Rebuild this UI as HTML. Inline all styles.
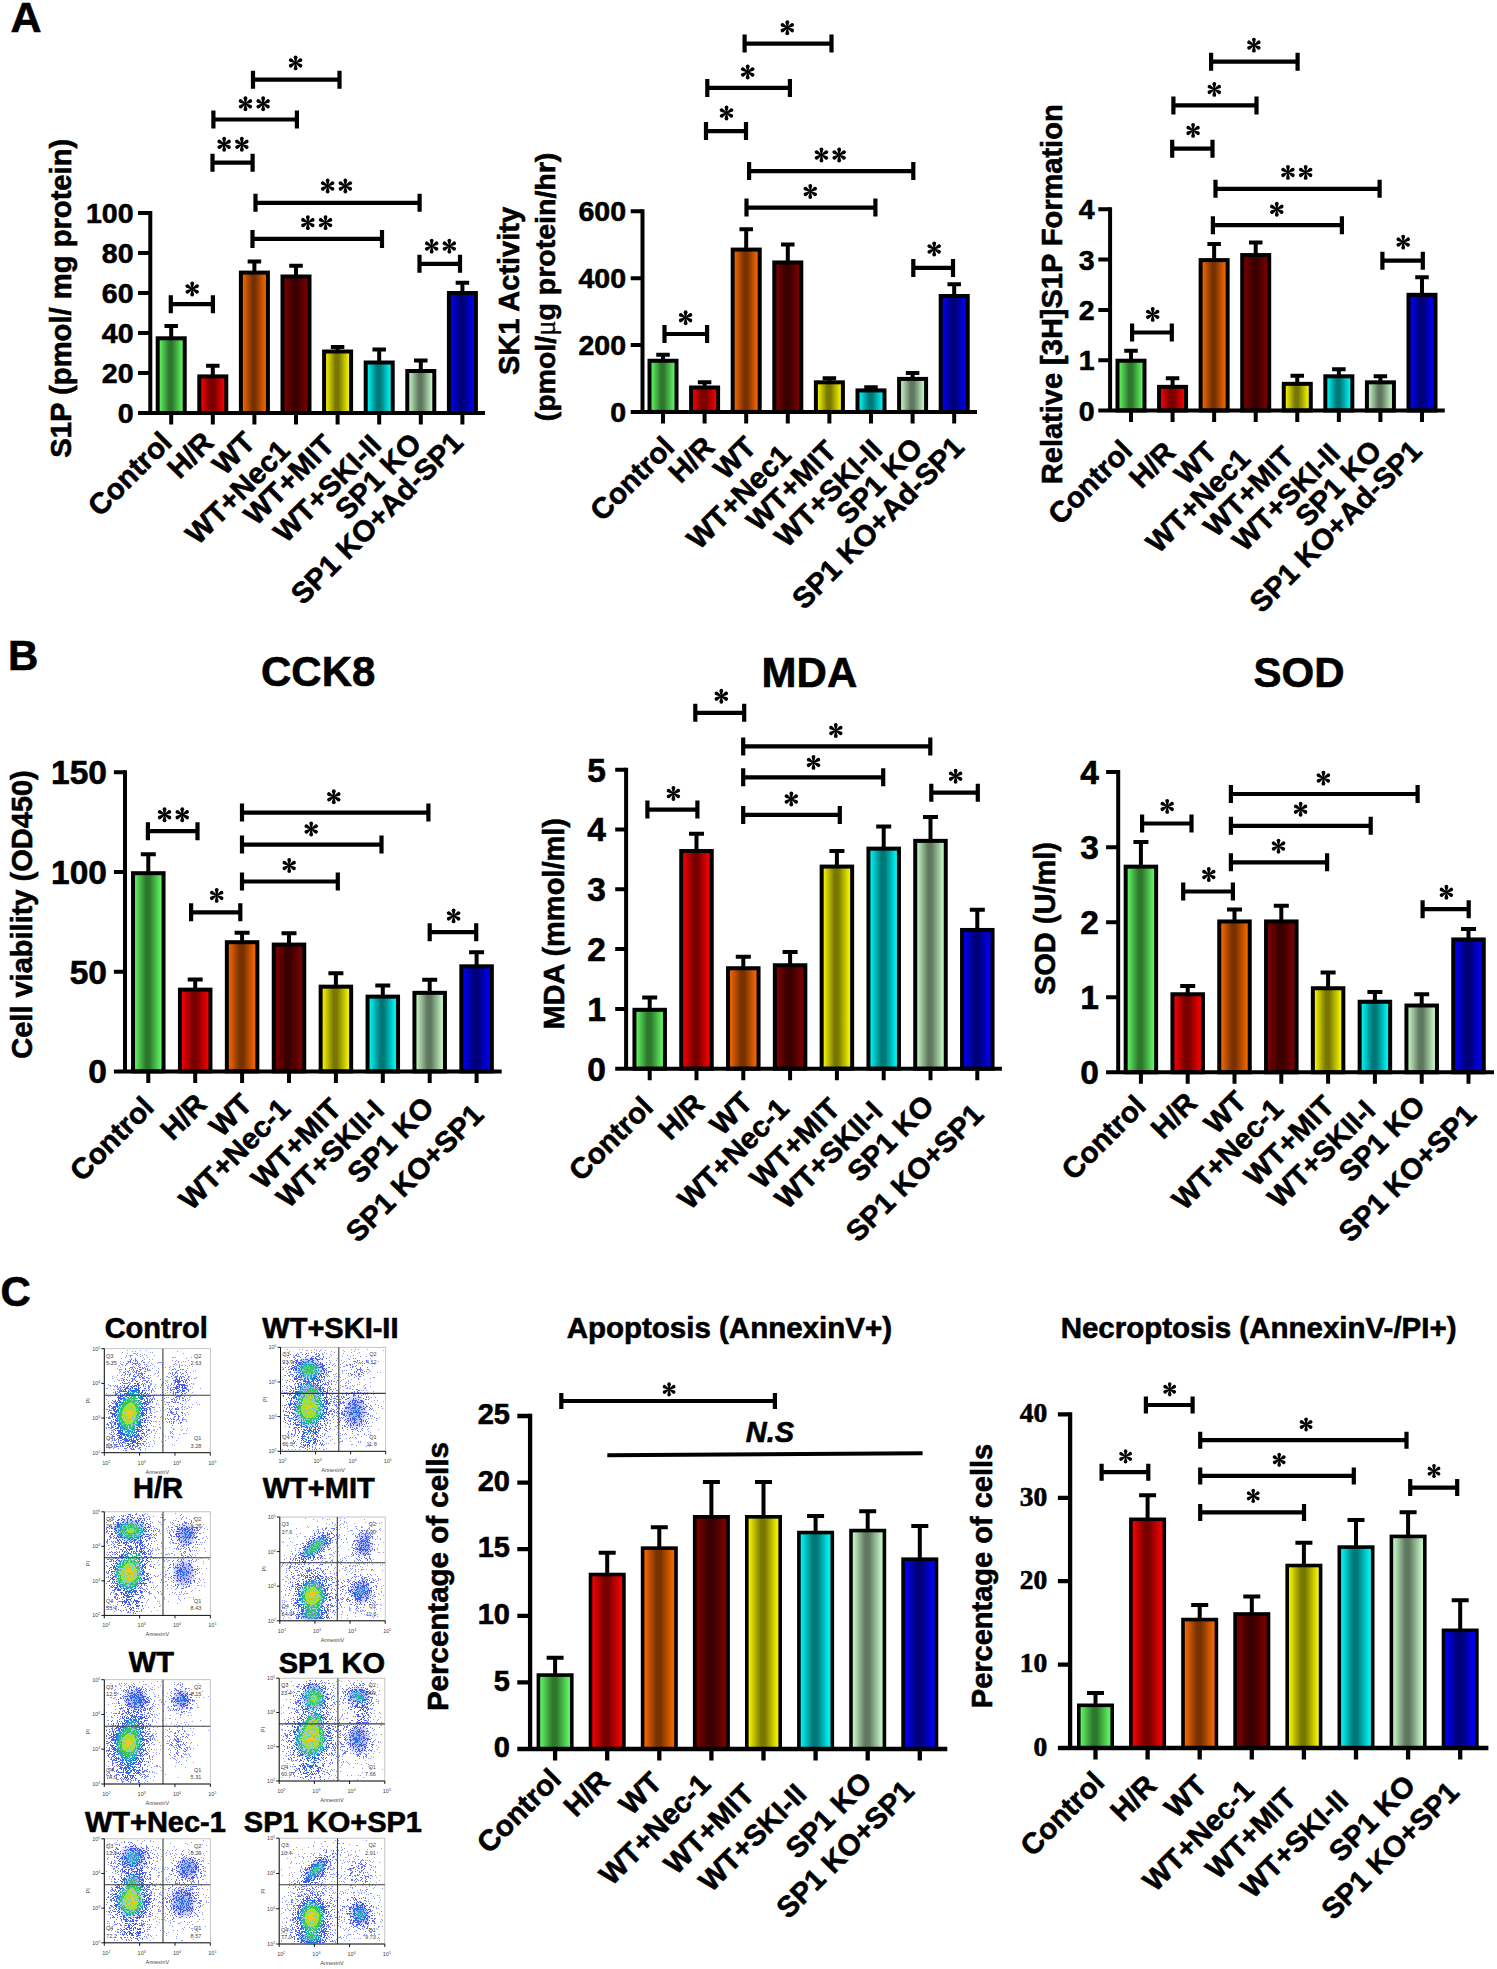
<!DOCTYPE html>
<html><head><meta charset="utf-8"><title>Figure</title>
<style>html,body{margin:0;padding:0;background:#fff;overflow:hidden;}svg{display:block;}.t{font-family:"Liberation Sans",sans-serif;font-weight:bold;stroke:#000;stroke-width:0.6;}.ts{font-family:"Liberation Serif",serif;font-weight:bold;stroke:#000;stroke-width:0.6;}.mu{font-family:"Liberation Serif",serif;font-weight:normal;stroke-width:0.3;}.s{font-family:"Liberation Sans",sans-serif;font-size:5.5px;fill:#444;}</style></head><body>
<svg width="1497" height="1969" viewBox="0 0 1497 1969">
<defs>
<linearGradient id="g0" x1="0" y1="0" x2="1" y2="0"><stop offset="0" stop-color="#5ef05e"/><stop offset="0.08" stop-color="#5ef05e"/><stop offset="0.42" stop-color="#2e782e"/><stop offset="0.54" stop-color="#2e782e"/><stop offset="0.9" stop-color="#5ef05e"/><stop offset="1" stop-color="#5ef05e"/></linearGradient>
<linearGradient id="g1" x1="0" y1="0" x2="1" y2="0"><stop offset="0" stop-color="#f00000"/><stop offset="0.08" stop-color="#f00000"/><stop offset="0.42" stop-color="#780000"/><stop offset="0.54" stop-color="#780000"/><stop offset="0.9" stop-color="#f00000"/><stop offset="1" stop-color="#f00000"/></linearGradient>
<linearGradient id="g2" x1="0" y1="0" x2="1" y2="0"><stop offset="0" stop-color="#f06400"/><stop offset="0.08" stop-color="#f06400"/><stop offset="0.42" stop-color="#783200"/><stop offset="0.54" stop-color="#783200"/><stop offset="0.9" stop-color="#f06400"/><stop offset="1" stop-color="#f06400"/></linearGradient>
<linearGradient id="g3" x1="0" y1="0" x2="1" y2="0"><stop offset="0" stop-color="#780000"/><stop offset="0.08" stop-color="#780000"/><stop offset="0.42" stop-color="#3a0000"/><stop offset="0.54" stop-color="#3a0000"/><stop offset="0.9" stop-color="#780000"/><stop offset="1" stop-color="#780000"/></linearGradient>
<linearGradient id="g4" x1="0" y1="0" x2="1" y2="0"><stop offset="0" stop-color="#f0f000"/><stop offset="0.08" stop-color="#f0f000"/><stop offset="0.42" stop-color="#787800"/><stop offset="0.54" stop-color="#787800"/><stop offset="0.9" stop-color="#f0f000"/><stop offset="1" stop-color="#f0f000"/></linearGradient>
<linearGradient id="g5" x1="0" y1="0" x2="1" y2="0"><stop offset="0" stop-color="#00f0f0"/><stop offset="0.08" stop-color="#00f0f0"/><stop offset="0.42" stop-color="#007878"/><stop offset="0.54" stop-color="#007878"/><stop offset="0.9" stop-color="#00f0f0"/><stop offset="1" stop-color="#00f0f0"/></linearGradient>
<linearGradient id="g6" x1="0" y1="0" x2="1" y2="0"><stop offset="0" stop-color="#c0f0c0"/><stop offset="0.08" stop-color="#c0f0c0"/><stop offset="0.42" stop-color="#607860"/><stop offset="0.54" stop-color="#607860"/><stop offset="0.9" stop-color="#c0f0c0"/><stop offset="1" stop-color="#c0f0c0"/></linearGradient>
<linearGradient id="g7" x1="0" y1="0" x2="1" y2="0"><stop offset="0" stop-color="#0000f0"/><stop offset="0.08" stop-color="#0000f0"/><stop offset="0.42" stop-color="#000078"/><stop offset="0.54" stop-color="#000078"/><stop offset="0.9" stop-color="#0000f0"/><stop offset="1" stop-color="#0000f0"/></linearGradient>
<g id="ast"><path transform="rotate(0)" d="M-0.5 0L-1.9 -5.55A1.9 1.9 0 0 1 1.9 -5.55L0.5 0Z"/><path transform="rotate(60)" d="M-0.5 0L-1.9 -5.55A1.9 1.9 0 0 1 1.9 -5.55L0.5 0Z"/><path transform="rotate(120)" d="M-0.5 0L-1.9 -5.55A1.9 1.9 0 0 1 1.9 -5.55L0.5 0Z"/><path transform="rotate(180)" d="M-0.5 0L-1.9 -5.55A1.9 1.9 0 0 1 1.9 -5.55L0.5 0Z"/><path transform="rotate(240)" d="M-0.5 0L-1.9 -5.55A1.9 1.9 0 0 1 1.9 -5.55L0.5 0Z"/><path transform="rotate(300)" d="M-0.5 0L-1.9 -5.55A1.9 1.9 0 0 1 1.9 -5.55L0.5 0Z"/></g>
<filter id="blur3" x="-50%" y="-50%" width="200%" height="200%"><feGaussianBlur stdDeviation="3"/></filter>
<filter id="blur2" x="-50%" y="-50%" width="200%" height="200%"><feGaussianBlur stdDeviation="1.6"/></filter>
<radialGradient id="core1"><stop offset="0" stop-color="#40e060"/><stop offset="0.6" stop-color="#20c0a0" stop-opacity="0.8"/><stop offset="1" stop-color="#2080ff" stop-opacity="0"/></radialGradient>
<radialGradient id="core2"><stop offset="0" stop-color="#f0c020"/><stop offset="0.3" stop-color="#a0e040"/><stop offset="0.65" stop-color="#20c080" stop-opacity="0.8"/><stop offset="1" stop-color="#2080ff" stop-opacity="0"/></radialGradient>
<radialGradient id="core3"><stop offset="0" stop-color="#f03010"/><stop offset="0.18" stop-color="#f0b020"/><stop offset="0.45" stop-color="#60e040"/><stop offset="0.75" stop-color="#20c090" stop-opacity="0.8"/><stop offset="1" stop-color="#2080ff" stop-opacity="0"/></radialGradient>
<radialGradient id="u1"><stop offset="0" stop-color="#2a50e8" stop-opacity="0.55"/><stop offset="0.6" stop-color="#3848f0" stop-opacity="0.3"/><stop offset="1" stop-color="#4050f0" stop-opacity="0"/></radialGradient>
<radialGradient id="u2"><stop offset="0" stop-color="#40d060" stop-opacity="0.8"/><stop offset="0.35" stop-color="#20b0a0" stop-opacity="0.6"/><stop offset="0.7" stop-color="#3050e8" stop-opacity="0.3"/><stop offset="1" stop-color="#4050f0" stop-opacity="0"/></radialGradient>
</defs>
<rect width="1497" height="1969" fill="#fff"/>
<text x="10.5" y="32.1" class="t" font-size="43">A</text>
<text x="8" y="669.8" class="t" font-size="42">B</text>
<text x="0.5" y="1305.5" class="t" font-size="42">C</text>
<path d="M150.3 211V413" stroke="#000" stroke-width="4" fill="none"/>
<path d="M138 373H150.3M138 333H150.3M138 293H150.3M138 253H150.3M138 213H150.3" stroke="#000" stroke-width="4"/>
<text x="133.5" y="423.12" class="t" font-size="28.5" text-anchor="end">0</text>
<text x="133.5" y="383.12" class="t" font-size="28.5" text-anchor="end">20</text>
<text x="133.5" y="343.12" class="t" font-size="28.5" text-anchor="end">40</text>
<text x="133.5" y="303.12" class="t" font-size="28.5" text-anchor="end">60</text>
<text x="133.5" y="263.12" class="t" font-size="28.5" text-anchor="end">80</text>
<text x="133.5" y="223.12" class="t" font-size="28.5" text-anchor="end">100</text>
<path d="M171.2 338.3V326M164.45 326H177.95" stroke="#000" stroke-width="4" fill="none"/>
<rect x="157.7" y="338.3" width="27" height="74.7" fill="url(#g0)" stroke="#000" stroke-width="4"/>
<path d="M212.8 376.4V365.8M206.05 365.8H219.55" stroke="#000" stroke-width="4" fill="none"/>
<rect x="199.3" y="376.4" width="27" height="36.6" fill="url(#g1)" stroke="#000" stroke-width="4"/>
<path d="M254.4 272.6V261.4M247.65 261.4H261.15" stroke="#000" stroke-width="4" fill="none"/>
<rect x="240.9" y="272.6" width="27" height="140.4" fill="url(#g2)" stroke="#000" stroke-width="4"/>
<path d="M296 276.5V265.8M289.25 265.8H302.75" stroke="#000" stroke-width="4" fill="none"/>
<rect x="282.5" y="276.5" width="27" height="136.5" fill="url(#g3)" stroke="#000" stroke-width="4"/>
<path d="M337.6 351.5V347M330.85 347H344.35" stroke="#000" stroke-width="4" fill="none"/>
<rect x="324.1" y="351.5" width="27" height="61.5" fill="url(#g4)" stroke="#000" stroke-width="4"/>
<path d="M379.2 362.5V349.6M372.45 349.6H385.95" stroke="#000" stroke-width="4" fill="none"/>
<rect x="365.7" y="362.5" width="27" height="50.5" fill="url(#g5)" stroke="#000" stroke-width="4"/>
<path d="M420.8 371V360.5M414.05 360.5H427.55" stroke="#000" stroke-width="4" fill="none"/>
<rect x="407.3" y="371" width="27" height="42" fill="url(#g6)" stroke="#000" stroke-width="4"/>
<path d="M462.4 293V282.8M455.65 282.8H469.15" stroke="#000" stroke-width="4" fill="none"/>
<rect x="448.9" y="293" width="27" height="120" fill="url(#g7)" stroke="#000" stroke-width="4"/>
<path d="M138 413H485" stroke="#000" stroke-width="4"/>
<path d="M171.2 413V424.5M212.8 413V424.5M254.4 413V424.5M296 413V424.5M337.6 413V424.5M379.2 413V424.5M420.8 413V424.5M462.4 413V424.5" stroke="#000" stroke-width="4"/>
<path d="M170.8 304.2H212.9M170.8 295.2V313.2M212.9 295.2V313.2" stroke="#000" stroke-width="4.2" fill="none"/>
<use href="#ast" transform="translate(192.2 289) scale(1)"/>
<path d="M212.5 162.7H252.6M212.5 153.7V171.7M252.6 153.7V171.7" stroke="#000" stroke-width="4.2" fill="none"/>
<use href="#ast" transform="translate(224.15 144.3) scale(1)"/><use href="#ast" transform="translate(241.85 144.3) scale(1)"/>
<path d="M213.4 119.5H296.9M213.4 110.5V128.5M296.9 110.5V128.5" stroke="#000" stroke-width="4.2" fill="none"/>
<use href="#ast" transform="translate(245.45 103.8) scale(1)"/><use href="#ast" transform="translate(263.15 103.8) scale(1)"/>
<path d="M253 79.7H339.5M253 70.7V88.7M339.5 70.7V88.7" stroke="#000" stroke-width="4.2" fill="none"/>
<use href="#ast" transform="translate(295.6 62.9) scale(1)"/>
<path d="M255.5 202.8H419.6M255.5 193.8V211.8M419.6 193.8V211.8" stroke="#000" stroke-width="4.2" fill="none"/>
<use href="#ast" transform="translate(327.65 186) scale(1)"/><use href="#ast" transform="translate(345.35 186) scale(1)"/>
<path d="M252.5 238.9H382M252.5 229.9V247.9M382 229.9V247.9" stroke="#000" stroke-width="4.2" fill="none"/>
<use href="#ast" transform="translate(307.85 222.6) scale(1)"/><use href="#ast" transform="translate(325.55 222.6) scale(1)"/>
<path d="M419.5 263.8H460M419.5 254.8V272.8M460 254.8V272.8" stroke="#000" stroke-width="4.2" fill="none"/>
<use href="#ast" transform="translate(431.65 246.1) scale(1)"/><use href="#ast" transform="translate(449.35 246.1) scale(1)"/>
<text transform="translate(173.6 444.2) rotate(-45)" class="t" font-size="29.3" text-anchor="end">Control</text>
<text transform="translate(215.2 444.2) rotate(-45)" class="t" font-size="29.3" text-anchor="end">H/R</text>
<text transform="translate(256.8 444.2) rotate(-45)" class="t" font-size="29.3" text-anchor="end">WT</text>
<text transform="translate(291.68 452.19) rotate(-45)" class="t" font-size="29.3" text-anchor="end">WT+Nec1</text>
<text transform="translate(336.04 446.89) rotate(-45)" class="t" font-size="29.3" text-anchor="end">WT+MIT</text>
<text transform="translate(382.94 446.82) rotate(-45)" class="t" font-size="29.3" text-anchor="end">WT+SKI-II</text>
<text transform="translate(423.2 445.47) rotate(-45)" class="t" font-size="29.3" text-anchor="end">SP1 KO</text>
<text transform="translate(464.8 444.2) rotate(-45)" class="t" font-size="29.3" text-anchor="end">SP1 KO+Ad-SP1</text>
<text transform="translate(71.2 298.2) rotate(-90)" class="t" font-size="29.2" text-anchor="middle">S1P (pmol/ mg protein)</text>
<path d="M642.5 209.3V411.9" stroke="#000" stroke-width="4" fill="none"/>
<path d="M630.7 345.03H642.5M630.7 278.17H642.5M630.7 211.3H642.5" stroke="#000" stroke-width="4"/>
<text x="626" y="422.02" class="t" font-size="28.5" text-anchor="end">0</text>
<text x="626" y="355.15" class="t" font-size="28.5" text-anchor="end">200</text>
<text x="626" y="288.28" class="t" font-size="28.5" text-anchor="end">400</text>
<text x="626" y="221.42" class="t" font-size="28.5" text-anchor="end">600</text>
<path d="M663 360.75V354.73M656.25 354.73H669.75" stroke="#000" stroke-width="4" fill="none"/>
<rect x="649.5" y="360.75" width="27" height="51.15" fill="url(#g0)" stroke="#000" stroke-width="4"/>
<path d="M704.6 387.49V382.31M697.85 382.31H711.35" stroke="#000" stroke-width="4" fill="none"/>
<rect x="691.1" y="387.49" width="27" height="24.41" fill="url(#g1)" stroke="#000" stroke-width="4"/>
<path d="M746.2 249.58V229.35M739.45 229.35H752.95" stroke="#000" stroke-width="4" fill="none"/>
<rect x="732.7" y="249.58" width="27" height="162.32" fill="url(#g2)" stroke="#000" stroke-width="4"/>
<path d="M787.8 262.45V244.4M781.05 244.4H794.55" stroke="#000" stroke-width="4" fill="none"/>
<rect x="774.3" y="262.45" width="27" height="149.45" fill="url(#g3)" stroke="#000" stroke-width="4"/>
<path d="M829.4 382.31V378.3M822.65 378.3H836.15" stroke="#000" stroke-width="4" fill="none"/>
<rect x="815.9" y="382.31" width="27" height="29.59" fill="url(#g4)" stroke="#000" stroke-width="4"/>
<path d="M871 390.4V387.16M864.25 387.16H877.75" stroke="#000" stroke-width="4" fill="none"/>
<rect x="857.5" y="390.4" width="27" height="21.5" fill="url(#g5)" stroke="#000" stroke-width="4"/>
<path d="M912.6 378.9V372.98M905.85 372.98H919.35" stroke="#000" stroke-width="4" fill="none"/>
<rect x="899.1" y="378.9" width="27" height="33" fill="url(#g6)" stroke="#000" stroke-width="4"/>
<path d="M954.2 295.99V284.28M947.45 284.28H960.95" stroke="#000" stroke-width="4" fill="none"/>
<rect x="940.7" y="295.99" width="27" height="115.91" fill="url(#g7)" stroke="#000" stroke-width="4"/>
<path d="M630.7 411.9H977" stroke="#000" stroke-width="4"/>
<path d="M663 411.9V423.4M704.6 411.9V423.4M746.2 411.9V423.4M787.8 411.9V423.4M829.4 411.9V423.4M871 411.9V423.4M912.6 411.9V423.4M954.2 411.9V423.4" stroke="#000" stroke-width="4"/>
<path d="M664.5 334H707.1M664.5 325V343M707.1 325V343" stroke="#000" stroke-width="4.2" fill="none"/>
<use href="#ast" transform="translate(685.6 317.7) scale(1)"/>
<path d="M913.3 267.9H953M913.3 258.9V276.9M953 258.9V276.9" stroke="#000" stroke-width="4.2" fill="none"/>
<use href="#ast" transform="translate(934.2 249) scale(1)"/>
<path d="M746.5 207.6H875.4M746.5 198.6V216.6M875.4 198.6V216.6" stroke="#000" stroke-width="4.2" fill="none"/>
<use href="#ast" transform="translate(810.3 191.5) scale(1)"/>
<path d="M749.1 171.1H913.3M749.1 162.1V180.1M913.3 162.1V180.1" stroke="#000" stroke-width="4.2" fill="none"/>
<use href="#ast" transform="translate(821.45 155) scale(1)"/><use href="#ast" transform="translate(839.15 155) scale(1)"/>
<path d="M706 131.1H746M706 122.1V140.1M746 122.1V140.1" stroke="#000" stroke-width="4.2" fill="none"/>
<use href="#ast" transform="translate(726.5 113) scale(1)"/>
<path d="M707.3 87.9H789.9M707.3 78.9V96.9M789.9 78.9V96.9" stroke="#000" stroke-width="4.2" fill="none"/>
<use href="#ast" transform="translate(747.7 72) scale(1)"/>
<path d="M744.6 43.6H831.5M744.6 34.6V52.6M831.5 34.6V52.6" stroke="#000" stroke-width="4.2" fill="none"/>
<use href="#ast" transform="translate(787.3 27.7) scale(1)"/>
<text transform="translate(675.97 448.9) rotate(-45)" class="t" font-size="29.3" text-anchor="end">Control</text>
<text transform="translate(716.3 448.9) rotate(-45)" class="t" font-size="29.3" text-anchor="end">H/R</text>
<text transform="translate(757.9 448.9) rotate(-45)" class="t" font-size="29.3" text-anchor="end">WT</text>
<text transform="translate(792.78 456.89) rotate(-45)" class="t" font-size="29.3" text-anchor="end">WT+Nec1</text>
<text transform="translate(838.41 452.86) rotate(-45)" class="t" font-size="29.3" text-anchor="end">WT+MIT</text>
<text transform="translate(884.04 451.52) rotate(-45)" class="t" font-size="29.3" text-anchor="end">WT+SKI-II</text>
<text transform="translate(924.3 450.17) rotate(-45)" class="t" font-size="29.3" text-anchor="end">SP1 KO</text>
<text transform="translate(965.9 448.9) rotate(-45)" class="t" font-size="29.3" text-anchor="end">SP1 KO+Ad-SP1</text>
<text transform="translate(519 291) rotate(-90)" class="t" font-size="29" text-anchor="middle">SK1 Activity</text>
<text transform="translate(554.5 287) rotate(-90)" class="t" font-size="28.5" text-anchor="middle">(pmol/<tspan class="mu">μ</tspan>g protein/hr)</text>
<path d="M1110.1 207.3V410.5" stroke="#000" stroke-width="4" fill="none"/>
<path d="M1098.3 360.2H1110.1M1098.3 309.9H1110.1M1098.3 259.6H1110.1M1098.3 209.3H1110.1" stroke="#000" stroke-width="4"/>
<text x="1094.5" y="420.62" class="t" font-size="28.5" text-anchor="end">0</text>
<text x="1094.5" y="370.32" class="t" font-size="28.5" text-anchor="end">1</text>
<text x="1094.5" y="320.02" class="t" font-size="28.5" text-anchor="end">2</text>
<text x="1094.5" y="269.72" class="t" font-size="28.5" text-anchor="end">3</text>
<text x="1094.5" y="219.42" class="t" font-size="28.5" text-anchor="end">4</text>
<path d="M1131 360.7V350.64M1124.25 350.64H1137.75" stroke="#000" stroke-width="4" fill="none"/>
<rect x="1117.5" y="360.7" width="27" height="49.8" fill="url(#g0)" stroke="#000" stroke-width="4"/>
<path d="M1172.57 386.86V378.31M1165.82 378.31H1179.32" stroke="#000" stroke-width="4" fill="none"/>
<rect x="1159.07" y="386.86" width="27" height="23.64" fill="url(#g1)" stroke="#000" stroke-width="4"/>
<path d="M1214.14 260.1V244.01M1207.39 244.01H1220.89" stroke="#000" stroke-width="4" fill="none"/>
<rect x="1200.64" y="260.1" width="27" height="150.4" fill="url(#g2)" stroke="#000" stroke-width="4"/>
<path d="M1255.71 255.07V242.5M1248.96 242.5H1262.46" stroke="#000" stroke-width="4" fill="none"/>
<rect x="1242.21" y="255.07" width="27" height="155.43" fill="url(#g3)" stroke="#000" stroke-width="4"/>
<path d="M1297.28 383.84V375.79M1290.53 375.79H1304.03" stroke="#000" stroke-width="4" fill="none"/>
<rect x="1283.78" y="383.84" width="27" height="26.66" fill="url(#g4)" stroke="#000" stroke-width="4"/>
<path d="M1338.85 376.3V369.25M1332.1 369.25H1345.6" stroke="#000" stroke-width="4" fill="none"/>
<rect x="1325.35" y="376.3" width="27" height="34.2" fill="url(#g5)" stroke="#000" stroke-width="4"/>
<path d="M1380.42 382.33V376.3M1373.67 376.3H1387.17" stroke="#000" stroke-width="4" fill="none"/>
<rect x="1366.92" y="382.33" width="27" height="28.17" fill="url(#g6)" stroke="#000" stroke-width="4"/>
<path d="M1421.99 294.81V277.21M1415.24 277.21H1428.74" stroke="#000" stroke-width="4" fill="none"/>
<rect x="1408.49" y="294.81" width="27" height="115.69" fill="url(#g7)" stroke="#000" stroke-width="4"/>
<path d="M1098.3 410.5H1444.8" stroke="#000" stroke-width="4"/>
<path d="M1131 410.5V422M1172.57 410.5V422M1214.14 410.5V422M1255.71 410.5V422M1297.28 410.5V422M1338.85 410.5V422M1380.42 410.5V422M1421.99 410.5V422" stroke="#000" stroke-width="4"/>
<path d="M1132.1 332.5H1171.8M1132.1 323.5V341.5M1171.8 323.5V341.5" stroke="#000" stroke-width="4.2" fill="none"/>
<use href="#ast" transform="translate(1152.7 314.4) scale(1)"/>
<path d="M1382.4 260.7H1422.8M1382.4 251.7V269.7M1422.8 251.7V269.7" stroke="#000" stroke-width="4.2" fill="none"/>
<use href="#ast" transform="translate(1403.2 242.1) scale(1)"/>
<path d="M1212.9 225.2H1341.9M1212.9 216.2V234.2M1341.9 216.2V234.2" stroke="#000" stroke-width="4.2" fill="none"/>
<use href="#ast" transform="translate(1276.8 209.3) scale(1)"/>
<path d="M1215.5 188.8H1379.6M1215.5 179.8V197.8M1379.6 179.8V197.8" stroke="#000" stroke-width="4.2" fill="none"/>
<use href="#ast" transform="translate(1287.95 172.4) scale(1)"/><use href="#ast" transform="translate(1305.65 172.4) scale(1)"/>
<path d="M1172.2 148.7H1212.5M1172.2 139.7V157.7M1212.5 139.7V157.7" stroke="#000" stroke-width="4.2" fill="none"/>
<use href="#ast" transform="translate(1193.1 130.4) scale(1)"/>
<path d="M1173.4 105.4H1256.5M1173.4 96.4V114.4M1256.5 96.4V114.4" stroke="#000" stroke-width="4.2" fill="none"/>
<use href="#ast" transform="translate(1214.3 89.4) scale(1)"/>
<path d="M1211.1 61.7H1297.6M1211.1 52.7V70.7M1297.6 52.7V70.7" stroke="#000" stroke-width="4.2" fill="none"/>
<use href="#ast" transform="translate(1253.9 45.1) scale(1)"/>
<text transform="translate(1134 452.6) rotate(-45)" class="t" font-size="29.3" text-anchor="end">Control</text>
<text transform="translate(1177.05 454.08) rotate(-45)" class="t" font-size="29.3" text-anchor="end">H/R</text>
<text transform="translate(1218.62 454.08) rotate(-45)" class="t" font-size="29.3" text-anchor="end">WT</text>
<text transform="translate(1252.06 460.66) rotate(-45)" class="t" font-size="29.3" text-anchor="end">WT+Nec1</text>
<text transform="translate(1295.83 458.47) rotate(-45)" class="t" font-size="29.3" text-anchor="end">WT+MIT</text>
<text transform="translate(1341.85 455.57) rotate(-45)" class="t" font-size="29.3" text-anchor="end">WT+SKI-II</text>
<text transform="translate(1383.42 452.6) rotate(-45)" class="t" font-size="29.3" text-anchor="end">SP1 KO</text>
<text transform="translate(1423.58 452.6) rotate(-45)" class="t" font-size="29.3" text-anchor="end">SP1 KO+Ad-SP1</text>
<text transform="translate(1062 294.3) rotate(-90)" class="t" font-size="29" text-anchor="middle">Relative [3H]S1P Formation</text>
<path d="M125 770.3V1071.4" stroke="#000" stroke-width="4" fill="none"/>
<path d="M113.9 971.7H125M113.9 872H125M113.9 772.3H125" stroke="#000" stroke-width="4"/>
<text x="107" y="1083.29" class="t" font-size="33.5" text-anchor="end">0</text>
<text x="107" y="983.59" class="t" font-size="33.5" text-anchor="end">50</text>
<text x="107" y="883.89" class="t" font-size="33.5" text-anchor="end">100</text>
<text x="107" y="784.19" class="t" font-size="33.5" text-anchor="end">150</text>
<path d="M148.3 873.2V854.25M140.8 854.25H155.8" stroke="#000" stroke-width="4" fill="none"/>
<rect x="133.05" y="873.2" width="30.5" height="198.2" fill="url(#g0)" stroke="#000" stroke-width="4"/>
<path d="M195.2 989.65V979.48M187.7 979.48H202.7" stroke="#000" stroke-width="4" fill="none"/>
<rect x="179.95" y="989.65" width="30.5" height="81.75" fill="url(#g1)" stroke="#000" stroke-width="4"/>
<path d="M242.1 942.19V932.82M234.6 932.82H249.6" stroke="#000" stroke-width="4" fill="none"/>
<rect x="226.85" y="942.19" width="30.5" height="129.21" fill="url(#g2)" stroke="#000" stroke-width="4"/>
<path d="M289 944.58V933.22M281.5 933.22H296.5" stroke="#000" stroke-width="4" fill="none"/>
<rect x="273.75" y="944.58" width="30.5" height="126.82" fill="url(#g3)" stroke="#000" stroke-width="4"/>
<path d="M335.9 986.66V973.3M328.4 973.3H343.4" stroke="#000" stroke-width="4" fill="none"/>
<rect x="320.65" y="986.66" width="30.5" height="84.75" fill="url(#g4)" stroke="#000" stroke-width="4"/>
<path d="M382.8 996.63V985.46M375.3 985.46H390.3" stroke="#000" stroke-width="4" fill="none"/>
<rect x="367.55" y="996.63" width="30.5" height="74.77" fill="url(#g5)" stroke="#000" stroke-width="4"/>
<path d="M429.7 992.84V979.68M422.2 979.68H437.2" stroke="#000" stroke-width="4" fill="none"/>
<rect x="414.45" y="992.84" width="30.5" height="78.56" fill="url(#g6)" stroke="#000" stroke-width="4"/>
<path d="M476.6 966.32V952.36M469.1 952.36H484.1" stroke="#000" stroke-width="4" fill="none"/>
<rect x="461.35" y="966.32" width="30.5" height="105.08" fill="url(#g7)" stroke="#000" stroke-width="4"/>
<path d="M113.9 1071.4H501.7" stroke="#000" stroke-width="4"/>
<path d="M148.3 1071.4V1082.9M195.2 1071.4V1082.9M242.1 1071.4V1082.9M289 1071.4V1082.9M335.9 1071.4V1082.9M382.8 1071.4V1082.9M429.7 1071.4V1082.9M476.6 1071.4V1082.9" stroke="#000" stroke-width="4"/>
<path d="M147.9 831.2H197.5M147.9 822.2V840.2M197.5 822.2V840.2" stroke="#000" stroke-width="4.2" fill="none"/>
<use href="#ast" transform="translate(164.55 814.7) scale(1)"/><use href="#ast" transform="translate(182.25 814.7) scale(1)"/>
<path d="M191.1 912.3H240.3M191.1 903.3V921.3M240.3 903.3V921.3" stroke="#000" stroke-width="4.2" fill="none"/>
<use href="#ast" transform="translate(216.7 895.4) scale(1)"/>
<path d="M242 881.5H337.8M242 872.5V890.5M337.8 872.5V890.5" stroke="#000" stroke-width="4.2" fill="none"/>
<use href="#ast" transform="translate(289.2 865.5) scale(1)"/>
<path d="M242 844.6H381.5M242 835.6V853.6M381.5 835.6V853.6" stroke="#000" stroke-width="4.2" fill="none"/>
<use href="#ast" transform="translate(311.2 829) scale(1)"/>
<path d="M242 812.6H428.4M242 803.6V821.6M428.4 803.6V821.6" stroke="#000" stroke-width="4.2" fill="none"/>
<use href="#ast" transform="translate(333.8 796.8) scale(1)"/>
<path d="M429.7 932.2H476.2M429.7 923.2V941.2M476.2 923.2V941.2" stroke="#000" stroke-width="4.2" fill="none"/>
<use href="#ast" transform="translate(453.6 915.9) scale(1)"/>
<text transform="translate(155.6 1109.1) rotate(-45)" class="t" font-size="29.3" text-anchor="end">Control</text>
<text transform="translate(208.3 1106.13) rotate(-45)" class="t" font-size="29.3" text-anchor="end">H/R</text>
<text transform="translate(253.78 1106.13) rotate(-45)" class="t" font-size="29.3" text-anchor="end">WT</text>
<text transform="translate(291.92 1110.66) rotate(-45)" class="t" font-size="29.3" text-anchor="end">WT+Nec-1</text>
<text transform="translate(343.2 1110.51) rotate(-45)" class="t" font-size="29.3" text-anchor="end">WT+MIT</text>
<text transform="translate(385.72 1112.07) rotate(-45)" class="t" font-size="29.3" text-anchor="end">WT+SKII-I</text>
<text transform="translate(435.59 1109.1) rotate(-45)" class="t" font-size="29.3" text-anchor="end">SP1 KO</text>
<text transform="translate(485.31 1116.45) rotate(-45)" class="t" font-size="29.3" text-anchor="end">SP1 KO+SP1</text>
<text transform="translate(32 914.5) rotate(-90)" class="t" font-size="29" text-anchor="middle">Cell viability (OD450)</text>
<text x="318.2" y="686.3" class="t" font-size="42" text-anchor="middle">CCK8</text>
<path d="M626.1 767.7V1068.7" stroke="#000" stroke-width="4" fill="none"/>
<path d="M615.2 1008.9H626.1M615.2 949.1H626.1M615.2 889.3H626.1M615.2 829.5H626.1M615.2 769.7H626.1" stroke="#000" stroke-width="4"/>
<text x="606" y="1080.59" class="t" font-size="33.5" text-anchor="end">0</text>
<text x="606" y="1020.79" class="t" font-size="33.5" text-anchor="end">1</text>
<text x="606" y="960.99" class="t" font-size="33.5" text-anchor="end">2</text>
<text x="606" y="901.19" class="t" font-size="33.5" text-anchor="end">3</text>
<text x="606" y="841.39" class="t" font-size="33.5" text-anchor="end">4</text>
<text x="606" y="781.59" class="t" font-size="33.5" text-anchor="end">5</text>
<path d="M649.7 1009.8V997.54M642.2 997.54H657.2" stroke="#000" stroke-width="4" fill="none"/>
<rect x="634.45" y="1009.8" width="30.5" height="58.9" fill="url(#g0)" stroke="#000" stroke-width="4"/>
<path d="M696.5 851.03V833.69M689 833.69H704" stroke="#000" stroke-width="4" fill="none"/>
<rect x="681.25" y="851.03" width="30.5" height="217.67" fill="url(#g1)" stroke="#000" stroke-width="4"/>
<path d="M743.3 968.24V956.87M735.8 956.87H750.8" stroke="#000" stroke-width="4" fill="none"/>
<rect x="728.05" y="968.24" width="30.5" height="100.46" fill="url(#g2)" stroke="#000" stroke-width="4"/>
<path d="M790.1 965.25V952.09M782.6 952.09H797.6" stroke="#000" stroke-width="4" fill="none"/>
<rect x="774.85" y="965.25" width="30.5" height="103.45" fill="url(#g3)" stroke="#000" stroke-width="4"/>
<path d="M836.9 866.58V851.03M829.4 851.03H844.4" stroke="#000" stroke-width="4" fill="none"/>
<rect x="821.65" y="866.58" width="30.5" height="202.12" fill="url(#g4)" stroke="#000" stroke-width="4"/>
<path d="M883.7 848.64V826.51M876.2 826.51H891.2" stroke="#000" stroke-width="4" fill="none"/>
<rect x="868.45" y="848.64" width="30.5" height="220.06" fill="url(#g5)" stroke="#000" stroke-width="4"/>
<path d="M930.5 840.86V816.94M923 816.94H938" stroke="#000" stroke-width="4" fill="none"/>
<rect x="915.25" y="840.86" width="30.5" height="227.84" fill="url(#g6)" stroke="#000" stroke-width="4"/>
<path d="M977.3 929.96V909.63M969.8 909.63H984.8" stroke="#000" stroke-width="4" fill="none"/>
<rect x="962.05" y="929.96" width="30.5" height="138.74" fill="url(#g7)" stroke="#000" stroke-width="4"/>
<path d="M615.2 1068.7H1001.9" stroke="#000" stroke-width="4"/>
<path d="M649.7 1068.7V1080.2M696.5 1068.7V1080.2M743.3 1068.7V1080.2M790.1 1068.7V1080.2M836.9 1068.7V1080.2M883.7 1068.7V1080.2M930.5 1068.7V1080.2M977.3 1068.7V1080.2" stroke="#000" stroke-width="4"/>
<path d="M647.4 809.6H697.4M647.4 800.6V818.6M697.4 800.6V818.6" stroke="#000" stroke-width="4.2" fill="none"/>
<use href="#ast" transform="translate(673.4 793.5) scale(1)"/>
<path d="M695.3 712.8H744.2M695.3 703.8V721.8M744.2 703.8V721.8" stroke="#000" stroke-width="4.2" fill="none"/>
<use href="#ast" transform="translate(721.3 696.2) scale(1)"/>
<path d="M743.2 814.9H839.8M743.2 805.9V823.9M839.8 805.9V823.9" stroke="#000" stroke-width="4.2" fill="none"/>
<use href="#ast" transform="translate(791.3 799) scale(1)"/>
<path d="M743.2 777.3H883.2M743.2 768.3V786.3M883.2 768.3V786.3" stroke="#000" stroke-width="4.2" fill="none"/>
<use href="#ast" transform="translate(813.5 762.4) scale(1)"/>
<path d="M743.2 746.4H930.3M743.2 737.4V755.4M930.3 737.4V755.4" stroke="#000" stroke-width="4.2" fill="none"/>
<use href="#ast" transform="translate(835.8 730.5) scale(1)"/>
<path d="M931.3 792.7H977.8M931.3 783.7V801.7M977.8 783.7V801.7" stroke="#000" stroke-width="4.2" fill="none"/>
<use href="#ast" transform="translate(955.6 776.2) scale(1)"/>
<text transform="translate(654.71 1108.9) rotate(-45)" class="t" font-size="29.3" text-anchor="end">Control</text>
<text transform="translate(705.9 1105.93) rotate(-45)" class="t" font-size="29.3" text-anchor="end">H/R</text>
<text transform="translate(754.18 1104.45) rotate(-45)" class="t" font-size="29.3" text-anchor="end">WT</text>
<text transform="translate(790.8 1110.38) rotate(-45)" class="t" font-size="29.3" text-anchor="end">WT+Nec-1</text>
<text transform="translate(841.91 1110.31) rotate(-45)" class="t" font-size="29.3" text-anchor="end">WT+MIT</text>
<text transform="translate(884.33 1113.28) rotate(-45)" class="t" font-size="29.3" text-anchor="end">WT+SKII-I</text>
<text transform="translate(935.51 1107.49) rotate(-45)" class="t" font-size="29.3" text-anchor="end">SP1 KO</text>
<text transform="translate(985.28 1116.25) rotate(-45)" class="t" font-size="29.3" text-anchor="end">SP1 KO+SP1</text>
<text transform="translate(563.5 923.8) rotate(-90)" class="t" font-size="29" text-anchor="middle">MDA (mmol/ml)</text>
<text x="809.4" y="686.5" class="t" font-size="42" text-anchor="middle">MDA</text>
<path d="M1118.2 770.1V1072.3" stroke="#000" stroke-width="4" fill="none"/>
<path d="M1106.1 997.25H1118.2M1106.1 922.2H1118.2M1106.1 847.15H1118.2M1106.1 772.1H1118.2" stroke="#000" stroke-width="4"/>
<text x="1099" y="1084.19" class="t" font-size="33.5" text-anchor="end">0</text>
<text x="1099" y="1009.14" class="t" font-size="33.5" text-anchor="end">1</text>
<text x="1099" y="934.09" class="t" font-size="33.5" text-anchor="end">2</text>
<text x="1099" y="859.04" class="t" font-size="33.5" text-anchor="end">3</text>
<text x="1099" y="783.99" class="t" font-size="33.5" text-anchor="end">4</text>
<path d="M1140.9 866.66V841.9M1133.4 841.9H1148.4" stroke="#000" stroke-width="4" fill="none"/>
<rect x="1125.65" y="866.66" width="30.5" height="205.64" fill="url(#g0)" stroke="#000" stroke-width="4"/>
<path d="M1187.7 994.25V985.99M1180.2 985.99H1195.2" stroke="#000" stroke-width="4" fill="none"/>
<rect x="1172.45" y="994.25" width="30.5" height="78.05" fill="url(#g1)" stroke="#000" stroke-width="4"/>
<path d="M1234.5 921.45V909.44M1227 909.44H1242" stroke="#000" stroke-width="4" fill="none"/>
<rect x="1219.25" y="921.45" width="30.5" height="150.85" fill="url(#g2)" stroke="#000" stroke-width="4"/>
<path d="M1281.3 921.45V905.69M1273.8 905.69H1288.8" stroke="#000" stroke-width="4" fill="none"/>
<rect x="1266.05" y="921.45" width="30.5" height="150.85" fill="url(#g3)" stroke="#000" stroke-width="4"/>
<path d="M1328.1 988.24V972.48M1320.6 972.48H1335.6" stroke="#000" stroke-width="4" fill="none"/>
<rect x="1312.85" y="988.24" width="30.5" height="84.06" fill="url(#g4)" stroke="#000" stroke-width="4"/>
<path d="M1374.9 1001.75V992M1367.4 992H1382.4" stroke="#000" stroke-width="4" fill="none"/>
<rect x="1359.65" y="1001.75" width="30.5" height="70.55" fill="url(#g5)" stroke="#000" stroke-width="4"/>
<path d="M1421.7 1005.51V994.25M1414.2 994.25H1429.2" stroke="#000" stroke-width="4" fill="none"/>
<rect x="1406.45" y="1005.51" width="30.5" height="66.79" fill="url(#g6)" stroke="#000" stroke-width="4"/>
<path d="M1468.5 939.46V928.95M1461 928.95H1476" stroke="#000" stroke-width="4" fill="none"/>
<rect x="1453.25" y="939.46" width="30.5" height="132.84" fill="url(#g7)" stroke="#000" stroke-width="4"/>
<path d="M1106.1 1072.3H1494" stroke="#000" stroke-width="4"/>
<path d="M1140.9 1072.3V1083.8M1187.7 1072.3V1083.8M1234.5 1072.3V1083.8M1281.3 1072.3V1083.8M1328.1 1072.3V1083.8M1374.9 1072.3V1083.8M1421.7 1072.3V1083.8M1468.5 1072.3V1083.8" stroke="#000" stroke-width="4"/>
<path d="M1142.1 823.5H1191.5M1142.1 814.5V832.5M1191.5 814.5V832.5" stroke="#000" stroke-width="4.2" fill="none"/>
<use href="#ast" transform="translate(1167.2 806.4) scale(1)"/>
<path d="M1183.2 891.5H1232.9M1183.2 882.5V900.5M1232.9 882.5V900.5" stroke="#000" stroke-width="4.2" fill="none"/>
<use href="#ast" transform="translate(1208.8 874.5) scale(1)"/>
<path d="M1230.9 862.3H1327.1M1230.9 853.3V871.3M1327.1 853.3V871.3" stroke="#000" stroke-width="4.2" fill="none"/>
<use href="#ast" transform="translate(1278.5 846.1) scale(1)"/>
<path d="M1230.9 825.8H1370.7M1230.9 816.8V834.8M1370.7 816.8V834.8" stroke="#000" stroke-width="4.2" fill="none"/>
<use href="#ast" transform="translate(1300.6 809.2) scale(1)"/>
<path d="M1230.9 794H1417.6M1230.9 785V803M1417.6 785V803" stroke="#000" stroke-width="4.2" fill="none"/>
<use href="#ast" transform="translate(1323.4 778.1) scale(1)"/>
<path d="M1422.6 909.2H1468.7M1422.6 900.2V918.2M1468.7 900.2V918.2" stroke="#000" stroke-width="4.2" fill="none"/>
<use href="#ast" transform="translate(1446.4 892.3) scale(1)"/>
<text transform="translate(1147.5 1107.79) rotate(-45)" class="t" font-size="29.3" text-anchor="end">Control</text>
<text transform="translate(1198.68 1104.82) rotate(-45)" class="t" font-size="29.3" text-anchor="end">H/R</text>
<text transform="translate(1248.45 1103.26) rotate(-45)" class="t" font-size="29.3" text-anchor="end">WT</text>
<text transform="translate(1285 1110.68) rotate(-45)" class="t" font-size="29.3" text-anchor="end">WT+Nec-1</text>
<text transform="translate(1336.18 1107.72) rotate(-45)" class="t" font-size="29.3" text-anchor="end">WT+MIT</text>
<text transform="translate(1377.12 1112.17) rotate(-45)" class="t" font-size="29.3" text-anchor="end">WT+SKII-I</text>
<text transform="translate(1426.89 1107.79) rotate(-45)" class="t" font-size="29.3" text-anchor="end">SP1 KO</text>
<text transform="translate(1478.07 1116.55) rotate(-45)" class="t" font-size="29.3" text-anchor="end">SP1 KO+SP1</text>
<text transform="translate(1055 918.5) rotate(-90)" class="t" font-size="29" text-anchor="middle">SOD (U/ml)</text>
<text x="1299" y="686.8" class="t" font-size="42" text-anchor="middle">SOD</text>
<path d="M530.1 1413.85V1749" stroke="#000" stroke-width="4.3" fill="none"/>
<path d="M517.3 1682.4H530.1M517.3 1615.8H530.1M517.3 1549.2H530.1M517.3 1482.6H530.1M517.3 1416H530.1" stroke="#000" stroke-width="4.3"/>
<text x="510" y="1757.29" class="t" font-size="29" text-anchor="end">0</text>
<text x="510" y="1690.69" class="t" font-size="29" text-anchor="end">5</text>
<text x="510" y="1624.09" class="t" font-size="29" text-anchor="end">10</text>
<text x="510" y="1557.49" class="t" font-size="29" text-anchor="end">15</text>
<text x="510" y="1490.89" class="t" font-size="29" text-anchor="end">20</text>
<text x="510" y="1424.29" class="t" font-size="29" text-anchor="end">25</text>
<path d="M555.1 1675.07V1657.76M546.6 1657.76H563.6" stroke="#000" stroke-width="4" fill="none"/>
<rect x="538.4" y="1675.07" width="33.4" height="73.93" fill="url(#g0)" stroke="#000" stroke-width="3.6"/>
<path d="M607.2 1574.51V1552.8M598.7 1552.8H615.7" stroke="#000" stroke-width="4" fill="none"/>
<rect x="590.5" y="1574.51" width="33.4" height="174.49" fill="url(#g1)" stroke="#000" stroke-width="3.6"/>
<path d="M659.3 1548.13V1527.22M650.8 1527.22H667.8" stroke="#000" stroke-width="4" fill="none"/>
<rect x="642.6" y="1548.13" width="33.4" height="200.87" fill="url(#g2)" stroke="#000" stroke-width="3.6"/>
<path d="M711.4 1516.83V1482.07M702.9 1482.07H719.9" stroke="#000" stroke-width="4" fill="none"/>
<rect x="694.7" y="1516.83" width="33.4" height="232.17" fill="url(#g3)" stroke="#000" stroke-width="3.6"/>
<path d="M763.5 1516.83V1482.07M755 1482.07H772" stroke="#000" stroke-width="4" fill="none"/>
<rect x="746.8" y="1516.83" width="33.4" height="232.17" fill="url(#g4)" stroke="#000" stroke-width="3.6"/>
<path d="M815.6 1532.55V1515.9M807.1 1515.9H824.1" stroke="#000" stroke-width="4" fill="none"/>
<rect x="798.9" y="1532.55" width="33.4" height="216.45" fill="url(#g5)" stroke="#000" stroke-width="3.6"/>
<path d="M867.7 1530.55V1511.24M859.2 1511.24H876.2" stroke="#000" stroke-width="4" fill="none"/>
<rect x="851" y="1530.55" width="33.4" height="218.45" fill="url(#g6)" stroke="#000" stroke-width="3.6"/>
<path d="M919.8 1559.19V1525.89M911.3 1525.89H928.3" stroke="#000" stroke-width="4" fill="none"/>
<rect x="903.1" y="1559.19" width="33.4" height="189.81" fill="url(#g7)" stroke="#000" stroke-width="3.6"/>
<path d="M517.3 1749H947.3" stroke="#000" stroke-width="4.3"/>
<path d="M555.1 1749V1760.5M607.2 1749V1760.5M659.3 1749V1760.5M711.4 1749V1760.5M763.5 1749V1760.5M815.6 1749V1760.5M867.7 1749V1760.5M919.8 1749V1760.5" stroke="#000" stroke-width="4.3"/>
<path d="M561.3 1401H774.9M561.3 1393V1409M774.9 1393V1409" stroke="#000" stroke-width="4.2" fill="none"/>
<use href="#ast" transform="translate(669.1 1389.4) scale(0.95)"/>
<text transform="translate(562.7 1781) rotate(-45)" class="t" font-size="29.3" text-anchor="end">Control</text>
<text transform="translate(611.48 1782.63) rotate(-45)" class="t" font-size="29.3" text-anchor="end">H/R</text>
<text transform="translate(663.58 1784.32) rotate(-45)" class="t" font-size="29.3" text-anchor="end">WT</text>
<text transform="translate(712.28 1786.02) rotate(-45)" class="t" font-size="29.3" text-anchor="end">WT+Nec-1</text>
<text transform="translate(756.04 1796.06) rotate(-45)" class="t" font-size="29.3" text-anchor="end">WT+MIT</text>
<text transform="translate(808.14 1796.06) rotate(-45)" class="t" font-size="29.3" text-anchor="end">WT+SKI-II</text>
<text transform="translate(873.67 1784.32) rotate(-45)" class="t" font-size="29.3" text-anchor="end">SP1 KO</text>
<text transform="translate(915.73 1792.67) rotate(-45)" class="t" font-size="29.3" text-anchor="end">SP1 KO+SP1</text>
<text transform="translate(448 1576.6) rotate(-90)" class="t" font-size="29.5" text-anchor="middle">Percentage of cells</text>
<text x="729.3" y="1338" class="t" font-size="29.5" text-anchor="middle">Apoptosis (AnnexinV+)</text>
<path d="M1070.1 1412.25V1748" stroke="#000" stroke-width="4.3" fill="none"/>
<path d="M1057.9 1664.6H1070.1M1057.9 1581.2H1070.1M1057.9 1497.8H1070.1M1057.9 1414.4H1070.1" stroke="#000" stroke-width="4.3"/>
<text x="1047.2" y="1755.89" class="ts" font-size="27.5" text-anchor="end">0</text>
<text x="1047.2" y="1672.49" class="ts" font-size="27.5" text-anchor="end">10</text>
<text x="1047.2" y="1589.09" class="ts" font-size="27.5" text-anchor="end">20</text>
<text x="1047.2" y="1505.69" class="ts" font-size="27.5" text-anchor="end">30</text>
<text x="1047.2" y="1422.29" class="ts" font-size="27.5" text-anchor="end">40</text>
<path d="M1095.5 1705.3V1693.12M1087 1693.12H1104" stroke="#000" stroke-width="4" fill="none"/>
<rect x="1078.8" y="1705.3" width="33.4" height="42.7" fill="url(#g0)" stroke="#000" stroke-width="3.6"/>
<path d="M1147.6 1519.32V1495.3M1139.1 1495.3H1156.1" stroke="#000" stroke-width="4" fill="none"/>
<rect x="1130.9" y="1519.32" width="33.4" height="228.68" fill="url(#g1)" stroke="#000" stroke-width="3.6"/>
<path d="M1199.7 1619.56V1604.97M1191.2 1604.97H1208.2" stroke="#000" stroke-width="4" fill="none"/>
<rect x="1183" y="1619.56" width="33.4" height="128.44" fill="url(#g2)" stroke="#000" stroke-width="3.6"/>
<path d="M1251.8 1613.98V1596.38M1243.3 1596.38H1260.3" stroke="#000" stroke-width="4" fill="none"/>
<rect x="1235.1" y="1613.98" width="33.4" height="134.02" fill="url(#g3)" stroke="#000" stroke-width="3.6"/>
<path d="M1303.9 1565.52V1542.84M1295.4 1542.84H1312.4" stroke="#000" stroke-width="4" fill="none"/>
<rect x="1287.2" y="1565.52" width="33.4" height="182.48" fill="url(#g4)" stroke="#000" stroke-width="3.6"/>
<path d="M1356 1547.09V1519.9M1347.5 1519.9H1364.5" stroke="#000" stroke-width="4" fill="none"/>
<rect x="1339.3" y="1547.09" width="33.4" height="200.91" fill="url(#g5)" stroke="#000" stroke-width="3.6"/>
<path d="M1408.1 1536.41V1512.14M1399.6 1512.14H1416.6" stroke="#000" stroke-width="4" fill="none"/>
<rect x="1391.4" y="1536.41" width="33.4" height="211.59" fill="url(#g6)" stroke="#000" stroke-width="3.6"/>
<path d="M1460.2 1630.32V1600.22M1451.7 1600.22H1468.7" stroke="#000" stroke-width="4" fill="none"/>
<rect x="1443.5" y="1630.32" width="33.4" height="117.68" fill="url(#g7)" stroke="#000" stroke-width="3.6"/>
<path d="M1057.9 1748H1488.4" stroke="#000" stroke-width="4.3"/>
<path d="M1095.5 1748V1759.5M1147.6 1748V1759.5M1199.7 1748V1759.5M1251.8 1748V1759.5M1303.9 1748V1759.5M1356 1748V1759.5M1408.1 1748V1759.5M1460.2 1748V1759.5" stroke="#000" stroke-width="4.3"/>
<path d="M1101.6 1472.2H1148.3M1101.6 1463.7V1480.7M1148.3 1463.7V1480.7" stroke="#000" stroke-width="4.2" fill="none"/>
<use href="#ast" transform="translate(1125.6 1456.4) scale(0.95)"/>
<path d="M1145.9 1405H1192.6M1145.9 1396.5V1413.5M1192.6 1396.5V1413.5" stroke="#000" stroke-width="4.2" fill="none"/>
<use href="#ast" transform="translate(1169.7 1389.3) scale(0.95)"/>
<path d="M1200.2 1512.4H1304M1200.2 1503.9V1520.9M1304 1503.9V1520.9" stroke="#000" stroke-width="4.2" fill="none"/>
<use href="#ast" transform="translate(1253.2 1495.9) scale(0.95)"/>
<path d="M1200.2 1475.9H1353.8M1200.2 1467.4V1484.4M1353.8 1467.4V1484.4" stroke="#000" stroke-width="4.2" fill="none"/>
<use href="#ast" transform="translate(1279.2 1459.8) scale(0.95)"/>
<path d="M1200.2 1440.2H1406.5M1200.2 1431.7V1448.7M1406.5 1431.7V1448.7" stroke="#000" stroke-width="4.2" fill="none"/>
<use href="#ast" transform="translate(1306.1 1424.5) scale(0.95)"/>
<path d="M1410.2 1487.6H1457.2M1410.2 1479.1V1496.1M1457.2 1479.1V1496.1" stroke="#000" stroke-width="4.2" fill="none"/>
<use href="#ast" transform="translate(1434 1471.1) scale(0.95)"/>
<text transform="translate(1106.1 1784) rotate(-45)" class="t" font-size="29.3" text-anchor="end">Control</text>
<text transform="translate(1158.2 1787.4) rotate(-45)" class="t" font-size="29.3" text-anchor="end">H/R</text>
<text transform="translate(1208.6 1787.4) rotate(-45)" class="t" font-size="29.3" text-anchor="end">WT</text>
<text transform="translate(1255.75 1792.35) rotate(-45)" class="t" font-size="29.3" text-anchor="end">WT+Nec-1</text>
<text transform="translate(1297.81 1800.69) rotate(-45)" class="t" font-size="29.3" text-anchor="end">WT+MIT</text>
<text transform="translate(1349.91 1802.39) rotate(-45)" class="t" font-size="29.3" text-anchor="end">WT+SKI-II</text>
<text transform="translate(1417 1787.4) rotate(-45)" class="t" font-size="29.3" text-anchor="end">SP1 KO</text>
<text transform="translate(1460.76 1794.04) rotate(-45)" class="t" font-size="29.3" text-anchor="end">SP1 KO+SP1</text>
<text transform="translate(992 1576) rotate(-90)" class="t" font-size="29" text-anchor="middle">Percentage of cells</text>
<text x="1258.6" y="1338" class="t" font-size="29.5" text-anchor="middle">Necroptosis (AnnexinV-/PI+)</text>
<path d="M607.3 1455.2L922.6 1453.3" stroke="#000" stroke-width="4"/>
<text x="769.9" y="1442" class="t" font-style="italic" font-size="29" text-anchor="middle">N.S</text>
<text x="156.2" y="1337.8" class="t" font-size="29" text-anchor="middle">Control</text>
<rect x="104.3" y="1348.7" width="106" height="104" fill="#fff" stroke="#b4b4b4" stroke-width="0.8"/>
<ellipse transform="translate(129.21 1414.22) rotate(10)" rx="14.42" ry="20.33" fill="url(#u2)"/>
<path d="M127 1350.5h1m12 0h1m5 0h1m-15 1h1m2 0h1m41 0h1m-56 1h1m27 0h1m1 0h1m-26 1h1m5 0h1m0 0h1m0 0h1m1 0h1m45 0h1m-48 1h1m3 0h1m3 0h1m-19 1h1m2 0h1m0 0h1m0 0h1m0 0h1m4 0h1m4 0h1m3 0h1m7 0h1m-29 1h1m3 0h1m9 0h1m-16 1h1m4 0h1m12 0h1m3 0h1m24 0h1m0 0h1m1 0h1m15 0h1m-71 1h1m9 0h1m54 0h1m-58 1h1m14 0h1m4 0h1m2 0h1m19 1h1m3 0h1m11 0h1m-69 1h1m6 0h1m21 0h1m25 0h1m2 0h1m4 0h1m1 0h1m-74 1h1m10 0h1m24 0h1m9 0h1m0 0h1m0 0h1m0 0h1m16 0h1m2 0h1m-73 1h1m10 0h1m5 0h1m24 0h1m5 0h1m17 0h1m-55 1h1m0 0h1m23 0h1m5 0h1m9 0h1m10 0h1m0 0h1m1 0h1m2 0h1m-61 1h1m2 0h1m24 0h1m2 0h1m28 0h1m1 0h1m0 0h1m2 0h1m3 0h1m-72 1h1m29 0h1m5 0h1m15 0h1m2 0h1m13 0h1m4 0h1m-73 1h1m41 0h1m2 0h1m3 0h1m-53 1h1m34 0h1m5 0h1m28 0h1m-69 1h1m0 0h1m0 0h1m27 0h1m19 0h1m-51 1h1m28 0h1m0 0h1m0 0h1m5 0h1m14 0h1m14 0h1m8 0h1m-76 1h1m37 0h1m34 0h1m-75 1h1m38 0h1m10 0h1m20 0h1m-36 1h1m1 0h1m10 0h1m-47 1h1m31 0h1m-38 1h1m3 0h1m28 0h1m7 0h1m-47 1h1m44 0h1m8 0h1m0 0h1m21 0h1m-74 1h1m33 0h1m17 0h1m0 0h1m26 0h1m-85 1h1m8 0h1m27 0h1m41 0h1m2 0h1m0 0h1m-79 1h1m42 0h1m-43 1h1m0 0h1m31 0h1m13 0h1m1 0h1m-54 1h1m36 0h1m14 0h1m-4 1h1m3 0h1m-18 1h1m0 0h1m10 0h1m2 0h1m25 0h1m1 0h1m-86 1h1m41 0h1m0 0h1m3 0h1m5 0h1m6 0h1m24 0h1m-85 1h1m0 0h1m2 0h1m1 0h1m1 0h1m43 0h1m4 0h1m-57 1h1m3 0h1m1 0h1m0 0h1m36 0h1m12 0h1m0 0h1m21 0h1m-31 1h1m6 0h1m24 0h1m-87 1h1m0 0h1m44 0h1m2 0h1m11 0h1m0 0h1m31 0h1m-88 1h1m0 0h1m75 0h1m-38 1h1m11 0h1m1 0h1m-14 1h1m7 1h1m4 0h1m24 0h1m-87 1h1m58 0h1m-12 1h1m1 0h1m3 0h1m2 0h1m24 1h1m-81 1h1m1 0h1m79 0h1m-25 1h1m1 0h1m20 0h1m-26 1h1m22 0h1m-82 1h1m47 0h1m34 0h1m-33 1h1m3 0h1m23 0h1m2 0h1m-81 1h1m55 0h1m21 0h1m-21 1h1m0 0h1m0 0h1m27 0h1m-41 1h1m28 0h1m-30 1h1m1 0h1m6 0h1m26 0h1m4 0h1m1 0h1m-15 2h1m2 0h1m-36 1h1m0 0h1m4 0h1m3 0h1m20 0h1m4 0h1m1 0h1m-6 1h1m0 0h1m-34 1h1m10 0h1m18 0h1m-25 1h1m2 0h1m-8 1h1m0 0h1m-4 1h1m32 0h1m-4 1h1m0 1h1m2 0h1m-4 1h1m-32 1h1m0 0h1m5 0h1m-8 1h1m5 0h1m1 0h1m20 0h1m-27 1h1m7 0h1m-1 1h1m17 0h1m0 0h1m0 0h1m0 1h1m-34 1h1m1 0h1m0 0h1m2 0h1m2 0h1m3 0h1m19 0h1m-20 1h1m-62 2h1m52 0h1m-9 1h1m1 1h1m1 0h1m25 0h1m-76 1h1m52 0h1m0 0h1m10 0h1m-66 1h1m53 0h1m12 0h1m13 0h1m-34 1h1m2 0h1m15 0h1m0 0h1m7 0h1m-30 1h1m0 0h1m26 0h1m4 0h1m-36 1h1m4 0h1m13 0h1m1 0h1m-22 1h1m18 0h1m0 0h1m-23 1h1m5 0h1m6 0h1m7 0h1m1 0h1m10 0h1m0 0h1m1 0h1m-14 1h1m5 0h1m-26 1h1m8 0h1m-15 1h1m15 0h1m2 0h1m2 0h1m0 0h1m-19 1h1m4 0h1m12 0h1m-5 1h1m9 0h1m-70 1h1m43 1h1m11 0h1m10 0h1m-66 1h1m38 0h1m3 0h1m6 0h1m-14 1h1m-41 1h1m0 0h1m44 0h1m-49 1h1m4 0h1m37 0h1m22 0h1m-10 1h1m10 0h1m-63 1h1m33 0h1m1 0h1m0 0h1m2 0h1m-47 1h1m1 0h1m0 0h1m1 0h1m-3 1h1m3 0h1m31 0h1m-1 2h1" stroke="#8c98ff" stroke-width="1"/>
<path d="M135 1358.5h1m-5 1h1m3 0h1m-6 1h1m2 0h1m1 0h1m0 0h1m5 0h1m-15 1h1m0 0h1m0 0h1m4 0h1m1 0h1m3 0h1m-14 1h1m1 0h1m1 0h1m4 0h1m5 0h1m0 0h1m-18 1h1m5 0h1m0 0h1m0 0h1m0 0h1m0 0h1m1 0h1m-14 1h1m5 0h1m2 0h1m2 0h1m1 0h1m3 0h1m-20 1h1m10 0h1m2 0h1m-7 1h1m4 0h1m7 0h1m32 0h1m-50 1h1m0 0h1m0 0h1m1 0h1m4 0h1m0 0h1m1 0h1m1 0h1m34 0h1m-55 1h1m3 0h1m2 0h1m2 0h1m1 0h1m4 0h1m0 0h1m1 0h1m1 0h1m26 0h1m-50 1h1m5 0h1m1 0h1m5 0h1m0 0h1m0 0h1m3 0h1m1 0h1m24 0h1m0 0h1m1 0h1m4 0h1m1 0h1m0 0h1m-55 1h1m3 0h1m2 0h1m0 0h1m2 0h1m6 0h1m29 0h1m0 0h1m-54 1h1m1 0h1m0 0h1m3 0h1m1 0h1m1 0h1m1 0h1m0 0h1m4 0h1m0 0h1m30 0h1m8 0h1m-63 1h1m0 0h1m3 0h1m4 0h1m1 0h1m0 0h1m4 0h1m30 0h1m2 0h1m0 0h1m3 0h1m5 0h1m-62 1h1m4 0h1m5 0h1m1 0h1m0 0h1m0 0h1m0 0h1m0 0h1m1 0h1m25 0h1m1 0h1m2 0h1m1 0h1m4 0h1m0 0h1m-59 1h1m1 0h1m1 0h1m0 0h1m3 0h1m3 0h1m2 0h1m0 0h1m29 0h1m1 0h1m6 0h1m5 0h1m-64 1h1m4 0h1m3 0h1m3 0h1m0 0h1m1 0h1m1 0h1m5 0h1m24 0h1m3 0h1m7 0h1m-57 1h1m3 0h1m0 0h1m0 0h1m0 0h1m2 0h1m1 0h1m2 0h1m26 0h1m3 0h1m0 0h1m0 0h1m4 0h1m0 0h1m4 0h1m-65 1h1m2 0h1m7 0h1m3 0h1m0 0h1m1 0h1m0 0h1m2 0h1m0 0h1m26 0h1m0 0h1m0 0h1m7 0h1m3 0h1m-67 1h1m8 0h1m0 0h1m1 0h1m7 0h1m0 0h1m0 0h1m3 0h1m23 0h1m14 0h1m-65 1h1m0 0h1m1 0h1m5 0h1m0 0h1m0 0h1m5 0h1m34 0h1m8 0h1m1 0h1m1 0h1m-68 1h1m1 0h1m3 0h1m1 0h1m2 0h1m10 0h1m0 0h1m0 0h1m2 0h1m24 0h1m0 0h1m10 0h1m0 0h1m2 0h1m-66 1h1m6 0h1m0 0h1m9 0h1m3 0h1m0 0h1m37 0h1m-64 1h1m5 0h1m0 0h1m9 0h1m6 0h1m0 0h1m1 0h1m24 0h1m12 0h1m-68 1h1m2 0h1m0 0h1m0 0h1m0 0h1m0 0h1m14 0h1m1 0h1m26 0h1m2 0h1m11 0h1m-46 1h1m1 0h1m1 0h1m25 0h1m2 0h1m14 0h1m-68 1h1m1 0h1m18 0h1m4 0h1m1 0h1m19 0h1m2 0h1m12 0h1m0 0h1m-68 1h1m3 0h1m18 0h1m1 0h1m2 0h1m0 0h1m37 0h1m-71 1h1m1 0h1m1 0h1m1 0h1m0 0h1m23 0h1m0 0h1m21 0h1m1 0h1m0 0h1m11 0h1m-69 1h1m1 0h1m24 0h1m2 0h1m21 0h1m15 0h1m-70 1h1m0 0h1m1 0h1m1 0h1m26 0h1m2 0h1m17 0h1m1 0h1m0 0h1m0 0h1m11 0h1m0 0h1m0 0h1m-70 1h1m0 0h1m0 0h1m26 0h1m2 0h1m18 0h1m0 0h1m16 0h1m-74 1h1m1 0h1m1 0h1m0 0h1m30 0h1m21 0h1m10 0h1m3 0h1m-76 1h1m1 0h1m2 0h1m0 0h1m31 0h1m18 0h1m2 0h1m1 0h1m10 0h1m-72 1h1m0 0h1m0 0h1m31 0h1m23 0h1m1 0h1m8 0h1m0 0h1m-71 1h1m0 0h1m31 0h1m24 0h1m1 0h1m-61 1h1m34 0h1m1 0h1m19 0h1m5 0h1m1 0h1m0 0h1m0 0h1m-34 1h1m0 0h1m2 0h1m22 0h1m0 0h1m0 0h1m0 0h1m0 0h1m3 0h1m-32 1h1m21 0h1m0 0h1m2 0h1m2 0h1m-33 1h1m1 0h1m1 0h1m18 0h1m3 0h1m1 0h1m2 0h1m0 0h1m-35 1h1m1 0h1m0 0h1m18 0h1m0 0h1m1 0h1m1 0h1m2 0h1m5 0h1m-74 1h1m36 0h1m1 0h1m22 0h1m1 0h1m5 0h1m0 0h1m-71 1h1m0 0h1m34 0h1m0 0h1m1 0h1m18 0h1m0 0h1m2 0h1m-65 1h1m36 0h1m0 0h1m0 0h1m1 0h1m16 0h1m3 0h1m0 0h1m0 0h1m1 0h1m0 0h1m-71 1h1m3 0h1m0 0h1m34 0h1m31 0h1m-33 1h1m19 0h1m13 0h1m-74 1h1m0 0h1m-3 1h1m0 0h1m1 0h1m38 0h1m0 0h1m17 0h1m1 0h1m1 0h1m8 0h1m-74 1h1m2 0h1m34 0h1m0 0h1m0 0h1m2 0h1m24 0h1m3 0h1m-71 1h1m37 0h1m0 0h1m16 0h1m1 0h1m2 0h1m2 0h1m0 0h1m1 0h1m-73 1h1m0 0h1m1 0h1m37 0h1m1 0h1m0 0h1m18 0h1m1 0h1m3 0h1m0 0h1m0 0h1m0 0h1m3 0h1m-74 1h1m0 0h1m0 0h1m38 0h1m19 0h1m-63 1h1m41 0h1m19 0h1m0 0h1m4 0h1m-67 1h1m39 0h1m17 0h1m1 0h1m0 0h1m0 0h1m0 0h1m2 0h1m4 0h1m0 0h1m-75 1h1m1 0h1m38 0h1m1 0h1m19 0h1m0 0h1m3 0h1m5 0h1m-16 1h1m5 0h1m0 0h1m0 0h1m1 0h1m-28 1h1m0 0h1m15 0h1m1 0h1m8 0h1m3 0h1m-74 1h1m38 0h1m25 0h1m0 0h1m2 0h1m0 0h1m-74 1h1m1 0h1m0 0h1m38 0h1m0 0h1m1 0h1m22 0h1m3 0h1m-71 1h1m0 0h1m0 0h1m56 0h1m2 0h1m2 0h1m4 0h1m3 0h1m-15 1h1m2 0h1m1 0h1m0 0h1m2 0h1m0 0h1m3 0h1m-72 1h1m35 0h1m0 0h1m1 0h1m25 0h1m2 0h1m2 0h1m-72 1h1m39 0h1m17 0h1m1 0h1m1 0h1m0 0h1m-66 1h1m0 0h1m36 0h1m1 0h1m19 0h1m3 0h1m6 0h1m0 0h1m-75 1h1m2 0h1m0 0h1m38 0h1m20 0h1m1 0h1m4 0h1m1 0h1m-74 1h1m0 0h1m2 0h1m35 0h1m-40 1h1m2 0h1m33 0h1m26 0h1m-62 1h1m0 0h1m31 0h1m1 0h1m-39 1h1m0 0h1m1 0h1m0 0h1m33 0h1m-37 1h1m0 0h1m1 1h1m32 0h1m1 0h1m0 0h1m-39 1h1m0 0h1m34 0h1m0 0h1m0 0h1m-37 1h1m32 0h1m-36 1h1m1 0h1m29 0h1m2 0h1m-38 1h1m4 0h1m28 0h1m0 0h1m-35 1h1m0 0h1m1 0h1m30 0h1m2 0h1m-36 1h1m31 0h1m1 0h1m-35 1h1m0 0h1m0 0h1m27 0h1m2 0h1m-3 1h1m3 0h1m-34 1h1m2 0h1m-4 1h1m1 0h1m25 0h1m3 0h1m-35 1h1m1 0h1m0 0h1m2 0h1m22 0h1m-24 1h1m24 0h1m0 0h1m0 0h1m-33 1h1m2 0h1m1 0h1m-6 1h1m5 0h1m19 0h1m0 0h1m1 0h1m0 0h1m2 0h1m-33 1h1m1 0h1m0 0h1m1 0h1m20 0h1m2 0h1m-24 1h1m1 0h1m14 0h1m0 0h1m2 0h1m2 0h1m-29 1h1m0 0h1m0 0h1m1 0h1m1 0h1m0 0h1m1 0h1m9 0h1m0 0h1m0 0h1m-11 1h1m1 0h1m2 0h1m2 0h1m3 0h1m0 0h1m-23 1h1m5 0h1m0 0h1m0 0h1m3 0h1m0 0h1m1 0h1m4 0h1m0 0h1m-9 1h1m0 0h1m0 0h1m0 0h1m5 0h1m-18 1h1m1 0h1m0 0h1m13 0h1" stroke="#6472fa" stroke-width="1"/>
<path d="M180 1376.5h1m-2 1h1m1 0h1m-6 1h1m2 0h1m1 0h1m-6 1h1m0 0h1m1 0h1m-45 1h1m39 0h1m1 0h1m0 0h1m0 0h1m1 0h1m0 0h1m-47 1h1m0 0h1m37 0h1m0 0h1m0 0h1m0 0h1m0 0h1m0 0h1m2 0h1m-9 1h1m1 0h1m0 0h1m0 0h1m3 0h1m1 0h1m-56 1h1m3 0h1m0 0h1m1 0h1m0 0h1m39 0h1m-50 1h1m7 0h1m0 0h1m38 0h1m0 0h1m0 0h1m0 0h1m0 0h1m0 0h1m0 0h1m0 0h1m-57 1h1m3 0h1m1 0h1m0 0h1m0 0h1m1 0h1m0 0h1m36 0h1m2 0h1m1 0h1m0 0h1m0 0h1m0 0h1m0 0h1m-59 1h1m0 0h1m1 0h1m0 0h1m1 0h1m0 0h1m1 0h1m1 0h1m37 0h1m0 0h1m0 0h1m0 0h1m2 0h1m1 0h1m-59 1h1m0 0h1m3 0h1m0 0h1m5 0h1m1 0h1m34 0h1m0 0h1m0 0h1m1 0h1m1 0h1m0 0h1m1 0h1m0 0h1m-61 1h1m0 0h1m0 0h1m0 0h1m1 0h1m1 0h1m5 0h1m0 0h1m4 0h1m30 0h1m0 0h1m0 0h1m0 0h1m3 0h1m0 0h1m0 0h1m0 0h1m-62 1h1m0 0h1m3 0h1m46 0h1m2 0h1m2 0h1m-60 1h1m1 0h1m16 0h1m0 0h1m0 0h1m1 0h1m30 0h1m0 0h1m1 0h1m1 0h1m0 0h1m0 0h1m-64 1h1m0 0h1m0 0h1m0 0h1m0 0h1m16 0h1m34 0h1m1 0h1m2 0h1m0 0h1m-39 1h1m30 0h1m0 0h1m0 0h1m2 0h1m-62 1h1m23 0h1m0 0h1m1 0h1m34 0h1m-63 1h1m1 0h1m23 0h1m34 0h1m-62 1h1m23 0h1m0 0h1m-28 1h1m1 0h1m0 0h1m23 0h1m1 0h1m0 0h1m-32 1h1m0 0h1m0 0h1m0 0h1m25 0h1m-29 1h1m0 0h1m26 0h1m0 0h1m-30 1h1m28 0h1m-33 1h1m2 0h1m25 0h1m2 0h1m-33 1h1m1 0h1m27 0h1m0 0h1m0 0h1m-34 1h1m1 0h1m27 0h1m0 0h1m1 0h1m-33 1h1m0 0h1m0 0h1m26 0h1m0 0h1m0 0h1m-32 1h1m0 0h1m27 0h1m1 0h1m0 0h1m-32 1h1m29 0h1m-34 1h1m0 0h1m0 0h1m28 0h1m0 0h1m-33 1h1m0 0h1m0 0h1m-4 1h1m0 0h1m1 0h1m28 0h1m0 0h1m0 0h1m-34 1h1m0 0h1m29 0h1m1 0h1m-34 1h1m0 0h1m29 0h1m0 0h1m0 0h1m-33 1h1m31 0h1m-36 1h1m34 0h1m-36 1h1m0 0h1m0 0h1m0 0h1m29 0h1m1 0h1m-35 1h1m0 0h1m0 0h1m30 0h1m-34 1h1m1 0h1m29 0h1m1 0h1m-36 1h1m0 0h1m1 0h1m-3 1h1m33 0h1m-4 1h1m0 0h1m1 0h1m-34 1h1m31 0h1m-2 1h1m0 0h1m-33 1h1m30 0h1m-33 1h1m1 0h1m0 0h1m26 0h1m1 0h1m0 0h1m-32 1h1m0 0h1m-2 1h1m0 0h1m-3 1h1m27 0h1m1 0h1m-29 1h1m25 0h1m0 0h1m-30 1h1m26 0h1m0 0h1m-27 1h1m0 0h1m0 0h1m23 0h1m-28 1h1m24 0h1m2 0h1m0 0h1m-29 1h1m1 0h1m0 0h1m21 0h1m0 0h1m-24 1h1m20 0h1m0 0h1m1 0h1m-25 1h1m0 0h1m-3 1h1m0 0h1m0 0h1m18 0h1m2 0h1m0 0h1m-27 1h1m3 0h1m17 0h1m-22 1h1m0 0h1m0 0h1m18 0h1m0 0h1m1 0h1m-23 1h1m0 0h1m0 0h1m15 0h1m1 0h1m-22 1h1m0 0h1m0 0h1m0 0h1m0 0h1m15 0h1m1 0h1m0 0h1m-23 1h1m0 0h1m0 0h1m14 0h1m2 0h1m0 0h1m0 0h1m-24 1h1m3 0h1m0 0h1m12 0h1m0 0h1m0 0h1m1 0h1m-21 1h1m0 0h1m2 0h1m10 0h1m1 0h1m-15 1h1m1 0h1m0 0h1m6 0h1m0 0h1m0 0h1m2 0h1m0 0h1m-20 1h1m1 0h1m0 0h1m0 0h1m7 0h1m0 0h1m0 0h1m0 0h1m1 0h1m-17 1h1m3 0h1m1 0h1m0 0h1m1 0h1m0 0h1m0 0h1m3 0h1m0 0h1m0 0h1m-17 1h1m5 0h1m0 0h1m3 0h1m3 0h1m-12 1h1m0 0h1m0 0h1m1 0h1m1 0h1m0 0h1m0 0h1m-6 1h1m0 0h1m1 0h1" stroke="#4658f0" stroke-width="1"/>
<path d="M134 1388.5h1m0 0h1m0 0h1m-7 1h1m4 0h1m0 0h1m0 0h1m0 0h1m-11 1h1m1 0h1m0 0h1m0 0h1m0 0h1m0 0h1m0 0h1m0 0h1m0 0h1m0 0h1m0 0h1m-14 1h1m1 0h1m0 0h1m1 0h1m0 0h1m0 0h1m0 0h1m0 0h1m0 0h1m1 0h1m0 0h1m-13 1h1m0 0h1m9 0h1m0 0h1m1 0h1m0 0h1m-19 1h1m0 0h1m0 0h1m0 0h1m0 0h1m11 0h1m0 0h1m-18 1h1m1 0h1m14 0h1m1 0h1m-22 1h1m0 0h1m0 0h1m18 0h1m-22 1h1m18 0h1m0 0h1m0 0h1m0 0h1m-22 1h1m17 0h1m0 0h1m-23 1h1m0 0h1m0 0h1m0 0h1m17 0h1m0 0h1m0 0h1m-24 1h1m0 0h1m19 0h1m0 0h1m1 0h1m-26 1h1m-1 1h1m0 0h1m20 0h1m-24 1h1m0 0h1m0 0h1m22 0h1m-3 1h1m0 0h1m0 0h1m-27 1h1m1 0h1m22 0h1m-26 1h1m1 0h1m21 0h1m-26 1h1m0 0h1m0 0h1m22 0h1m0 0h1m-26 1h1m24 0h1m0 0h1m-3 1h1m0 0h1m0 0h1m-29 1h1m1 0h1m23 0h1m-26 1h1m0 0h1m24 0h1m0 0h1m-29 1h1m0 0h1m25 0h1m-28 1h1m0 0h1m24 0h1m0 0h1m0 0h1m-29 1h1m25 0h1m0 0h1m0 0h1m-28 1h1m24 0h1m0 0h1m0 0h1m-29 1h1m0 0h1m24 0h1m0 0h1m0 0h1m-29 1h1m26 0h1m-28 1h1m0 1h1m-2 1h1m24 0h1m0 0h1m0 0h1m-28 1h1m0 0h1m0 0h1m22 0h1m1 0h1m-27 1h1m0 0h1m22 0h1m-2 1h1m0 0h1m0 0h1m-25 1h1m0 0h1m20 0h1m0 0h1m-24 1h1m0 0h1m19 0h1m0 0h1m0 0h1m-23 1h1m0 0h1m18 0h1m0 0h1m0 0h1m-23 1h1m0 0h1m18 0h1m0 0h1m-23 1h1m0 0h1m1 0h1m16 0h1m1 0h1m-22 1h1m1 0h1m16 0h1m-18 1h1m15 0h1m0 0h1m0 0h1m-20 1h1m0 0h1m0 0h1m0 0h1m14 0h1m0 0h1m-20 1h1m0 0h1m1 0h1m13 0h1m0 0h1m0 0h1m-19 1h1m0 0h1m0 0h1m11 0h1m0 0h1m0 0h1m-17 1h1m0 0h1m0 0h1m0 0h1m0 0h1m8 0h1m2 0h1m-16 1h1m0 0h1m0 0h1m0 0h1m0 0h1m0 0h1m5 0h1m1 0h1m0 0h1m1 0h1m-17 1h1m1 0h1m0 0h1m1 0h1m0 0h1m4 0h1m0 0h1m0 0h1m1 0h1m0 0h1m-13 1h1m1 0h1m0 0h1m1 0h1m0 0h1m0 0h1m1 0h1m0 0h1m0 0h1m-12 1h1m3 0h1m0 0h1m0 0h1m2 0h1m0 0h1m0 0h1m-13 1h1m0 0h1m0 0h1m1 0h1m2 0h1m1 0h1m-10 1h1m0 0h1m0 0h1m0 0h1m1 0h1m0 0h1m0 0h1m1 0h1m-9 1h1m0 0h1m0 0h1m0 0h1m0 0h1m1 0h1m0 0h1m0 0h1m0 0h1m-8 1h1m0 0h1m1 0h1m0 0h1m0 0h1" stroke="#2c6ee2" stroke-width="1"/>
<path d="M130 1392.5h1m1 0h1m0 0h1m0 0h1m1 0h1m0 0h1m-9 1h1m0 0h1m0 0h1m0 0h1m0 0h1m4 0h1m-12 1h1m0 0h1m0 0h1m0 0h1m0 0h1m0 0h1m0 0h1m0 0h1m0 0h1m0 0h1m0 0h1m0 0h1m0 0h1m-14 1h1m0 0h1m0 0h1m0 0h1m0 0h1m6 0h1m0 0h1m0 0h1m-15 1h1m0 0h1m11 0h1m1 0h1m-17 1h1m2 0h1m10 0h1m0 0h1m0 0h1m-17 1h1m0 0h1m13 0h1m0 0h1m-18 1h1m0 0h1m0 0h1m14 0h1m-18 1h1m0 0h1m13 0h1m0 0h1m-17 1h1m14 0h1m1 0h1m-20 1h1m0 0h1m0 0h1m15 0h1m0 0h1m-20 1h1m0 0h1m16 0h1m0 0h1m-21 1h1m0 0h1m17 0h1m0 0h1m-21 1h1m-1 1h1m18 0h1m-21 1h1m19 0h1m0 0h1m-23 1h1m0 0h1m19 0h1m0 0h1m-23 1h1m20 0h1m-22 1h1m20 0h1m0 0h1m-24 1h1m0 0h1m21 0h1m-23 1h1m20 0h1m-1 1h1m0 0h1m-24 1h1m0 0h1m-1 1h1m21 0h1m-24 1h1m0 0h1m20 0h1m0 0h1m-24 1h1m21 0h1m0 0h1m-24 1h1m0 0h1m20 0h1m-23 1h1m1 0h1m-2 1h1m0 0h1m19 0h1m-21 1h1m17 0h1m0 0h1m0 0h1m-21 1h1m0 0h1m16 0h1m0 0h1m-20 1h1m0 0h1m16 0h1m0 0h1m-20 1h1m0 0h1m0 0h1m14 0h1m0 0h1m-17 1h1m14 0h1m0 0h1m-18 1h1m0 0h1m0 0h1m11 0h1m-14 1h1m0 0h1m0 0h1m9 0h1m0 0h1m1 0h1m-16 1h1m0 0h1m0 0h1m0 0h1m7 0h1m0 0h1m0 0h1m-13 1h1m0 0h1m0 0h1m0 0h1m0 0h1m4 0h1m0 0h1m0 0h1m0 0h1m0 0h1m-12 1h1m2 0h1m0 0h1m0 0h1m0 0h1m1 0h1m0 0h1m0 0h1m-10 1h1m0 0h1m0 0h1m0 0h1m0 0h1m0 0h1m0 0h1m0 0h1m1 0h1m-10 1h1m0 0h1m1 0h1m0 0h1m1 0h1m0 0h1m0 0h1m-7 1h1m0 0h1m0 0h1m1 0h1m-5 1h1m0 0h1m1 0h1m-3 1h1m0 0h1m0 0h1" stroke="#20a4c4" stroke-width="1"/>
<path d="M131 1395.5h1m0 0h1m0 0h1m0 0h1m0 0h1m-7 1h1m1 0h1m0 0h1m0 0h1m0 0h1m0 0h1m-8 1h1m1 0h1m0 0h1m1 0h1m0 0h1m0 0h1m-8 1h1m0 0h1m0 0h1m0 0h1m0 0h1m0 0h1m0 0h1m0 0h1m0 0h1m0 0h1m-12 1h1m0 0h1m0 0h1m0 0h1m1 0h1m1 0h1m0 0h1m-10 1h1m0 0h1m0 0h1m0 0h1m0 0h1m0 0h1m0 0h1m1 0h1m0 0h1m0 0h1m0 0h1m0 0h1m-13 1h1m1 0h1m0 0h1m0 0h1m0 0h1m0 0h1m0 0h1m0 0h1m0 0h1m0 0h1m0 0h1m-13 1h1m0 0h1m0 0h1m0 0h1m0 0h1m0 0h1m2 0h1m0 0h1m0 0h1m2 0h1m0 0h1m-16 1h1m0 0h1m0 0h1m0 0h1m0 0h1m5 0h1m1 0h1m0 0h1m-15 1h1m0 0h1m0 0h1m0 0h1m0 0h1m7 0h1m0 0h1m0 0h1m0 0h1m0 0h1m-17 1h1m0 0h1m0 0h1m0 0h1m9 0h1m0 0h1m1 0h1m-17 1h1m0 0h1m0 0h1m10 0h1m0 0h1m0 0h1m-17 1h1m0 0h1m0 0h1m12 0h1m0 0h1m0 0h1m-19 1h1m0 0h1m0 0h1m0 0h1m12 0h1m0 0h1m0 0h1m-19 1h1m0 0h1m0 0h1m15 0h1m-19 1h1m0 0h1m0 0h1m13 0h1m0 0h1m0 0h1m-19 1h1m0 0h1m14 0h1m1 0h1m-20 1h1m0 0h1m0 0h1m15 0h1m0 0h1m-20 1h1m0 0h1m0 0h1m15 0h1m0 0h1m-20 1h1m0 0h1m0 0h1m15 0h1m0 0h1m-20 1h1m0 0h1m0 0h1m14 0h1m0 0h1m0 0h1m-20 1h1m0 0h1m15 0h1m1 0h1m-20 1h1m0 0h1m0 0h1m14 0h1m0 0h1m-19 1h1m0 0h1m0 0h1m13 0h1m1 0h1m0 0h1m-19 1h1m0 0h1m0 0h1m13 0h1m0 0h1m-18 1h1m1 0h1m11 0h1m0 0h1m0 0h1m0 0h1m-17 1h1m0 0h1m0 0h1m10 0h1m1 0h1m-16 1h1m0 0h1m0 0h1m0 0h1m8 0h1m0 0h1m1 0h1m-16 1h1m0 0h1m1 0h1m7 0h1m0 0h1m0 0h1m-12 1h1m0 0h1m0 0h1m0 0h1m1 0h1m0 0h1m0 0h1m2 0h1m1 0h1m-14 1h1m0 0h1m0 0h1m0 0h1m1 0h1m1 0h1m0 0h1m1 0h1m0 0h1m0 0h1m-12 1h1m0 0h1m0 0h1m0 0h1m0 0h1m1 0h1m0 0h1m1 0h1m0 0h1m-10 1h1m0 0h1m0 0h1m0 0h1m1 0h1m0 0h1m0 0h1m0 0h1m-8 1h1m0 0h1m0 0h1m1 0h1m0 0h1m0 0h1m-5 1h1m0 0h1" stroke="#34c664" stroke-width="1"/>
<path d="M130 1402.5h1m0 0h1m-4 1h1m0 0h1m0 0h1m0 0h1m-5 1h1m0 0h1m0 0h1m0 0h1m0 0h1m0 0h1m0 0h1m-6 1h1m0 0h1m0 0h1m0 0h1m0 0h1m0 0h1m0 0h1m-10 1h1m0 0h1m0 0h1m0 0h1m0 0h1m0 0h1m0 0h1m0 0h1m0 0h1m0 0h1m-9 1h1m0 0h1m1 0h1m0 0h1m2 0h1m0 0h1m0 0h1m-12 1h1m0 0h1m0 0h1m0 0h1m0 0h1m0 0h1m1 0h1m0 0h1m0 0h1m0 0h1m0 0h1m-13 1h1m0 0h1m0 0h1m0 0h1m0 0h1m4 0h1m0 0h1m0 0h1m0 0h1m-12 1h1m0 0h1m0 0h1m5 0h1m0 0h1m0 0h1m0 0h1m-14 1h1m0 0h1m0 0h1m0 0h1m8 0h1m0 0h1m-14 1h1m0 0h1m1 0h1m7 0h1m0 0h1m0 0h1m0 0h1m-15 1h1m0 0h1m0 0h1m8 0h1m1 0h1m0 0h1m-15 1h1m1 0h1m8 0h1m0 0h1m0 0h1m-14 1h1m1 0h1m8 0h1m0 0h1m0 0h1m-14 1h1m1 0h1m0 0h1m7 0h1m0 0h1m-13 1h1m0 0h1m0 0h1m0 0h1m6 0h1m0 0h1m0 0h1m-12 1h1m0 0h1m0 0h1m0 0h1m4 0h1m1 0h1m-11 1h1m0 0h1m0 0h1m1 0h1m0 0h1m0 0h1m1 0h1m0 0h1m0 0h1m0 0h1m-12 1h1m0 0h1m0 0h1m0 0h1m0 0h1m0 0h1m0 0h1m0 0h1m0 0h1m0 0h1m0 0h1m-10 1h1m0 0h1m1 0h1m0 0h1m0 0h1m0 0h1m0 0h1m0 0h1m0 0h1m-9 1h1m0 0h1m0 0h1m0 0h1m0 0h1m0 0h1m0 0h1m-6 1h1m0 0h1m0 0h1m0 0h1m0 0h1" stroke="#a8e030" stroke-width="1"/>
<path d="M128 1409.5h1m0 0h1m-3 1h1m0 0h1m0 0h1m0 0h1m0 0h1m-6 1h1m0 0h1m0 0h1m0 0h1m0 0h1m0 0h1m0 0h1m-7 1h1m0 0h1m0 0h1m0 0h1m0 0h1m0 0h1m0 0h1m-8 1h1m0 0h1m0 0h1m0 0h1m0 0h1m0 0h1m0 0h1m0 0h1m-7 1h1m0 0h1m0 0h1m0 0h1m0 0h1m0 0h1m0 0h1m-8 1h1m0 0h1m0 0h1m0 0h1m0 0h1m0 0h1m0 0h1m0 0h1m-6 1h1m0 0h1m0 0h1m0 0h1m0 0h1m-6 1h1m0 0h1m0 0h1m0 0h1m0 0h1m0 0h1m-5 1h1m0 0h1m1 0h1" stroke="#f0c820" stroke-width="1"/>
<path d="M162.9 1348.7V1452.7M104.3 1395.3H210.3" stroke="#3c3c3c" stroke-width="1.1"/>
<path d="M101.3 1452.7H104.3M104.3 1452.7V1455.7M101.3 1418.03H104.3M139.63 1452.7V1455.7M101.3 1383.37H104.3M174.97 1452.7V1455.7M101.3 1348.7H104.3M210.3 1452.7V1455.7" stroke="#000" stroke-width="0.9"/>
<path d="M104.3 1348.7V1452.7H210.3" stroke="#000" stroke-width="0.9" fill="none"/>
<text x="100.3" y="1454.7" class="s" text-anchor="end">10<tspan dy="-2" font-size="3.5">2</tspan></text>
<text x="106.3" y="1464.7" class="s" text-anchor="middle">10<tspan dy="-2" font-size="3.5">2</tspan></text>
<text x="100.3" y="1420.03" class="s" text-anchor="end">10<tspan dy="-2" font-size="3.5">3</tspan></text>
<text x="141.63" y="1464.7" class="s" text-anchor="middle">10<tspan dy="-2" font-size="3.5">3</tspan></text>
<text x="100.3" y="1385.37" class="s" text-anchor="end">10<tspan dy="-2" font-size="3.5">4</tspan></text>
<text x="176.97" y="1464.7" class="s" text-anchor="middle">10<tspan dy="-2" font-size="3.5">4</tspan></text>
<text x="100.3" y="1350.7" class="s" text-anchor="end">10<tspan dy="-2" font-size="3.5">5</tspan></text>
<text x="212.3" y="1464.7" class="s" text-anchor="middle">10<tspan dy="-2" font-size="3.5">5</tspan></text>
<text x="157.3" y="1473.7" class="s" text-anchor="middle">AnnexinV</text>
<text transform="translate(90.3 1400.7) rotate(-90)" class="s" text-anchor="middle">PI</text>
<text x="106.1" y="1357.7" class="s">Q3</text>
<text x="106.1" y="1365.2" class="s">5.25</text>
<text x="201.3" y="1357.7" class="s" text-anchor="end">Q2</text>
<text x="201.3" y="1365.2" class="s" text-anchor="end">2.63</text>
<text x="106.1" y="1440.2" class="s">Q4</text>
<text x="106.1" y="1447.7" class="s">88.8</text>
<text x="201.3" y="1440.2" class="s" text-anchor="end">Q1</text>
<text x="201.3" y="1447.7" class="s" text-anchor="end">3.28</text>
<text x="330.4" y="1337.8" class="t" font-size="29" text-anchor="middle">WT+SKI-II</text>
<rect x="280.5" y="1347.3" width="105.2" height="104" fill="#fff" stroke="#b4b4b4" stroke-width="0.8"/>
<ellipse transform="translate(308.9 1369.14) rotate(0)" rx="16.1" ry="13.26" fill="url(#u2)"/>
<ellipse transform="translate(308.9 1409.7) rotate(0)" rx="16.99" ry="21.22" fill="url(#u2)"/>
<ellipse transform="translate(355.19 1411.78) rotate(0)" rx="13.41" ry="19.45" fill="url(#u1)"/>
<ellipse transform="translate(309.96 1390.98) rotate(0)" rx="14.31" ry="10.61" fill="url(#u1)"/>
<path d="M287 1349.5h1m11 0h1m2 0h1m11 0h1m6 0h1m29 0h1m3 0h1m2 0h1m8 0h1m-62 1h1m0 0h1m3 0h1m4 0h1m3 0h1m4 0h1m17 0h1m39 0h1m-95 1h1m29 0h1m11 0h1m12 0h1m9 0h1m-55 1h1m0 0h1m22 0h1m9 0h1m16 0h1m7 0h1m-76 1h1m12 0h1m24 0h1m3 0h1m16 0h1m13 0h1m-68 1h1m31 0h1m0 0h1m6 0h1m-43 1h1m4 0h1m37 0h1m15 0h1m-6 1h1m7 0h1m15 0h1m-80 1h1m1 0h1m39 0h1m7 1h1m10 0h1m21 0h1m-35 2h1m4 0h1m-60 1h1m61 0h1m1 0h1m24 0h1m6 0h1m-96 1h1m0 0h1m58 0h1m-10 1h1m7 0h1m30 0h1m-41 1h1m6 0h1m5 0h1m27 0h1m-40 1h1m-2 1h1m8 0h1m0 0h1m27 0h1m-91 1h1m57 0h1m-58 1h1m-2 1h1m0 0h1m58 1h1m1 0h1m1 0h1m22 0h1m-28 1h1m27 0h1m-3 1h1m8 0h1m2 0h1m-45 1h1m5 0h1m3 0h1m20 0h1m-33 1h1m3 0h1m-56 1h1m63 0h1m-15 1h1m1 0h1m2 0h1m9 0h1m-10 1h1m32 0h1m0 0h1m-41 1h1m10 0h1m24 0h1m-89 1h1m60 0h1m7 0h1m12 0h1m-80 1h1m51 0h1m3 0h1m6 0h1m-16 1h1m0 0h1m5 0h1m7 0h1m-13 1h1m9 0h1m3 0h1m8 0h1m10 0h1m-26 1h1m2 0h1m-14 1h1m21 0h1m1 0h1m5 0h1m-82 1h1m55 0h1m4 0h1m0 0h1m5 0h1m1 0h1m9 0h1m-83 1h1m59 0h1m0 0h1m1 0h1m4 0h1m2 0h1m9 0h1m6 0h1m-31 1h1m6 0h1m17 0h1m-20 1h1m0 0h1m1 0h1m0 0h1m13 0h1m0 0h1m-84 2h1m54 0h1m5 0h1m17 0h1m1 0h1m2 0h1m-85 1h1m55 0h1m34 0h1m-10 1h1m2 0h1m-2 1h1m7 0h1m-8 1h1m5 0h1m-92 1h1m85 1h1m-1 1h1m2 0h1m3 0h1m-7 1h1m4 2h1m2 0h1m-7 1h1m11 0h1m-9 3h1m2 1h1m2 1h1m-4 1h1m-7 1h1m9 0h1m-10 2h1m2 3h1m-5 2h1m-1 1h1m1 1h1m4 0h1m-9 1h1m4 0h1m0 0h1m-2 2h1m-94 1h1m88 1h1m-88 4h1m49 0h1m0 0h1m32 0h1m1 0h1m-35 2h1m30 0h1m-35 1h1m32 0h1m10 0h1m-36 1h1m24 1h1m-81 1h1m48 0h1m32 0h1m-84 1h1m52 0h1m4 0h1m18 0h1m-77 1h1m47 0h1m5 0h1m1 0h1m1 0h1m10 0h1m0 0h1m5 0h1m3 0h1m1 0h1m-89 1h1m55 0h1m1 0h1m13 0h1m11 0h1m-37 1h1m30 0h1m-12 1h1m1 0h1m2 0h1m-68 1h1m50 0h1m0 0h1m5 0h1m2 0h1m6 0h1m-25 1h1m-3 1h1m11 0h1m-3 1h1m0 0h1m0 0h1m7 0h1m7 0h1m1 0h1m-22 1h1m18 0h1m1 0h1m-78 1h1m2 0h1m3 0h1m35 0h1m1 0h1m5 0h1m41 0h1m-26 1h1m0 0h1m16 0h1m-14 1h1m-70 1h1m5 0h1m72 0h1m2 0h1m-44 2h1m-45 1h1m5 0h1m3 0h1m2 0h1m3 0h1m23 0h1m0 0h1" stroke="#8c98ff" stroke-width="1"/>
<path d="M311 1352.5h1m2 0h1m-9 1h1m1 0h1m7 0h1m1 0h1m-23 1h1m1 0h1m3 0h1m2 0h1m9 0h1m0 0h1m2 0h1m-25 1h1m0 0h1m10 0h1m0 0h1m9 0h1m0 0h1m33 0h1m-60 1h1m2 0h1m0 0h1m0 0h1m6 0h1m5 0h1m0 0h1m2 0h1m0 0h1m0 0h1m4 0h1m36 0h1m-68 1h1m0 0h1m5 0h1m18 0h1m3 0h1m-29 1h1m24 0h1m1 0h1m3 0h1m26 0h1m1 0h1m-62 1h1m2 0h1m23 0h1m0 0h1m26 0h1m-59 1h1m3 0h1m33 0h1m27 0h1m1 0h1m6 0h1m-74 1h1m0 0h1m58 0h1m0 0h1m0 0h1m1 0h1m4 0h1m3 0h1m-79 1h1m4 0h1m32 0h1m3 0h1m25 0h1m2 0h1m1 0h1m-8 1h1m3 0h1m1 0h1m1 0h1m1 0h1m-78 1h1m38 0h1m2 0h1m19 0h1m0 0h1m1 0h1m-21 1h1m13 0h1m0 0h1m2 0h1m5 0h1m5 0h1m-74 1h1m1 0h1m60 0h1m0 0h1m1 0h1m-71 1h1m2 0h1m39 0h1m0 0h1m20 0h1m1 0h1m7 0h1m6 0h1m-78 1h1m65 0h1m3 0h1m-73 1h1m0 0h1m42 0h1m18 0h1m5 0h1m0 0h1m0 0h1m0 0h1m0 0h1m5 0h1m0 0h1m-12 1h1m2 0h1m1 0h1m-77 1h1m3 0h1m37 0h1m0 0h1m0 0h1m0 0h1m22 0h1m1 0h1m3 0h1m3 0h1m1 0h1m-78 1h1m0 0h1m37 0h1m25 0h1m1 0h1m4 0h1m0 0h1m-76 1h1m38 0h1m21 0h1m1 0h1m7 0h1m0 0h1m3 0h1m-74 1h1m0 0h1m35 0h1m5 0h1m17 0h1m0 0h1m1 0h1m3 0h1m0 0h1m1 0h1m-77 1h1m2 0h1m0 0h1m36 0h1m1 0h1m22 0h1m3 0h1m2 0h1m4 0h1m-75 1h1m2 0h1m34 0h1m1 0h1m26 0h1m2 0h1m0 0h1m-7 1h1m-31 1h1m33 0h1m-69 1h1m67 0h1m-72 1h1m4 0h1m31 0h1m3 0h1m2 0h1m-43 1h1m3 0h1m35 0h1m1 0h1m-46 1h1m38 0h1m1 0h1m0 0h1m-4 1h1m2 0h1m2 0h1m-7 1h1m0 0h1m1 0h1m2 0h1m-43 1h1m37 0h1m-41 1h1m2 0h1m0 0h1m37 0h1m-44 1h1m4 0h1m36 0h1m1 0h1m-44 1h1m39 0h1m1 0h1m5 0h1m-46 1h1m36 0h1m2 0h1m0 0h1m1 0h1m18 0h1m3 0h1m0 0h1m-72 1h1m4 0h1m37 0h1m6 0h1m21 0h1m0 0h1m-71 1h1m0 0h1m41 0h1m21 0h1m2 0h1m-74 1h1m1 0h1m59 0h1m4 0h1m0 0h1m1 0h1m2 0h1m0 0h1m1 0h1m-77 1h1m1 0h1m54 0h1m1 0h1m0 0h1m7 0h1m6 0h1m2 0h1m-76 1h1m1 0h1m39 0h1m2 0h1m9 0h1m3 0h1m1 0h1m4 0h1m0 0h1m8 0h1m1 0h1m-83 1h1m5 0h1m40 0h1m6 0h1m8 0h1m6 0h1m0 0h1m0 0h1m2 0h1m2 0h1m-79 1h1m47 0h1m2 0h1m1 0h1m0 0h1m0 0h1m2 0h1m1 0h1m9 0h1m4 0h1m7 0h1m-79 1h1m42 0h1m6 0h1m2 0h1m1 0h1m0 0h1m4 0h1m8 0h1m0 0h1m0 0h1m5 0h1m-38 1h1m3 0h1m0 0h1m0 0h1m6 0h1m4 0h1m0 0h1m14 0h1m-78 1h1m43 0h1m0 0h1m4 0h1m0 0h1m1 0h1m0 0h1m4 0h1m0 0h1m18 0h1m0 0h1m1 0h1m-35 1h1m27 0h1m-76 1h1m42 0h1m0 0h1m1 0h1m2 0h1m2 0h1m0 0h1m2 0h1m19 0h1m-31 1h1m0 0h1m2 0h1m2 0h1m1 0h1m0 0h1m0 0h1m18 0h1m-76 1h1m41 0h1m7 0h1m1 0h1m0 0h1m1 0h1m24 0h1m-83 1h1m47 0h1m1 0h1m1 0h1m0 0h1m25 0h1m-84 1h1m1 0h1m0 0h1m46 0h1m2 0h1m0 0h1m2 0h1m26 0h1m3 0h1m-35 1h1m29 0h1m0 0h1m3 0h1m-88 1h1m2 0h1m49 0h1m31 0h1m-84 1h1m44 0h1m5 0h1m1 0h1m2 0h1m27 0h1m-85 1h1m45 0h1m0 0h1m2 0h1m32 0h1m1 0h1m-89 1h1m46 0h1m0 0h1m2 0h1m6 0h1m-59 1h1m1 0h1m0 0h1m43 0h1m0 0h1m1 0h1m0 0h1m2 0h1m4 0h1m-56 1h1m46 0h1m1 0h1m1 0h1m2 0h1m0 0h1m23 0h1m-35 1h1m4 0h1m1 0h1m1 0h1m0 0h1m25 0h1m-85 1h1m46 0h1m0 0h1m5 0h1m2 0h1m0 0h1m24 0h1m0 0h1m-85 1h1m0 0h1m0 0h1m0 0h1m0 0h1m45 0h1m1 0h1m6 0h1m26 0h1m-83 1h1m44 0h1m3 0h1m29 0h1m2 0h1m-87 1h1m2 0h1m0 0h1m40 0h1m2 0h1m6 0h1m1 0h1m1 0h1m-60 1h1m4 0h1m48 0h1m1 0h1m1 0h1m25 0h1m-85 1h1m48 0h1m3 0h1m0 0h1m27 0h1m-82 1h1m2 0h1m1 0h1m38 0h1m0 0h1m9 0h1m3 0h1m20 0h1m-77 1h1m0 0h1m48 0h1m23 0h1m1 0h1m1 0h1m-83 1h1m41 0h1m5 0h1m3 0h1m1 0h1m5 0h1m20 0h1m-80 1h1m2 0h1m36 0h1m2 0h1m16 0h1m13 0h1m4 0h1m1 0h1m-81 1h1m1 0h1m34 0h1m13 0h1m6 0h1m15 0h1m1 0h1m-40 1h1m0 0h1m10 0h1m4 0h1m1 0h1m3 0h1m1 0h1m0 0h1m7 0h1m1 0h1m-73 1h1m39 0h1m14 0h1m0 0h1m4 0h1m8 0h1m3 0h1m1 0h1m1 0h1m-79 1h1m35 0h1m16 0h1m4 0h1m2 0h1m1 0h1m3 0h1m-64 1h1m0 0h1m31 0h1m3 0h1m11 0h1m11 0h1m1 0h1m0 0h1m4 0h1m-39 1h1m4 0h1m17 0h1m3 0h1m0 0h1m0 0h1m1 0h1m5 0h1m-70 1h1m2 0h1m29 0h1m0 0h1m30 0h1m4 0h1m-75 1h1m6 0h1m31 0h1m24 0h1m5 0h1m1 0h1m-66 1h1m-5 1h1m3 0h1m26 0h1m2 0h1m26 0h1m-62 1h1m0 0h1m1 0h1m29 0h1m-31 1h1m29 0h1m-34 1h1m1 0h1m28 0h1m5 0h1m-38 2h1m34 0h1m-30 1h1m-5 1h1m28 0h1m-30 1h1m1 0h1m27 0h1m-30 1h1m25 0h1m-28 1h1m0 0h1m5 0h1m19 0h1m1 0h1m-22 1h1m14 0h1m2 0h1m1 0h1m0 0h1m1 0h1m-29 1h1m6 0h1m11 0h1m5 0h1m1 0h1m-24 1h1m0 0h1m2 0h1m2 0h1m1 0h1m2 0h1m-14 1h1m2 0h1m0 0h1m3 0h1m4 0h1m2 0h1m-11 1h1m3 0h1m5 0h1m3 0h1m-13 1h1m4 0h1m1 0h1m1 0h1" stroke="#6472fa" stroke-width="1"/>
<path d="M305 1357.5h1m5 0h1m3 0h1m-6 1h1m0 0h1m0 0h1m0 0h1m1 0h1m0 0h1m-16 1h1m1 0h1m1 0h1m0 0h1m0 0h1m2 0h1m0 0h1m0 0h1m3 0h1m0 0h1m0 0h1m0 0h1m-24 1h1m0 0h1m2 0h1m0 0h1m15 0h1m-22 1h1m0 0h1m20 0h1m-24 1h1m0 0h1m1 0h1m21 0h1m-28 1h1m2 0h1m23 0h1m1 0h1m-28 1h1m24 0h1m0 0h1m0 0h1m-31 1h1m0 0h1m28 0h1m0 0h1m0 0h1m-31 1h1m0 0h1m26 0h1m0 0h1m-32 1h1m0 0h1m0 0h1m27 0h1m-32 1h1m0 0h1m1 0h1m0 0h1m26 0h1m0 0h1m0 0h1m1 0h1m-36 1h1m1 0h1m1 0h1m26 0h1m0 0h1m1 0h1m-33 1h1m1 0h1m27 0h1m0 0h1m1 0h1m-3 1h1m-31 1h1m29 0h1m1 0h1m-5 1h1m0 0h1m-32 1h1m30 0h1m1 0h1m-33 1h1m2 0h1m23 0h1m0 0h1m-27 1h1m0 0h1m24 0h1m1 0h1m0 0h1m-31 1h1m1 0h1m1 0h1m20 0h1m1 0h1m0 0h1m1 0h1m-31 1h1m0 0h1m0 0h1m0 0h1m-4 1h1m0 0h1m0 0h1m1 0h1m0 0h1m19 0h1m1 0h1m1 0h1m-27 1h1m2 0h1m17 0h1m0 0h1m0 0h1m-25 1h1m0 0h1m22 0h1m1 0h1m-24 1h1m0 0h1m17 0h1m1 0h1m-26 1h1m1 0h1m0 0h1m24 0h1m-30 1h1m3 0h1m23 0h1m1 0h1m-27 1h1m21 0h1m0 0h1m-27 1h1m-1 1h1m1 0h1m24 0h1m0 0h1m-32 1h1m0 0h1m1 0h1m26 0h1m1 0h1m-30 1h1m27 0h1m-31 1h1m29 0h1m3 0h1m-35 1h1m1 0h1m27 0h1m0 0h1m0 0h1m1 0h1m-36 1h1m33 0h1m0 0h1m-35 1h1m30 0h1m1 0h1m-37 1h1m35 0h1m-36 1h1m34 0h1m-34 1h1m32 0h1m-35 1h1m0 0h1m31 0h1m0 0h1m0 0h1m-39 1h1m1 0h1m1 0h1m31 0h1m27 0h1m1 0h1m-65 1h1m34 0h1m1 0h1m24 0h1m4 0h1m-69 1h1m0 0h1m34 0h1m0 0h1m24 0h1m0 0h1m0 0h1m0 0h1m0 0h1m3 0h1m0 0h1m-72 1h1m34 0h1m0 0h1m0 0h1m22 0h1m1 0h1m2 0h1m1 0h1m3 0h1m0 0h1m-73 1h1m35 0h1m0 0h1m1 0h1m19 0h1m2 0h1m1 0h1m0 0h1m1 0h1m0 0h1m0 0h1m0 0h1m0 0h1m-72 1h1m0 0h1m0 0h1m32 0h1m0 0h1m0 0h1m0 0h1m0 0h1m18 0h1m0 0h1m0 0h1m2 0h1m0 0h1m8 0h1m-76 1h1m0 0h1m0 0h1m0 0h1m34 0h1m1 0h1m19 0h1m0 0h1m2 0h1m-64 1h1m0 0h1m38 0h1m14 0h1m5 0h1m-62 1h1m36 0h1m32 0h1m0 0h1m2 0h1m-75 1h1m1 0h1m35 0h1m17 0h1m0 0h1m0 0h1m0 0h1m0 0h1m10 0h1m0 0h1m3 0h1m-76 1h1m35 0h1m0 0h1m17 0h1m0 0h1m1 0h1m14 0h1m0 0h1m-75 1h1m35 0h1m0 0h1m33 0h1m0 0h1m1 0h1m-39 1h1m17 0h1m-57 1h1m37 0h1m2 0h1m14 0h1m0 0h1m0 0h1m1 0h1m-60 1h1m1 0h1m34 0h1m1 0h1m18 0h1m14 0h1m0 0h1m0 0h1m0 0h1m-77 1h1m2 0h1m33 0h1m2 0h1m14 0h1m2 0h1m-23 1h1m1 0h1m0 0h1m14 0h1m0 0h1m16 0h1m-71 1h1m36 0h1m15 0h1m1 0h1m2 0h1m14 0h1m-40 1h1m19 0h1m3 0h1m11 0h1m1 0h1m-71 1h1m30 0h1m34 0h1m-70 1h1m0 0h1m0 0h1m32 0h1m0 0h1m20 0h1m0 0h1m1 0h1m9 0h1m-68 1h1m29 0h1m3 0h1m17 0h1m4 0h1m1 0h1m0 0h1m0 0h1m1 0h1m2 0h1m0 0h1m0 0h1m-68 1h1m29 0h1m1 0h1m20 0h1m0 0h1m1 0h1m3 0h1m0 0h1m5 0h1m1 0h1m-40 1h1m21 0h1m1 0h1m2 0h1m2 0h1m5 0h1m0 0h1m-69 1h1m1 0h1m51 0h1m5 0h1m0 0h1m0 0h1m0 0h1m4 0h1m-68 1h1m0 0h1m28 0h1m25 0h1m1 0h1m1 0h1m4 0h1m-67 1h1m1 0h1m0 0h1m0 0h1m22 0h1m29 0h1m2 0h1m3 0h1m1 0h1m-64 1h1m0 0h1m0 0h1m22 0h1m0 0h1m30 0h1m2 0h1m0 0h1m-39 1h1m-26 1h1m0 0h1m0 0h1m1 0h1m0 0h1m18 0h1m1 0h1m1 0h1m-26 1h1m20 0h1m0 0h1m0 0h1m-26 1h1m2 0h1m2 0h1m15 0h1m-20 1h1m19 0h1m0 0h1m-21 1h1m16 0h1m1 0h1m-20 1h1m15 0h1m0 0h1m0 0h1m-20 1h1m16 0h1m2 0h1m-17 1h1m12 0h1m0 0h1m-20 1h1m4 0h1m14 0h1m2 0h1m-20 1h1m0 0h1m13 0h1m0 0h1m-20 1h1m3 0h1m15 0h1m1 0h1m-20 1h1m0 0h1m0 0h1m10 0h1m0 0h1m-14 1h1m10 0h1m0 0h1m0 0h1m0 0h1m-16 1h1m1 0h1m9 0h1m1 0h1m1 0h1m1 0h1m-16 1h1m0 0h1m2 0h1m1 0h1m3 0h1m0 0h1m1 0h1m-17 1h1m1 0h1m2 0h1m0 0h1m0 0h1m0 0h1m3 0h1m0 0h1m0 0h1m-7 1h1m3 0h1m0 0h1m1 0h1m-14 1h1m1 0h1m1 0h1m0 0h1m3 0h1m-9 1h1m0 0h1m1 0h1m1 0h1" stroke="#4658f0" stroke-width="1"/>
<path d="M308 1360.5h1m0 0h1m2 0h1m0 0h1m-12 1h1m0 0h1m3 0h1m0 0h1m2 0h1m0 0h1m-14 1h1m0 0h1m0 0h1m1 0h1m0 0h1m0 0h1m6 0h1m0 0h1m-16 1h1m0 0h1m0 0h1m1 0h1m12 0h1m1 0h1m-21 1h1m1 0h1m0 0h1m0 0h1m14 0h1m2 0h1m-23 1h1m0 0h1m18 0h1m0 0h1m-23 1h1m2 0h1m20 0h1m0 0h1m-26 1h1m21 0h1m0 0h1m0 0h1m0 0h1m-26 1h1m1 0h1m-3 1h1m-1 1h1m1 0h1m22 0h1m-2 1h1m0 0h1m-26 1h1m1 0h1m0 0h1m18 1h1m0 0h1m1 0h1m-25 1h1m2 0h1m17 0h1m1 0h1m-22 1h1m1 0h1m-4 1h1m0 0h1m1 0h1m13 0h1m0 0h1m2 0h1m-21 1h1m0 0h1m0 0h1m11 0h1m0 0h1m0 0h1m1 0h1m-14 1h1m0 0h1m6 0h1m0 0h1m0 0h1m0 0h1m0 0h1m1 0h1m-19 1h1m0 0h1m0 0h1m1 0h1m2 0h1m0 0h1m2 0h1m0 0h1m0 0h1m0 0h1m1 0h1m0 0h1m-15 1h1m0 0h1m0 0h1m2 0h1m3 0h1m0 0h1m1 0h1m1 0h1m-15 1h1m0 0h1m0 0h1m0 0h1m0 0h1m0 0h1m0 0h1m1 0h1m0 0h1m0 0h1m2 0h1m0 0h1m-13 1h1m1 0h1m0 0h1m0 0h1m0 0h1m2 0h1m-13 1h1m1 0h1m0 0h1m1 0h1m6 0h1m0 0h1m0 0h1m1 0h1m0 0h1m-19 1h1m0 0h1m1 0h1m11 0h1m1 0h1m-17 1h1m14 0h1m0 0h1m0 0h1m-21 1h1m0 0h1m0 0h1m1 0h1m14 0h1m2 0h1m-23 1h1m1 0h1m0 0h1m16 0h1m0 0h1m0 0h1m-21 1h1m18 0h1m0 0h1m-25 1h1m1 0h1m20 0h1m0 0h1m0 0h1m-2 1h1m-25 1h1m0 0h1m0 0h1m21 0h1m0 0h1m-27 1h1m0 0h1m0 0h1m24 0h1m-27 1h1m0 0h1m23 0h1m-27 1h1m0 0h1m0 0h1m24 0h1m0 0h1m-30 1h1m0 0h1m1 0h1m24 0h1m0 0h1m-30 1h1m0 0h1m-2 1h1m0 0h1m0 0h1m27 0h1m-31 1h1m1 0h1m26 0h1m-28 1h1m27 0h1m-3 1h1m0 0h1m0 0h1m-32 1h1m1 0h1m28 0h1m-31 1h1m29 0h1m-31 1h1m0 0h1m27 0h1m-31 1h1m0 0h1m0 0h1m27 0h1m1 0h1m27 0h1m0 0h1m0 0h1m0 0h1m-34 1h1m30 0h1m0 0h1m1 0h1m0 0h1m-66 1h1m0 0h1m28 0h1m0 0h1m0 0h1m24 0h1m4 0h1m0 0h1m-65 1h1m1 0h1m29 0h1m27 0h1m0 0h1m0 0h1m0 0h1m3 0h1m-36 1h1m0 0h1m25 0h1m0 0h1m0 0h1m0 0h1m0 0h1m2 0h1m0 0h1m-68 1h1m0 0h1m0 0h1m28 0h1m26 0h1m6 0h1m-64 1h1m28 0h1m27 0h1m1 0h1m1 0h1m0 0h1m1 0h1m0 0h1m-37 1h1m29 0h1m1 0h1m0 0h1m1 0h1m-67 1h1m30 0h1m0 0h1m0 0h1m23 0h1m0 0h1m0 0h1m1 0h1m0 0h1m0 0h1m0 0h1m0 0h1m0 0h1m0 0h1m0 0h1m-68 1h1m0 0h1m27 0h1m1 0h1m25 0h1m0 0h1m0 0h1m4 0h1m1 0h1m0 0h1m-68 1h1m1 0h1m26 0h1m0 0h1m25 0h1m0 0h1m0 0h1m0 0h1m3 0h1m2 0h1m-65 1h1m26 0h1m34 0h1m0 0h1m0 0h1m-66 1h1m1 0h1m24 0h1m1 0h1m0 0h1m28 0h1m1 0h1m0 0h1m1 0h1m0 0h1m-65 1h1m0 0h1m24 0h1m30 0h1m1 0h1m3 0h1m-39 1h1m0 0h1m0 0h1m0 0h1m28 0h1m0 0h1m0 0h1m0 0h1m-61 1h1m0 0h1m0 0h1m-3 1h1m2 1h1m19 0h1m1 0h1m-24 1h1m1 0h1m0 0h1m16 0h1m-17 1h1m14 0h1m1 0h1m1 0h1m-23 1h1m0 0h1m1 0h1m13 0h1m1 0h1m-18 1h1m0 0h1m13 0h1m1 0h1m-17 1h1m0 0h1m0 0h1m0 0h1m1 0h1m5 0h1m0 0h1m2 0h1m0 0h1m-17 1h1m3 0h1m0 0h1m0 0h1m1 0h1m1 0h1m2 0h1m0 0h1m-9 1h1m1 0h1m1 0h1m3 0h1m-13 1h1m0 0h1m1 0h1m2 0h1m0 0h1m2 0h1m0 0h1m0 0h1m-12 1h1m0 0h1m1 0h1m0 0h1m0 0h1m0 0h1m0 0h1m1 0h1m1 0h1m-14 1h1m0 0h1m4 0h1m0 0h1m1 0h1m0 0h1m0 0h1m1 0h1m-13 1h1m0 0h1m0 0h1m0 0h1m1 0h1m1 0h1m2 0h1m0 0h1m-12 1h1m0 0h1m2 0h1m2 0h1m1 0h1m1 0h1m-12 1h1m2 0h1m0 0h1m1 0h1m3 0h1m-10 1h1m6 0h1m0 0h1m-10 1h1m0 0h1m0 0h1m2 0h1m2 0h1m1 0h1m-7 1h1m0 0h1m4 0h1m-10 1h1m3 0h1m1 0h1m1 0h1m-8 1h1m0 0h1m-1 1h1m1 0h1m0 0h1m0 0h1m0 0h1" stroke="#2c6ee2" stroke-width="1"/>
<path d="M306 1362.5h1m1 0h1m-4 1h1m1 0h1m6 0h1m-13 1h1m0 0h1m0 0h1m0 0h1m0 0h1m1 0h1m0 0h1m0 0h1m0 0h1m0 0h1m0 0h1m1 0h1m-15 1h1m2 0h1m8 0h1m0 0h1m1 0h1m-16 1h1m0 0h1m0 0h1m11 0h1m0 0h1m-17 1h1m0 0h1m0 0h1m12 0h1m0 0h1m0 0h1m-19 1h1m1 0h1m13 0h1m0 0h1m-18 1h1m1 0h1m16 0h1m-20 1h1m0 0h1m0 0h1m13 0h1m0 0h1m1 0h1m-19 1h1m1 0h1m13 0h1m-15 1h1m12 0h1m1 0h1m-18 1h1m0 0h1m0 0h1m0 0h1m11 0h1m0 0h1m-14 1h1m0 0h1m9 0h1m0 0h1m0 0h1m-15 1h1m0 0h1m1 0h1m2 0h1m1 0h1m0 0h1m1 0h1m0 0h1m0 0h1m-13 1h1m0 0h1m2 0h1m2 0h1m0 0h1m2 0h1m-10 1h1m1 0h1m2 0h1m0 0h1m-5 1h1m0 0h1m1 0h1m0 0h1m-5 5h1m0 0h1m0 0h1m1 0h1m-7 1h1m0 0h1m0 0h1m1 0h1m0 0h1m0 0h1m1 0h1m-8 1h1m1 0h1m1 0h1m0 0h1m0 0h1m0 0h1m0 0h1m-11 1h1m2 0h1m2 0h1m0 0h1m0 0h1m0 0h1m1 0h1m-12 1h1m0 0h1m7 0h1m1 0h1m0 0h1m-15 1h1m12 0h1m1 0h1m-18 1h1m0 0h1m0 0h1m13 0h1m1 0h1m-19 1h1m16 0h1m1 0h1m-21 1h1m0 0h1m0 0h1m15 0h1m-20 1h1m0 0h1m0 0h1m17 0h1m-19 1h1m17 0h1m0 0h1m-22 1h1m0 0h1m0 0h1m17 0h1m1 0h1m-23 1h1m0 0h1m19 0h1m0 0h1m-23 1h1m0 0h1m20 0h1m-2 1h1m-22 1h1m0 0h1m19 0h1m0 0h1m0 0h1m-25 1h1m0 0h1m20 0h1m-22 1h1m20 0h1m0 0h1m-25 1h1m0 0h1m22 0h1m0 0h1m-25 1h1m23 0h1m-26 1h1m23 0h1m0 0h1m-25 1h1m22 0h1m0 0h1m0 0h1m-28 1h1m0 0h1m23 0h1m1 0h1m-27 1h1m0 0h1m22 0h1m0 0h1m0 0h1m-28 1h1m0 0h1m0 0h1m24 0h1m-28 1h1m1 0h1m-3 1h1m1 0h1m22 0h1m0 0h1m-27 1h1m0 0h1m23 0h1m1 0h1m-27 1h1m0 0h1m22 1h1m-1 1h1m-1 1h1m0 0h1m-25 1h1m0 0h1m20 0h1m1 0h1m-25 1h1m20 0h1m0 0h1m0 0h1m-22 1h1m18 0h1m1 0h1m-23 1h1m18 0h1m0 0h1m-18 1h1m14 0h1m1 0h1m0 0h1m-21 1h1m1 0h1m14 0h1m0 0h1m-17 1h1m12 0h1m1 0h1m-16 1h1m0 0h1m0 0h1m0 0h1m1 0h1m4 0h1m0 0h1m0 0h1m0 0h1m1 0h1m-14 1h1m0 0h1m0 0h1m0 0h1m0 0h1m0 0h1m1 0h1m1 0h1m0 0h1m1 0h1m-13 1h1m0 0h1m3 0h1m2 0h1m-7 1h1m0 0h1m5 0h1m-6 1h1m2 0h1" stroke="#20a4c4" stroke-width="1"/>
<path d="M305 1365.5h1m0 0h1m1 0h1m0 0h1m0 0h1m0 0h1m-7 1h1m0 0h1m1 0h1m0 0h1m0 0h1m0 0h1m0 0h1m0 0h1m-11 1h1m0 0h1m1 0h1m0 0h1m0 0h1m1 0h1m0 0h1m0 0h1m0 0h1m0 0h1m-13 1h1m0 0h1m0 0h1m1 0h1m0 0h1m2 0h1m0 0h1m0 0h1m0 0h1m-10 1h1m0 0h1m0 0h1m0 0h1m0 0h1m0 0h1m0 0h1m0 0h1m0 0h1m0 0h1m-8 1h1m0 0h1m0 0h1m0 0h1m0 0h1m3 0h1m-12 1h1m0 0h1m0 0h1m0 0h1m1 0h1m0 0h1m0 0h1m0 0h1m0 0h1m1 0h1m-12 1h1m0 0h1m0 0h1m0 0h1m0 0h1m2 0h1m0 0h1m0 0h1m0 0h1m-8 1h1m2 0h1m1 0h1m0 0h1m-6 1h1m0 0h1m2 0h1m-4 13h1m1 0h1m-2 1h1m0 0h1m0 0h1m0 0h1m-10 1h1m0 0h1m0 0h1m0 0h1m0 0h1m0 0h1m0 0h1m0 0h1m1 0h1m0 0h1m0 0h1m0 0h1m-13 1h1m1 0h1m1 0h1m0 0h1m1 0h1m1 0h1m0 0h1m0 0h1m0 0h1m0 0h1m-15 1h1m1 0h1m1 0h1m1 0h1m1 0h1m2 0h1m0 0h1m0 0h1m-15 1h1m0 0h1m0 0h1m2 0h1m5 0h1m2 0h1m1 0h1m-17 1h1m1 0h1m1 0h1m7 0h1m0 0h1m0 0h1m0 0h1m0 0h1m-15 1h1m0 0h1m8 0h1m3 0h1m-18 1h1m3 0h1m9 0h1m-14 1h1m1 0h1m0 0h1m9 0h1m0 0h1m1 0h1m0 0h1m-18 1h1m0 0h1m0 0h1m10 0h1m1 0h1m1 0h1m-19 1h1m1 0h1m11 0h1m0 0h1m2 0h1m-20 1h1m0 0h1m0 0h1m0 0h1m12 0h1m1 0h1m-17 1h1m0 0h1m12 0h1m0 0h1m0 0h1m0 0h1m-20 1h1m1 0h1m13 0h1m0 0h1m0 0h1m0 0h1m-20 1h1m0 0h1m0 0h1m15 0h1m0 0h1m0 0h1m-22 1h1m0 0h1m0 0h1m0 0h1m17 0h1m-21 1h1m16 0h1m0 0h1m0 0h1m0 0h1m-22 1h1m0 0h1m0 0h1m0 0h1m-4 1h1m0 0h1m0 0h1m-3 1h1m0 0h1m0 0h1m17 0h1m0 0h1m-22 1h1m0 0h1m0 0h1m16 0h1m0 0h1m0 0h1m-22 1h1m1 0h1m18 0h1m-21 1h1m0 0h1m16 0h1m0 0h1m0 0h1m-22 1h1m0 0h1m0 0h1m15 0h1m0 0h1m-20 1h1m1 0h1m0 0h1m14 0h1m0 0h1m-20 1h1m1 0h1m0 0h1m14 0h1m0 0h1m1 0h1m-20 1h1m0 0h1m0 0h1m13 0h1m1 0h1m-20 1h1m0 0h1m0 0h1m0 0h1m12 0h1m1 0h1m0 0h1m-18 1h1m0 0h1m0 0h1m10 0h1m1 0h1m0 0h1m-17 1h1m0 0h1m0 0h1m0 0h1m0 0h1m6 0h1m2 0h1m-13 1h1m0 0h1m2 0h1m0 0h1m0 0h1m0 0h1m0 0h1m0 0h1m0 0h1m0 0h1m0 0h1m0 0h1m-14 1h1m1 0h1m4 0h1m0 0h1m1 0h1m0 0h1m-12 1h1m1 0h1m0 0h1m0 0h1m0 0h1m0 0h1m0 0h1m0 0h1m1 0h1m-10 1h1m1 0h1m0 0h1m0 0h1m0 0h1m0 0h1m0 0h1m-4 1h1m0 0h1m0 0h1" stroke="#34c664" stroke-width="1"/>
<path d="M308 1392.5h1m0 0h1m1 0h1m-4 1h1m0 0h1m0 0h1m0 0h1m0 0h1m-8 1h1m0 0h1m0 0h1m1 0h1m0 0h1m1 0h1m-8 1h1m1 0h1m0 0h1m1 0h1m1 0h1m-8 1h1m1 0h1m0 0h1m0 0h1m0 0h1m1 0h1m-8 1h1m0 0h1m1 0h1m0 0h1m0 0h1m0 0h1m0 0h1m0 0h1m-10 1h1m0 0h1m1 0h1m0 0h1m0 0h1m0 0h1m0 0h1m1 0h1m-10 1h1m0 0h1m0 0h1m0 0h1m0 0h1m4 0h1m0 0h1m-12 1h1m0 0h1m1 0h1m0 0h1m0 0h1m0 0h1m0 0h1m-7 1h1m0 0h1m0 0h1m1 0h1m1 0h1m0 0h1m0 0h1m0 0h1m0 0h1m-11 1h1m0 0h1m1 0h1m0 0h1m0 0h1m0 0h1m1 0h1m0 0h1m1 0h1m-14 1h1m0 0h1m0 0h1m1 0h1m0 0h1m0 0h1m1 0h1m1 0h1m0 0h1m0 0h1m-13 1h1m0 0h1m0 0h1m0 0h1m0 0h1m0 0h1m0 0h1m1 0h1m1 0h1m0 0h1m0 0h1m0 0h1m-14 1h1m0 0h1m0 0h1m0 0h1m0 0h1m4 0h1m0 0h1m0 0h1m0 0h1m0 0h1m-14 1h1m1 0h1m0 0h1m0 0h1m4 0h1m0 0h1m0 0h1m0 0h1m0 0h1m0 0h1m-16 1h1m0 0h1m0 0h1m8 0h1m1 0h1m1 0h1m-15 1h1m0 0h1m0 0h1m0 0h1m7 0h1m1 0h1m0 0h1m-16 1h1m0 0h1m0 0h1m0 0h1m0 0h1m6 0h1m0 0h1m0 0h1m1 0h1m-15 1h1m0 0h1m1 0h1m6 0h1m-12 1h1m0 0h1m0 0h1m2 0h1m4 0h1m3 0h1m-14 1h1m0 0h1m0 0h1m0 0h1m0 0h1m0 0h1m2 0h1m0 0h1m0 0h1m0 0h1m0 0h1m0 0h1m-14 1h1m1 0h1m1 0h1m0 0h1m0 0h1m2 0h1m0 0h1m0 0h1m-11 1h1m0 0h1m0 0h1m1 0h1m0 0h1m0 0h1m0 0h1m1 0h1m1 0h1m-12 1h1m0 0h1m1 0h1m1 0h1m0 0h1m0 0h1m1 0h1m0 0h1m-10 1h1m0 0h1m0 0h1m0 0h1m0 0h1m0 0h1m0 0h1m0 0h1m0 0h1m0 0h1m-8 1h1m0 0h1m2 0h1m0 0h1" stroke="#a8e030" stroke-width="1"/>
<path d="M307 1405.5h1m0 0h1m1 0h1m-4 1h1m0 0h1m0 0h1m0 0h1m-5 1h1m1 0h1m0 0h1m0 0h1m0 0h1m-6 1h1m0 0h1m0 0h1m0 0h1m1 0h1m-6 1h1m0 0h1m2 0h1m0 0h1m-5 1h1m2 0h1m-4 1h1m0 0h1m0 0h1m0 0h1m-3 1h1m0 0h1" stroke="#f0c820" stroke-width="1"/>
<path d="M338.8 1347.3V1451.3M280.5 1393.4H385.7" stroke="#3c3c3c" stroke-width="1.1"/>
<path d="M277.5 1451.3H280.5M280.5 1451.3V1454.3M277.5 1416.63H280.5M315.57 1451.3V1454.3M277.5 1381.97H280.5M350.63 1451.3V1454.3M277.5 1347.3H280.5M385.7 1451.3V1454.3" stroke="#000" stroke-width="0.9"/>
<path d="M280.5 1347.3V1451.3H385.7" stroke="#000" stroke-width="0.9" fill="none"/>
<text x="276.5" y="1453.3" class="s" text-anchor="end">10<tspan dy="-2" font-size="3.5">2</tspan></text>
<text x="282.5" y="1463.3" class="s" text-anchor="middle">10<tspan dy="-2" font-size="3.5">2</tspan></text>
<text x="276.5" y="1418.63" class="s" text-anchor="end">10<tspan dy="-2" font-size="3.5">3</tspan></text>
<text x="317.57" y="1463.3" class="s" text-anchor="middle">10<tspan dy="-2" font-size="3.5">3</tspan></text>
<text x="276.5" y="1383.97" class="s" text-anchor="end">10<tspan dy="-2" font-size="3.5">4</tspan></text>
<text x="352.63" y="1463.3" class="s" text-anchor="middle">10<tspan dy="-2" font-size="3.5">4</tspan></text>
<text x="276.5" y="1349.3" class="s" text-anchor="end">10<tspan dy="-2" font-size="3.5">5</tspan></text>
<text x="387.7" y="1463.3" class="s" text-anchor="middle">10<tspan dy="-2" font-size="3.5">5</tspan></text>
<text x="333.1" y="1472.3" class="s" text-anchor="middle">AnnexinV</text>
<text transform="translate(266.5 1399.3) rotate(-90)" class="s" text-anchor="middle">PI</text>
<text x="282.3" y="1356.3" class="s">Q3</text>
<text x="282.3" y="1363.8" class="s">23.9</text>
<text x="376.7" y="1356.3" class="s" text-anchor="end">Q2</text>
<text x="376.7" y="1363.8" class="s" text-anchor="end">4.12</text>
<text x="282.3" y="1438.8" class="s">Q4</text>
<text x="282.3" y="1446.3" class="s">60.3</text>
<text x="376.7" y="1438.8" class="s" text-anchor="end">Q1</text>
<text x="376.7" y="1446.3" class="s" text-anchor="end">11.6</text>
<text x="158" y="1498" class="t" font-size="29" text-anchor="middle">H/R</text>
<rect x="104.3" y="1511.8" width="106" height="103.6" fill="#fff" stroke="#b4b4b4" stroke-width="0.8"/>
<ellipse transform="translate(130.8 1530.45) rotate(0)" rx="18.02" ry="13.21" fill="url(#u2)"/>
<ellipse transform="translate(128.68 1573.96) rotate(0)" rx="16.22" ry="19.37" fill="url(#u2)"/>
<ellipse transform="translate(185.92 1534.59) rotate(0)" rx="11.71" ry="13.21" fill="url(#u1)"/>
<ellipse transform="translate(183.8 1572.92) rotate(0)" rx="12.61" ry="15.85" fill="url(#u1)"/>
<path d="M145 1513.5h1m29 0h1m-32 1h1m2 0h1m13 0h1m19 0h1m-69 1h1m48 0h1m17 0h1m-70 1h1m36 0h1m0 0h1m3 0h1m29 0h1m-76 1h1m2 0h1m38 0h1m9 0h1m0 0h1m0 0h1m19 0h1m3 0h1m7 0h1m-19 1h1m4 0h1m4 0h1m6 0h1m-30 1h1m0 0h1m15 0h1m7 0h1m-83 1h1m56 0h1m8 0h1m1 0h1m-18 1h1m0 1h1m0 0h1m9 0h1m1 0h1m0 1h1m-13 1h1m10 0h1m27 0h1m2 0h1m-36 2h1m33 0h1m-35 1h1m32 0h1m-36 1h1m33 0h1m3 0h1m-46 1h1m47 0h1m-49 1h1m7 0h1m1 0h1m-11 1h1m7 1h1m35 0h1m-44 1h1m45 3h1m-39 1h1m34 0h1m-2 1h1m4 0h1m-52 2h1m48 0h1m-100 1h1m63 0h1m-65 1h1m0 0h1m53 0h1m7 0h1m30 0h1m1 0h1m1 0h1m-98 1h1m53 0h1m8 0h1m-14 1h1m41 0h1m1 0h1m-94 1h1m0 0h1m51 1h1m-5 1h1m11 0h1m25 0h1m1 0h1m-89 1h1m47 0h1m7 0h1m8 0h1m29 0h1m-97 1h1m46 0h1m2 0h1m0 0h1m16 0h1m-21 1h1m35 0h1m1 0h1m1 0h1m-24 1h1m31 0h1m-99 1h1m50 1h1m2 0h1m6 0h1m2 0h1m0 0h1m24 0h1m-92 1h1m49 0h1m8 0h1m0 0h1m0 0h1m1 0h1m4 0h1m17 0h1m-86 1h1m66 0h1m20 0h1m-40 2h1m5 0h1m-8 1h1m3 0h1m41 0h1m-39 1h1m2 0h1m29 0h1m1 0h1m9 0h1m-51 1h1m5 0h1m3 0h1m0 0h1m26 0h1m-33 1h1m2 0h1m35 0h1m-47 1h1m45 1h1m-45 1h1m-2 1h1m3 1h1m1 1h1m-10 1h1m43 0h1m1 0h1m4 0h1m-42 3h1m-4 1h1m39 1h1m-43 1h1m4 0h1m0 0h1m-9 1h1m6 0h1m-9 1h1m6 0h1m0 1h1m33 1h1m-39 1h1m37 0h1m3 0h1m-43 1h1m38 0h1m-36 1h1m0 0h1m31 0h1m-39 1h1m2 0h1m35 0h1m4 0h1m-8 1h1m-31 1h1m-15 1h1m3 0h1m9 0h1m3 0h1m25 0h1m0 0h1m2 0h1m-46 1h1m8 0h1m38 0h1m-52 1h1m1 0h1m11 1h1m3 0h1m23 0h1m-42 1h1m20 0h1m16 1h1m6 0h1m-43 1h1m2 0h1m20 0h1m3 0h1m5 0h1m-43 1h1m8 0h1m13 0h1m2 0h1m3 0h1m1 0h1m-33 1h1m0 0h1m0 0h1m6 0h1m2 0h1m12 0h1m9 0h1m1 0h1m0 0h1m-39 1h1m11 0h1m7 0h1m6 0h1m2 0h1m0 0h1m2 0h1m-30 2h1m23 0h1m-71 1h1m46 0h1m8 0h1m24 0h1m3 0h1m-39 1h1m22 0h1m5 0h1m-37 1h1m15 0h1m14 0h1m13 0h1m-47 1h1m32 0h1m-24 1h1m1 0h1m8 0h1m-58 1h1m34 0h1m12 1h1m17 0h1m-68 1h1m2 1h1m31 0h1m14 0h1m-53 1h1m50 0h1m-53 1h1m3 0h1m1 0h1m34 0h1m5 0h1m-40 2h1m0 1h1m40 0h1m-44 1h1m26 0h1m9 0h1" stroke="#8c98ff" stroke-width="1"/>
<path d="M136 1513.5h1m-9 1h1m0 0h1m0 0h1m4 0h1m0 0h1m5 0h1m-22 1h1m1 0h1m1 0h1m4 0h1m1 0h1m6 0h1m2 0h1m0 0h1m-30 1h1m4 0h1m2 0h1m0 0h1m3 0h1m0 0h1m1 0h1m9 0h1m2 0h1m-31 1h1m23 0h1m8 0h1m-26 1h1m18 0h1m0 0h1m1 0h1m0 0h1m4 0h1m-40 1h1m2 0h1m4 0h1m25 0h1m2 0h1m1 0h1m41 1h1m-82 1h1m4 0h1m30 0h1m3 0h1m27 0h1m5 0h1m6 0h1m-86 1h1m6 0h1m38 0h1m31 0h1m0 0h1m0 0h1m4 0h1m1 0h1m-44 1h1m31 0h1m2 0h1m0 0h1m1 0h1m1 0h1m-42 1h1m27 0h1m1 0h1m2 0h1m-74 1h1m40 0h1m23 0h1m4 0h1m-71 1h1m43 0h1m21 0h1m0 0h1m0 0h1m14 0h1m-86 1h1m63 0h1m0 0h1m4 0h1m15 0h1m0 0h1m0 0h1m1 0h1m-92 1h1m2 0h1m41 0h1m2 0h1m1 0h1m20 0h1m18 0h1m0 0h1m-92 1h1m50 0h1m13 0h1m2 0h1m22 0h1m1 0h1m-93 1h1m45 0h1m1 0h1m16 0h1m23 0h1m0 0h1m0 0h1m-93 1h1m0 0h1m1 0h1m43 0h1m4 0h1m11 0h1m2 0h1m-68 1h1m62 0h1m3 0h1m23 0h1m-90 1h1m42 0h1m4 0h1m12 0h1m26 0h1m2 0h1m0 0h1m-48 1h1m1 0h1m14 0h1m-61 1h1m40 0h1m2 0h1m1 0h1m13 0h1m0 0h1m-63 1h1m0 0h1m60 0h1m1 0h1m0 0h1m21 0h1m0 0h1m-88 1h1m0 0h1m37 0h1m0 0h1m1 0h1m1 0h1m14 0h1m26 0h1m-87 1h1m2 0h1m34 0h1m0 0h1m0 0h1m4 0h1m15 0h1m23 0h1m-89 1h1m1 0h1m39 0h1m21 0h1m26 0h1m0 0h1m-93 1h1m38 0h1m0 0h1m24 0h1m-66 1h1m3 0h1m1 0h1m1 0h1m30 0h1m4 0h1m2 0h1m41 0h1m-85 1h1m2 0h1m0 0h1m0 0h1m54 0h1m0 0h1m19 0h1m2 0h1m-84 1h1m4 0h1m0 0h1m28 0h1m2 0h1m21 0h1m1 0h1m0 0h1m1 0h1m12 0h1m-81 1h1m2 0h1m2 0h1m26 0h1m3 0h1m30 0h1m15 0h1m1 0h1m-85 1h1m4 0h1m0 0h1m0 0h1m0 0h1m21 0h1m3 0h1m2 0h1m27 0h1m2 0h1m1 0h1m2 0h1m1 0h1m-75 1h1m0 0h1m28 0h1m0 0h1m31 0h1m2 0h1m1 0h1m0 0h1m9 0h1m-83 1h1m2 0h1m1 0h1m1 0h1m25 0h1m1 0h1m3 0h1m26 0h1m6 0h1m3 0h1m3 0h1m-75 1h1m28 0h1m4 0h1m23 0h1m1 0h1m2 0h1m1 0h1m2 0h1m2 0h1m-74 1h1m3 0h1m28 0h1m28 0h1m1 0h1m4 0h1m3 0h1m-42 1h1m1 0h1m1 0h1m36 0h1m0 0h1m-80 1h1m4 0h1m2 0h1m27 0h1m0 0h1m2 0h1m28 0h1m3 0h1m0 0h1m4 0h1m-82 1h1m0 0h1m1 0h1m1 0h1m0 0h1m1 0h1m32 0h1m32 0h1m1 0h1m-70 1h1m31 0h1m1 0h1m1 0h1m28 0h1m2 0h1m-77 1h1m3 0h1m1 0h1m0 0h1m32 0h1m0 0h1m0 0h1m30 0h1m7 0h1m-80 1h1m70 0h1m0 0h1m2 0h1m4 0h1m-80 1h1m38 0h1m0 0h1m31 0h1m3 0h1m0 0h1m2 0h1m-85 1h1m0 0h1m3 0h1m1 0h1m62 0h1m7 0h1m-77 1h1m3 0h1m39 0h1m28 0h1m-76 1h1m0 0h1m1 0h1m0 0h1m0 0h1m37 0h1m27 0h1m2 0h1m1 0h1m8 0h1m-82 1h1m61 0h1m3 0h1m3 0h1m6 0h1m0 0h1m1 0h1m-83 1h1m0 0h1m0 0h1m36 0h1m0 0h1m1 0h1m20 0h1m5 0h1m1 0h1m1 0h1m6 0h1m3 0h1m1 0h1m-90 1h1m84 0h1m-19 1h1m15 0h1m-40 1h1m3 0h1m15 0h1m2 0h1m-68 1h1m42 0h1m19 0h1m3 0h1m-67 1h1m42 0h1m0 0h1m1 0h1m43 0h1m-45 1h1m15 0h1m0 0h1m2 0h1m-6 1h1m28 0h1m-49 1h1m44 0h1m0 0h1m0 0h1m1 0h1m-32 1h1m25 0h1m3 0h1m-92 1h1m1 0h1m86 0h1m-90 1h1m1 0h1m86 0h1m3 0h1m-93 1h1m0 0h1m60 0h1m27 0h1m-48 1h1m44 0h1m-42 1h1m18 0h1m19 0h1m-86 1h1m46 0h1m15 0h1m21 0h1m-88 1h1m1 0h1m40 0h1m1 0h1m16 0h1m1 0h1m2 0h1m-26 1h1m1 0h1m20 0h1m2 0h1m20 0h1m-48 1h1m19 0h1m-60 1h1m38 0h1m24 0h1m19 0h1m0 0h1m-88 1h1m0 0h1m0 0h1m40 0h1m20 0h1m18 0h1m3 0h1m-46 1h1m0 0h1m1 0h1m20 0h1m16 0h1m3 0h1m-89 1h1m83 0h1m0 0h1m-17 1h1m1 0h1m0 0h1m2 0h1m1 0h1m1 0h1m1 0h1m-79 1h1m36 0h1m28 0h1m2 0h1m10 0h1m-80 1h1m0 0h1m35 0h1m25 0h1m3 0h1m5 0h1m2 0h1m1 0h1m0 0h1m-79 1h1m0 0h1m38 0h1m25 0h1m7 0h1m0 0h1m-78 1h1m36 0h1m29 0h1m4 0h1m0 0h1m0 0h1m-41 1h1m0 0h1m2 0h1m-36 1h1m0 0h1m0 0h1m30 0h1m-32 1h1m27 0h1m1 0h1m1 0h1m2 0h1m-39 1h1m1 0h1m28 0h1m5 0h1m-39 1h1m4 0h1m0 0h1m24 0h1m-32 1h1m4 0h1m0 0h1m0 0h1m-2 1h1m1 0h1m22 0h1m0 0h1m-29 1h1m0 0h1m24 0h1m2 0h1m-30 1h1m0 0h1m1 0h1m22 0h1m1 0h1m-28 1h1m1 0h1m1 0h1m20 0h1m3 0h1m-29 1h1m0 0h1m0 2h1m0 0h1m0 0h1m-4 1h1m23 0h1m0 0h1m-26 2h1m3 1h1m16 0h1m0 0h1m2 0h1m-27 1h1m21 0h1m3 0h1m-7 2h1m1 0h1m4 0h1m-26 1h1m7 0h1m14 0h1m-22 1h1m2 0h1m2 0h1m3 0h1m1 0h1m0 0h1m7 0h1m-21 1h1m6 0h1m5 0h1m1 0h1m0 0h1m1 0h1m-13 1h1m0 0h1m1 0h1m2 0h1m-1 1h1m1 0h1" stroke="#6472fa" stroke-width="1"/>
<path d="M127 1517.5h1m3 0h1m0 0h1m1 0h1m-13 1h1m3 0h1m1 0h1m4 0h1m3 0h1m1 0h1m-21 1h1m2 0h1m0 0h1m0 0h1m2 0h1m2 0h1m0 0h1m6 0h1m1 0h1m-24 1h1m0 0h1m2 0h1m2 0h1m11 0h1m1 0h1m0 0h1m2 0h1m1 0h1m-4 1h1m-26 1h1m0 0h1m0 0h1m22 0h1m0 0h1m0 0h1m-31 1h1m3 0h1m0 0h1m24 0h1m2 0h1m0 0h1m-31 1h1m27 0h1m2 0h1m-4 1h1m37 0h1m0 0h1m-74 1h1m3 0h1m32 0h1m1 0h1m35 0h1m-40 1h1m0 0h1m0 0h1m29 0h1m1 0h1m0 0h1m3 0h1m0 0h1m1 0h1m-79 1h1m0 0h1m1 0h1m63 0h1m2 0h1m0 0h1m1 0h1m0 0h1m1 0h1m0 0h1m2 0h1m0 0h1m-79 1h1m34 0h1m27 0h1m0 0h1m0 0h1m0 0h1m0 0h1m7 0h1m0 0h1m1 0h1m1 0h1m-47 1h1m2 0h1m40 0h1m1 0h1m-84 1h1m2 0h1m33 0h1m27 0h1m0 0h1m0 0h1m0 0h1m11 0h1m-1 1h1m0 0h1m0 0h1m1 0h1m-85 1h1m0 0h1m63 0h1m0 0h1m0 0h1m0 0h1m12 0h1m1 0h1m-84 1h1m0 0h1m33 0h1m0 0h1m0 0h1m1 0h1m24 0h1m0 0h1m1 0h1m14 0h1m-80 1h1m34 0h1m26 0h1m2 0h1m14 0h1m-82 1h1m31 0h1m0 0h1m0 0h1m0 0h1m27 0h1m0 0h1m0 0h1m0 0h1m13 0h1m-80 1h1m1 0h1m27 0h1m33 0h1m1 0h1m11 0h1m1 0h1m0 0h1m-81 1h1m0 0h1m25 0h1m36 0h1m12 0h1m-76 1h1m1 0h1m25 0h1m32 0h1m0 0h1m-63 1h1m0 0h1m1 0h1m18 0h1m0 0h1m0 0h1m35 0h1m1 0h1m1 0h1m-64 1h1m2 0h1m15 0h1m2 0h1m0 0h1m1 0h1m37 0h1m1 0h1m2 0h1m1 0h1m-70 1h1m1 0h1m1 0h1m0 0h1m0 0h1m0 0h1m0 0h1m2 0h1m0 0h1m2 0h1m1 0h1m0 0h1m0 0h1m1 0h1m0 0h1m0 0h1m37 0h1m0 0h1m3 0h1m0 0h1m1 0h1m1 0h1m-68 1h1m0 0h1m1 0h1m1 0h1m4 0h1m1 0h1m1 0h1m1 0h1m0 0h1m0 0h1m47 0h1m0 0h1m-66 1h1m0 0h1m8 0h1m3 0h1m0 0h1m1 0h1m40 0h1m0 0h1m1 0h1m1 0h1m-64 1h1m1 0h1m0 0h1m1 0h1m4 0h1m1 0h1m1 0h1m1 0h1m0 0h1m-15 1h1m0 0h1m0 0h1m0 0h1m4 0h1m0 0h1m2 0h1m1 0h1m-20 1h1m0 0h1m0 0h1m3 0h1m1 0h1m1 0h1m1 0h1m0 0h1m0 0h1m2 0h1m-16 1h1m1 0h1m2 0h1m9 0h1m0 0h1m0 0h1m0 0h1m0 0h1m-24 1h1m1 0h1m2 0h1m1 0h1m11 0h1m0 0h1m-20 1h1m3 0h1m14 0h1m1 0h1m-22 1h1m1 0h1m0 0h1m16 0h1m1 0h1m-26 1h1m4 0h1m18 0h1m0 0h1m0 0h1m-23 1h1m19 0h1m0 0h1m1 0h1m-30 1h1m3 0h1m0 0h1m21 0h1m0 0h1m-27 1h1m1 0h1m-3 1h1m0 0h1m23 0h1m0 0h1m0 0h1m-32 1h1m0 0h1m29 0h1m-32 1h1m0 0h1m1 0h1m28 0h1m-31 1h1m28 0h1m-34 1h1m2 0h1m29 0h1m0 0h1m-35 1h1m1 0h1m29 0h1m1 1h1m34 0h1m0 0h1m-71 1h1m30 0h1m1 0h1m34 0h1m1 0h1m4 0h1m-78 1h1m32 0h1m0 0h1m31 0h1m1 0h1m3 0h1m2 0h1m2 0h1m0 0h1m-79 1h1m64 0h1m2 0h1m1 0h1m0 0h1m5 0h1m0 0h1m-78 1h1m31 0h1m29 0h1m6 0h1m5 0h1m2 0h1m-82 1h1m0 0h1m33 0h1m29 0h1m0 0h1m0 0h1m0 0h1m1 0h1m3 0h1m0 0h1m5 0h1m0 0h1m-84 1h1m35 0h1m28 0h1m2 0h1m2 0h1m7 0h1m-78 1h1m67 0h1m9 0h1m2 0h1m-84 1h1m67 0h1m0 0h1m12 0h1m0 0h1m-82 1h1m64 0h1m0 0h1m10 0h1m-78 1h1m62 0h1m2 0h1m0 0h1m9 0h1m1 0h1m-45 1h1m0 0h1m0 0h1m27 0h1m0 0h1m10 0h1m1 0h1m-80 1h1m35 0h1m30 0h1m-69 1h1m35 0h1m1 0h1m25 0h1m0 0h1m1 0h1m0 0h1m13 0h1m-47 1h1m0 0h1m29 0h1m11 0h1m-80 1h1m1 0h1m64 0h1m2 0h1m10 0h1m-81 1h1m0 0h1m34 0h1m29 0h1m2 0h1m2 0h1m0 0h1m1 0h1m1 0h1m-79 1h1m1 0h1m31 0h1m0 0h1m0 0h1m0 0h1m30 0h1m2 0h1m2 0h1m2 0h1m0 0h1m-45 1h1m31 0h1m0 0h1m1 0h1m0 0h1m3 0h1m5 0h1m-79 1h1m64 0h1m2 0h1m5 0h1m1 0h1m-77 1h1m30 0h1m41 0h1m0 0h1m1 0h1m-78 1h1m1 0h1m28 0h1m0 0h1m0 0h1m0 0h1m0 0h1m34 0h1m-38 1h1m-33 1h1m1 0h1m26 0h1m2 0h1m-32 1h1m26 0h1m-27 1h1m0 0h1m0 0h1m0 0h1m23 0h1m-27 1h1m0 0h1m1 0h1m21 0h1m1 0h1m-29 1h1m0 0h1m1 0h1m0 0h1m0 0h1m-3 1h1m0 0h1m0 0h1m0 0h1m18 0h1m0 0h1m-5 1h1m3 0h1m0 0h1m-22 1h1m0 0h1m0 0h1m12 0h1m1 0h1m2 0h1m0 0h1m-21 1h1m1 0h1m11 0h1m-15 1h1m1 0h1m0 0h1m10 0h1m0 0h1m0 0h1m0 0h1m-15 1h1m0 0h1m0 0h1m-4 1h1m2 0h1m6 0h1m-13 1h1m1 0h1m0 0h1m2 0h1m11 0h1m-14 1h1m11 0h1m-17 1h1m3 0h1m0 0h1m6 0h1m-11 1h1m1 0h1m0 0h1m6 0h1m0 0h1m0 0h1m0 0h1m-17 1h1m0 0h1m0 0h1m0 0h1m0 0h1m0 0h1m1 0h1m4 0h1m1 0h1m0 0h1m0 0h1m0 0h1m0 0h1m-18 1h1m1 0h1m0 0h1m0 0h1m1 0h1m0 0h1m3 0h1m2 0h1m1 0h1m-17 1h1m2 0h1m3 0h1m2 0h1m3 0h1m0 0h1m-14 1h1m2 0h1m0 0h1m0 0h1m0 0h1m4 0h1m-13 1h1m6 0h1m5 0h1m0 0h1m-11 1h1m0 0h1m7 0h1m0 0h1m-13 1h1m4 0h1m1 0h1m0 0h1m-5 1h1m1 0h1m1 0h1m-4 1h1m0 0h1" stroke="#4658f0" stroke-width="1"/>
<path d="M127 1520.5h1m2 0h1m0 0h1m3 0h1m-13 1h1m3 0h1m4 0h1m2 0h1m0 0h1m1 0h1m-17 1h1m0 0h1m2 0h1m0 0h1m8 0h1m0 0h1m-18 1h1m16 0h1m-20 1h1m0 0h1m0 0h1m0 0h1m18 0h1m1 0h1m-26 1h1m0 0h1m0 0h1m21 0h1m-25 1h1m0 0h1m0 0h1m22 0h1m-26 1h1m0 0h1m25 0h1m0 0h1m-31 1h1m0 0h1m26 0h1m1 0h1m-31 1h1m27 0h1m0 0h1m1 0h1m36 0h1m0 0h1m0 0h1m0 0h1m0 0h1m-73 1h1m0 0h1m26 0h1m1 0h1m36 0h1m1 0h1m0 0h1m2 0h1m0 0h1m-74 1h1m27 0h1m0 0h1m0 0h1m35 0h1m2 0h1m1 0h1m0 0h1m-74 1h1m1 0h1m63 0h1m2 0h1m1 0h1m0 0h1m1 0h1m0 0h1m-76 1h1m0 0h1m26 0h1m36 0h1m0 0h1m0 0h1m1 0h1m0 0h1m3 0h1m0 0h1m0 0h1m-74 1h1m0 0h1m23 0h1m0 0h1m40 0h1m0 0h1m1 0h1m0 0h1m0 0h1m-74 1h1m1 0h1m21 0h1m0 0h1m42 0h1m2 0h1m1 0h1m0 0h1m-75 1h1m0 0h1m1 0h1m0 0h1m18 0h1m0 0h1m40 0h1m0 0h1m1 0h1m1 0h1m1 0h1m0 0h1m-73 1h1m0 0h1m0 0h1m0 0h1m0 0h1m15 0h1m1 0h1m1 0h1m38 0h1m2 0h1m0 0h1m0 0h1m0 0h1m0 0h1m0 0h1m0 0h1m-67 1h1m12 0h1m0 0h1m1 0h1m42 0h1m2 0h1m2 0h1m-68 1h1m5 0h1m0 0h1m1 0h1m0 0h1m1 0h1m0 0h1m0 0h1m3 0h1m44 0h1m2 0h1m-65 1h1m2 0h1m2 0h1m2 0h1m0 0h1m0 0h1m2 0h1m45 0h1m0 0h1m-60 1h1m2 0h1m1 0h1m0 0h1m1 0h1m-4 7h1m0 0h1m3 0h1m-8 1h1m0 0h1m0 0h1m0 0h1m3 0h1m-8 1h1m6 0h1m2 0h1m-13 1h1m3 0h1m1 0h1m0 0h1m1 0h1m0 0h1m1 0h1m0 0h1m0 0h1m-16 1h1m1 0h1m11 0h1m0 0h1m-15 1h1m0 0h1m10 0h1m2 0h1m-20 1h1m1 0h1m0 0h1m15 0h1m-21 1h1m1 0h1m0 0h1m-5 1h1m0 0h1m0 0h1m17 0h1m-22 1h1m0 0h1m0 0h1m0 0h1m-3 1h1m0 0h1m19 0h1m0 0h1m-2 1h1m-25 1h1m0 0h1m22 0h1m0 0h1m-25 1h1m21 0h1m0 0h1m-27 1h1m24 0h1m-27 1h1m0 0h1m0 0h1m-1 1h1m24 0h1m-29 1h1m1 0h1m25 0h1m0 0h1m0 0h1m-31 1h1m1 0h1m25 0h1m0 0h1m-31 1h1m0 0h1m0 0h1m26 0h1m1 0h1m38 0h1m-71 1h1m1 0h1m26 0h1m38 0h1m3 0h1m-72 1h1m0 0h1m27 0h1m36 0h1m0 0h1m1 0h1m0 0h1m0 0h1m-44 1h1m0 0h1m35 0h1m0 0h1m0 0h1m4 0h1m-75 1h1m0 0h1m0 0h1m28 0h1m0 0h1m34 0h1m0 0h1m0 0h1m0 0h1m3 0h1m0 0h1m-46 1h1m0 0h1m0 0h1m35 0h1m1 0h1m0 0h1m0 0h1m2 0h1m-76 1h1m1 0h1m27 0h1m0 0h1m36 0h1m2 0h1m2 0h1m-45 1h1m0 0h1m36 0h1m0 0h1m1 0h1m0 0h1m1 0h1m-75 1h1m31 0h1m37 0h1m0 0h1m2 0h1m0 0h1m-75 1h1m0 0h1m65 0h1m0 0h1m-69 1h1m29 0h1m0 0h1m38 0h1m-41 1h1m0 0h1m-32 1h1m0 0h1m26 0h1m-29 1h1m28 0h1m0 0h1m-30 1h1m1 0h1m24 0h1m-28 1h1m25 0h1m-26 1h1m0 0h1m0 0h1m21 0h1m0 0h1m0 0h1m-25 1h1m0 0h1m22 0h1m-26 1h1m0 0h1m1 0h1m18 0h1m-22 1h1m1 0h1m0 0h1m16 0h1m-18 1h1m14 0h1m3 0h1m-19 1h1m1 0h1m0 0h1m9 0h1m0 0h1m2 0h1m-19 1h1m3 0h1m1 0h1m4 0h1m0 0h1m0 0h1m-11 1h1m0 0h1m2 0h1m1 0h1m0 0h1m0 0h1m1 0h1m0 0h1m0 0h1m0 0h1m-12 1h1m0 0h1m0 0h1m0 0h1m0 0h1m0 0h1m1 0h1m0 0h1m0 0h1m0 0h1m-11 1h1m0 0h1m1 0h1m0 0h1m0 0h1m0 0h1m0 0h1m1 0h1m-10 1h1m0 0h1m1 0h1m2 0h1m-5 1h1m1 0h1m1 0h1m1 0h1m-7 1h1m0 0h1m3 0h1m-6 1h1m0 0h1m0 0h1m0 0h1m0 0h1m0 0h1m-5 1h1m0 0h1m1 1h1m-4 1h1m0 0h1m0 0h1m-1 1h1m0 1h1" stroke="#2c6ee2" stroke-width="1"/>
<path d="M131 1522.5h1m-7 1h1m1 0h1m2 0h1m1 0h1m-11 1h1m0 0h1m0 0h1m0 0h1m0 0h1m0 0h1m5 0h1m1 0h1m1 0h1m-17 1h1m0 0h1m13 0h1m1 0h1m1 0h1m-21 1h1m0 0h1m1 0h1m17 0h1m-23 1h1m0 0h1m0 0h1m17 0h1m-20 1h1m0 0h1m18 0h1m0 0h1m-24 1h1m1 0h1m20 0h1m-24 1h1m0 0h1m0 0h1m19 0h1m1 0h1m-25 1h1m1 0h1m20 0h1m0 0h1m-25 1h1m2 0h1m18 0h1m0 0h1m0 0h1m-24 1h1m0 0h1m0 0h1m18 0h1m-21 1h1m0 0h1m0 0h1m16 0h1m0 0h1m-21 1h1m0 0h1m0 0h1m15 0h1m-15 1h1m1 0h1m9 0h1m1 0h1m0 0h1m-17 1h1m0 0h1m0 0h1m0 0h1m0 0h1m1 0h1m0 0h1m0 0h1m0 0h1m1 0h1m0 0h1m0 0h1m0 0h1m-11 1h1m0 0h1m0 0h1m0 0h1m1 0h1m0 0h1m-3 14h1m1 0h1m1 0h1m-7 1h1m0 0h1m2 0h1m0 0h1m0 0h1m0 0h1m1 0h1m-12 1h1m2 0h1m0 0h1m4 0h1m1 0h1m0 0h1m-13 1h1m8 0h1m0 0h1m0 0h1m0 0h1m0 0h1m-16 1h1m0 0h1m0 0h1m0 0h1m-4 1h1m13 0h1m-14 1h1m11 0h1m0 0h1m-16 1h1m13 0h1m0 0h1m0 0h1m-20 1h1m1 0h1m0 0h1m14 0h1m-20 1h1m0 0h1m1 0h1m15 0h1m-20 1h1m1 0h1m17 0h1m-22 1h1m0 0h1m18 0h1m0 0h1m-23 1h1m0 0h1m0 0h1m18 0h1m-1 1h1m0 0h1m-24 1h1m0 0h1m20 0h1m-22 1h1m21 0h1m0 0h1m-26 1h1m0 0h1m23 0h1m-26 1h1m0 0h1m23 0h1m-27 1h1m1 0h1m-2 1h1m23 0h1m0 0h1m-26 1h1m23 1h1m-26 1h1m0 0h1m23 0h1m0 0h1m-27 1h1m0 0h1m24 0h1m-27 1h1m0 0h1m-2 1h1m24 0h1m-24 1h1m21 0h1m0 0h1m0 0h1m-26 1h1m22 0h1m-22 1h1m20 0h1m0 0h1m-24 1h1m1 0h1m19 0h1m-22 1h1m0 0h1m17 0h1m-19 1h1m16 0h1m0 0h1m0 0h1m-19 1h1m0 0h1m0 0h1m12 0h1m0 0h1m0 0h1m-18 1h1m1 0h1m0 0h1m10 0h1m0 0h1m0 0h1m-16 1h1m0 0h1m0 0h1m1 0h1m0 0h1m3 0h1m1 0h1m0 0h1m0 0h1m0 0h1m-13 1h1m2 0h1m0 0h1m0 0h1m0 0h1m0 0h1m0 0h1m0 0h1m-8 1h1m0 0h1m0 0h1m0 0h1m1 0h1m0 0h1" stroke="#20a4c4" stroke-width="1"/>
<path d="M128 1524.5h1m0 0h1m0 0h1m0 0h1m0 0h1m-8 1h1m2 0h1m1 0h1m0 0h1m0 0h1m1 0h1m-11 1h1m0 0h1m1 0h1m0 0h1m1 0h1m0 0h1m1 0h1m2 0h1m-14 1h1m0 0h1m0 0h1m2 0h1m0 0h1m0 0h1m0 0h1m0 0h1m0 0h1m0 0h1m1 0h1m1 0h1m-16 1h1m1 0h1m0 0h1m1 0h1m5 0h1m0 0h1m0 0h1m0 0h1m0 0h1m0 0h1m-19 1h1m0 0h1m0 0h1m0 0h1m0 0h1m0 0h1m7 0h1m0 0h1m1 0h1m0 0h1m-18 1h1m0 0h1m0 0h1m0 0h1m0 0h1m10 0h1m0 0h1m0 0h1m0 0h1m-18 1h1m1 0h1m9 0h1m1 0h1m0 0h1m0 0h1m-17 1h1m0 0h1m1 0h1m0 0h1m0 0h1m5 0h1m1 0h1m0 0h1m0 0h1m0 0h1m0 0h1m-17 1h1m1 0h1m0 0h1m1 0h1m0 0h1m0 0h1m0 0h1m0 0h1m0 0h1m0 0h1m0 0h1m1 0h1m-14 1h1m3 0h1m0 0h1m1 0h1m2 0h1m0 0h1m-11 1h1m0 0h1m0 0h1m0 0h1m0 0h1m0 0h1m0 0h1m0 0h1m1 0h1m0 0h1m0 0h1m-10 1h1m0 0h1m1 0h1m0 0h1m2 0h1m-3 19h1m-1 1h1m1 0h1m0 0h1m0 0h1m-9 1h1m3 0h1m0 0h1m1 0h1m0 0h1m-9 1h1m0 0h1m0 0h1m1 0h1m0 0h1m2 0h1m0 0h1m-10 1h1m1 0h1m3 0h1m0 0h1m0 0h1m-12 1h1m0 0h1m0 0h1m0 0h1m1 0h1m0 0h1m1 0h1m0 0h1m2 0h1m-12 1h1m0 0h1m2 0h1m0 0h1m0 0h1m0 0h1m0 0h1m0 0h1m1 0h1m0 0h1m-16 1h1m0 0h1m1 0h1m0 0h1m0 0h1m1 0h1m0 0h1m0 0h1m1 0h1m0 0h1m0 0h1m0 0h1m0 0h1m-17 1h1m0 0h1m1 0h1m0 0h1m6 0h1m0 0h1m1 0h1m1 0h1m-17 1h1m0 0h1m0 0h1m9 0h1m0 0h1m1 0h1m-18 1h1m1 0h1m0 0h1m0 0h1m10 0h1m-17 1h1m0 0h1m0 0h1m0 0h1m12 0h1m1 0h1m0 0h1m-20 1h1m0 0h1m0 0h1m0 0h1m13 0h1m0 0h1m0 0h1m-3 1h1m0 0h1m0 0h1m0 0h1m-22 1h1m1 0h1m17 0h1m0 0h1m-22 1h1m0 0h1m0 0h1m16 0h1m1 0h1m-23 1h1m19 0h1m-21 1h1m0 0h1m18 0h1m1 0h1m-23 1h1m0 0h1m0 0h1m18 0h1m0 0h1m-23 1h1m19 0h1m1 0h1m-22 1h1m0 0h1m0 0h1m16 0h1m0 0h1m0 0h1m-22 1h1m1 0h1m17 0h1m-19 1h1m16 0h1m0 0h1m-21 1h1m0 0h1m0 0h1m15 0h1m0 0h1m0 0h1m-21 1h1m1 0h1m0 0h1m13 0h1m0 0h1m0 0h1m-19 1h1m0 0h1m0 0h1m0 0h1m11 0h1m0 0h1m0 0h1m-17 1h1m12 0h1m0 0h1m0 0h1m1 0h1m-18 1h1m0 0h1m0 0h1m2 0h1m5 0h1m0 0h1m2 0h1m0 0h1m-14 1h1m1 0h1m0 0h1m0 0h1m0 0h1m1 0h1m0 0h1m0 0h1m0 0h1m1 0h1m-13 1h1m0 0h1m0 0h1m0 0h1m2 0h1m0 0h1m0 0h1m0 0h1m0 0h1m0 0h1m-11 1h1m0 0h1m4 0h1m1 0h1m-6 1h1m1 0h1" stroke="#34c664" stroke-width="1"/>
<path d="M130 1528.5h1m0 0h1m-5 1h1m5 0h1m-7 1h1m0 0h1m0 0h1m1 0h1m0 0h1m0 0h1m-7 1h1m0 0h1m0 0h1m0 0h1m0 0h1m0 0h1m0 0h1m-6 1h1m0 0h1m0 0h1m0 0h1m0 0h1m-6 31h1m0 0h1m0 0h1m0 0h1m0 0h1m0 0h1m-7 1h1m0 0h1m0 0h1m0 0h1m2 0h1m0 0h1m-9 1h1m1 0h1m0 0h1m1 0h1m0 0h1m0 0h1m1 0h1m-12 1h1m0 0h1m0 0h1m0 0h1m0 0h1m0 0h1m0 0h1m0 0h1m0 0h1m1 0h1m-11 1h1m2 0h1m0 0h1m2 0h1m0 0h1m0 0h1m0 0h1m0 0h1m0 0h1m-13 1h1m1 0h1m0 0h1m4 0h1m1 0h1m0 0h1m-14 1h1m0 0h1m0 0h1m0 0h1m0 0h1m6 0h1m0 0h1m0 0h1m0 0h1m-14 1h1m0 0h1m0 0h1m8 0h1m0 0h1m0 0h1m0 0h1m-16 1h1m0 0h1m0 0h1m9 0h1m-13 1h1m0 0h1m0 0h1m9 0h1m0 0h1m1 0h1m-16 1h1m0 0h1m10 0h1m0 0h1m1 0h1m-17 1h1m1 0h1m0 0h1m9 0h1m-13 1h1m0 0h1m0 0h1m9 0h1m1 0h1m0 0h1m-15 1h1m0 0h1m11 0h1m0 0h1m-16 1h1m0 0h1m1 0h1m7 0h1m0 0h1m0 0h1m0 0h1m-14 1h1m0 0h1m0 0h1m0 0h1m0 0h1m4 0h1m0 0h1m0 0h1m0 0h1m0 0h1m-13 1h1m0 0h1m0 0h1m0 0h1m0 0h1m0 0h1m0 0h1m0 0h1m0 0h1m1 0h1m0 0h1m-10 1h1m2 0h1m0 0h1m0 0h1m0 0h1m0 0h1m0 0h1m-10 1h1m3 0h1m2 0h1m0 0h1m-7 1h1m0 0h1m1 0h1" stroke="#a8e030" stroke-width="1"/>
<path d="M127 1568.5h1m0 0h1m0 0h1m0 0h1m-5 1h1m2 0h1m0 0h1m0 0h1m-7 1h1m0 0h1m0 0h1m0 0h1m0 0h1m0 0h1m0 0h1m-8 1h1m0 0h1m0 0h1m0 0h1m0 0h1m0 0h1m0 0h1m1 0h1m-8 1h1m0 0h1m1 0h1m0 0h1m0 0h1m0 0h1m0 0h1m-9 1h1m0 0h1m0 0h1m0 0h1m4 0h1m-8 1h1m0 0h1m0 0h1m1 0h1m0 0h1m1 0h1m-9 1h1m2 0h1m0 0h1m0 0h1m0 0h1m0 0h1m0 0h1m-8 1h1m1 0h1m0 0h1m0 0h1m1 0h1m0 0h1m-8 1h1m0 0h1m0 0h1m0 0h1m1 0h1m0 0h1m-4 1h1m0 0h1m0 0h1" stroke="#f0c820" stroke-width="1"/>
<path d="M163 1511.8V1615.4M104.3 1557.8H210.3" stroke="#3c3c3c" stroke-width="1.1"/>
<path d="M101.3 1615.4H104.3M104.3 1615.4V1618.4M101.3 1580.87H104.3M139.63 1615.4V1618.4M101.3 1546.33H104.3M174.97 1615.4V1618.4M101.3 1511.8H104.3M210.3 1615.4V1618.4" stroke="#000" stroke-width="0.9"/>
<path d="M104.3 1511.8V1615.4H210.3" stroke="#000" stroke-width="0.9" fill="none"/>
<text x="100.3" y="1617.4" class="s" text-anchor="end">10<tspan dy="-2" font-size="3.5">2</tspan></text>
<text x="106.3" y="1627.4" class="s" text-anchor="middle">10<tspan dy="-2" font-size="3.5">2</tspan></text>
<text x="100.3" y="1582.87" class="s" text-anchor="end">10<tspan dy="-2" font-size="3.5">3</tspan></text>
<text x="141.63" y="1627.4" class="s" text-anchor="middle">10<tspan dy="-2" font-size="3.5">3</tspan></text>
<text x="100.3" y="1548.33" class="s" text-anchor="end">10<tspan dy="-2" font-size="3.5">4</tspan></text>
<text x="176.97" y="1627.4" class="s" text-anchor="middle">10<tspan dy="-2" font-size="3.5">4</tspan></text>
<text x="100.3" y="1513.8" class="s" text-anchor="end">10<tspan dy="-2" font-size="3.5">5</tspan></text>
<text x="212.3" y="1627.4" class="s" text-anchor="middle">10<tspan dy="-2" font-size="3.5">5</tspan></text>
<text x="157.3" y="1636.4" class="s" text-anchor="middle">AnnexinV</text>
<text transform="translate(90.3 1563.6) rotate(-90)" class="s" text-anchor="middle">PI</text>
<text x="106.1" y="1520.8" class="s">Q3</text>
<text x="106.1" y="1528.3" class="s">26.9</text>
<text x="201.3" y="1520.8" class="s" text-anchor="end">Q2</text>
<text x="201.3" y="1528.3" class="s" text-anchor="end">9.26</text>
<text x="106.1" y="1602.9" class="s">Q4</text>
<text x="106.1" y="1610.4" class="s">55.4</text>
<text x="201.3" y="1602.9" class="s" text-anchor="end">Q1</text>
<text x="201.3" y="1610.4" class="s" text-anchor="end">8.43</text>
<text x="318.7" y="1498" class="t" font-size="29" text-anchor="middle">WT+MIT</text>
<rect x="279.8" y="1517" width="105.4" height="103.8" fill="#fff" stroke="#b4b4b4" stroke-width="0.8"/>
<ellipse transform="translate(314.58 1547.1) rotate(-40)" rx="19.71" ry="7.94" fill="url(#u2)"/>
<ellipse transform="translate(312.47 1595.89) rotate(0)" rx="14.33" ry="19.41" fill="url(#u2)"/>
<ellipse transform="translate(360.96 1591.74) rotate(0)" rx="11.65" ry="14.12" fill="url(#u1)"/>
<ellipse transform="translate(364.12 1545.03) rotate(0)" rx="8.96" ry="14.12" fill="url(#u1)"/>
<ellipse transform="translate(311.42 1615.61) rotate(0)" rx="14.33" ry="7.06" fill="url(#u1)"/>
<path d="M305 1518.5h1m16 0h1m17 0h1m3 0h1m-32 1h1m13 0h1m1 0h1m34 0h1m-25 1h1m-24 1h1m26 0h1m28 0h1m-42 1h1m4 0h1m6 0h1m1 0h1m18 0h1m4 0h1m10 0h1m-56 1h1m5 0h1m8 0h1m12 0h1m14 0h1m6 0h1m2 0h1m-51 1h1m5 0h1m4 0h1m2 0h1m27 0h1m-38 1h1m4 0h1m-33 1h1m9 0h1m29 0h1m7 0h1m0 0h1m4 0h1m-54 1h1m8 0h1m22 0h1m3 0h1m16 0h1m0 0h1m6 0h1m-74 1h1m25 0h1m24 0h1m8 0h1m11 0h1m0 0h1m10 0h1m-64 1h1m0 0h1m20 0h1m17 0h1m9 0h1m1 0h1m9 0h1m-67 1h1m4 0h1m31 0h1m0 0h1m0 0h1m18 0h1m1 0h1m6 0h1m-97 1h1m31 0h1m31 0h1m27 0h1m-63 1h1m-15 1h1m52 0h1m-58 1h1m42 0h1m12 0h1m-14 1h1m4 0h1m-48 1h1m6 0h1m0 0h1m32 0h1m38 0h1m-39 1h1m-51 1h1m48 0h1m7 0h1m30 0h1m2 0h1m-44 1h1m3 0h1m4 0h1m28 0h1m4 0h1m-98 2h1m6 0h1m45 0h1m-55 1h1m9 0h1m43 0h1m6 0h1m3 0h1m35 0h1m-48 1h1m-41 1h1m0 0h1m2 0h1m77 0h1m-92 1h1m6 0h1m42 0h1m2 1h1m-8 1h1m4 0h1m12 0h1m-57 1h1m81 0h1m-30 1h1m28 0h1m-47 1h1m-41 1h1m43 0h1m2 0h1m-6 1h1m44 0h1m0 0h1m3 0h1m-92 1h1m41 0h1m17 0h1m-61 1h1m36 0h1m0 0h1m0 0h1m19 0h1m-68 1h1m47 0h1m6 0h1m12 0h1m-63 1h1m42 0h1m12 0h1m1 0h1m2 0h1m-22 1h1m13 0h1m-59 1h1m37 0h1m0 0h1m3 0h1m12 0h1m2 0h1m-62 1h1m47 0h1m7 0h1m32 0h1m-52 1h1m8 0h1m0 0h1m4 0h1m4 0h1m3 0h1m7 0h1m16 0h1m-51 1h1m3 0h1m0 0h1m0 0h1m2 0h1m1 0h1m5 0h1m1 0h1m0 0h1m12 0h1m14 0h1m1 0h1m-89 1h1m0 0h1m38 0h1m24 0h1m-66 1h1m41 0h1m14 0h1m9 0h1m5 0h1m1 0h1m8 0h1m-86 1h1m4 0h1m43 0h1m9 0h1m17 0h1m4 0h1m7 0h1m9 0h1m-101 1h1m3 0h1m44 0h1m17 0h1m0 0h1m2 0h1m1 0h1m1 0h1m9 0h1m12 0h1m-100 1h1m46 0h1m14 0h1m5 0h1m2 0h1m2 0h1m4 0h1m-33 1h1m6 0h1m9 0h1m0 0h1m15 0h1m-77 1h1m1 0h1m45 0h1m7 0h1m2 0h1m4 0h1m1 0h1m-7 1h1m4 0h1m3 0h1m2 0h1m2 0h1m0 0h1m0 0h1m2 0h1m4 0h1m0 0h1m-87 1h1m46 0h1m5 0h1m4 0h1m0 0h1m9 0h1m5 0h1m9 0h1m1 0h1m8 0h1m-36 1h1m1 0h1m5 0h1m2 0h1m-73 1h1m49 0h1m15 0h1m-19 1h1m1 0h1m0 0h1m13 0h1m-18 1h1m11 0h1m23 0h1m4 0h1m-89 1h1m48 0h1m0 0h1m33 0h1m-87 1h1m91 0h1m-92 1h1m0 0h1m2 1h1m87 0h1m-97 1h1m0 0h1m4 0h1m1 0h1m49 0h1m32 0h1m1 0h1m2 0h1m1 0h1m-43 1h1m35 0h1m3 0h1m-94 1h1m0 0h1m89 0h1m-89 2h1m88 0h1m-94 2h1m91 0h1m6 0h1m-97 1h1m93 0h1m-96 2h1m94 0h1m-97 2h1m-5 1h1m99 0h1m-1 1h1m-4 1h1m-94 1h1m93 0h1m-95 1h1m97 0h1m-101 2h1m94 2h1m1 0h1m-99 1h1m1 0h1m1 1h1m55 0h1m31 0h1m0 0h1m-94 1h1m1 0h1m54 0h1m1 0h1m33 0h1m-37 1h1m33 0h1m0 0h1m-35 1h1m35 0h1m0 0h1m2 0h1m-41 1h1m34 0h1m5 0h1m-41 1h1m-60 1h1m1 0h1m56 0h1m2 0h1m4 0h1m-68 1h1m3 0h1m51 0h1m10 0h1m0 0h1m23 0h1m5 0h1m-45 1h1m12 0h1m5 0h1m20 0h1m-96 1h1m4 0h1m62 0h1m0 0h1m5 0h1m0 0h1m2 0h1m1 0h1m0 0h1m1 0h1m8 0h1m-94 1h1m60 0h1m15 0h1m1 0h1m0 0h1m2 0h1m-23 1h1m10 0h1m1 0h1m19 0h1m-94 1h1m72 0h1m5 0h1m9 0h1m-84 1h1m52 0h1m22 0h1m1 0h1m10 0h1m-96 1h1m64 0h1m26 0h1m-91 1h1m70 0h1m16 0h1m1 0h1m2 0h1m-90 1h1m52 0h1m31 0h1m-91 1h1m6 0h1m56 0h1" stroke="#8c98ff" stroke-width="1"/>
<path d="M326 1527.5h1m9 0h1m-12 1h1m0 0h1m4 0h1m0 0h1m0 0h1m0 0h1m-13 1h1m2 0h1m8 0h1m1 0h1m-14 1h1m4 0h1m4 0h1m25 0h1m1 0h1m0 0h1m1 0h1m-47 1h1m11 0h1m31 0h1m-45 1h1m1 0h1m1 0h1m0 0h1m7 0h1m28 0h1m0 0h1m4 0h1m2 0h1m-56 1h1m2 0h1m1 0h1m12 0h1m26 0h1m2 0h1m0 0h1m1 0h1m3 0h1m-56 1h1m18 0h1m2 0h1m21 0h1m0 0h1m1 0h1m2 0h1m0 0h1m2 0h1m1 0h1m1 0h1m-59 1h1m0 0h1m18 0h1m1 0h1m18 0h1m3 0h1m7 0h1m2 0h1m-61 1h1m1 0h1m21 0h1m20 0h1m1 0h1m1 0h1m8 0h1m0 0h1m1 0h1m0 0h1m-41 1h1m0 0h1m22 0h1m0 0h1m12 0h1m1 0h1m-64 1h1m2 0h1m59 0h1m-67 1h1m2 0h1m25 0h1m-4 1h1m21 0h1m0 0h1m0 0h1m0 0h1m-52 1h1m1 0h1m21 0h1m22 0h1m0 0h1m-48 1h1m22 0h1m1 0h1m-31 1h1m0 0h1m2 0h1m22 0h1m0 0h1m22 0h1m2 0h1m14 0h1m0 0h1m-45 1h1m23 0h1m2 0h1m16 0h1m1 0h1m-72 1h1m25 0h1m22 0h1m2 0h1m-29 1h1m43 0h1m-70 1h1m24 0h1m0 0h1m23 0h1m2 0h1m0 0h1m-58 1h1m0 0h1m29 0h1m22 0h1m0 0h1m1 0h1m15 0h1m-49 1h1m3 0h1m0 0h1m25 0h1m0 0h1m15 0h1m1 0h1m-80 1h1m3 0h1m53 0h1m16 0h1m0 0h1m2 0h1m-52 1h1m0 0h1m30 0h1m1 0h1m12 0h1m-73 1h1m53 0h1m3 0h1m-37 1h1m34 0h1m12 0h1m-73 1h1m56 0h1m2 0h1m1 0h1m8 0h1m0 0h1m0 0h1m0 0h1m-76 1h1m23 0h1m0 0h1m0 0h1m2 0h1m28 0h1m5 0h1m5 0h1m-71 1h1m25 0h1m0 0h1m35 0h1m10 0h1m-76 1h1m22 0h1m0 0h1m1 0h1m0 0h1m37 0h1m4 0h1m4 0h1m-80 1h1m2 0h1m1 0h1m21 0h1m2 0h1m1 0h1m33 0h1m4 0h1m3 0h1m0 0h1m2 0h1m0 0h1m-81 1h1m2 0h1m1 0h1m17 0h1m1 0h1m2 0h1m38 0h1m1 0h1m7 0h1m2 0h1m-79 1h1m2 0h1m15 0h1m0 0h1m45 0h1m1 0h1m6 0h1m-79 1h1m72 0h1m-74 1h1m0 0h1m1 0h1m0 0h1m1 0h1m12 0h1m1 0h1m3 0h1m1 0h1m1 0h1m40 0h1m1 0h1m3 0h1m-76 1h1m4 0h1m1 0h1m6 0h1m4 0h1m53 0h1m-73 1h1m3 0h1m2 0h1m0 0h1m1 0h1m2 0h1m3 0h1m11 0h1m0 0h1m0 0h1m-33 1h1m22 0h1m5 0h1m-31 1h1m0 0h1m1 0h1m1 0h1m2 0h1m4 0h1m0 0h1m-15 1h1m0 0h1m5 0h1m3 0h1m8 0h1m7 0h1m-29 1h1m4 0h1m3 0h1m2 0h1m5 0h1m1 0h1m6 0h1m0 0h1m0 0h1m1 0h1m-19 1h1m2 0h1m2 0h1m0 0h1m1 0h1m1 0h1m6 0h1m4 0h1m1 0h1m-39 1h1m5 0h1m0 0h1m0 0h1m8 0h1m0 0h1m0 0h1m0 0h1m0 0h1m0 0h1m2 0h1m0 0h1m5 0h1m1 0h1m-25 1h1m6 0h1m0 0h1m0 0h1m0 0h1m3 0h1m3 0h1m4 0h1m0 0h1m6 0h1m-40 1h1m5 0h1m4 0h1m4 0h1m3 0h1m3 0h1m3 0h1m2 0h1m-30 1h1m6 0h1m4 0h1m1 0h1m9 0h1m5 0h1m1 0h1m4 0h1m-40 1h1m6 0h1m2 0h1m1 0h1m20 0h1m29 0h1m0 0h1m4 0h1m6 0h1m-74 1h1m2 0h1m0 0h1m0 0h1m1 0h1m0 0h1m57 0h1m-69 1h1m0 0h1m7 0h1m20 0h1m2 0h1m0 0h1m3 0h1m0 0h1m22 0h1m1 0h1m1 0h1m3 0h1m5 0h1m-77 1h1m6 0h1m26 0h1m1 0h1m3 0h1m1 0h1m17 0h1m2 0h1m5 0h1m2 0h1m0 0h1m0 0h1m-74 1h1m0 0h1m3 0h1m26 0h1m1 0h1m1 0h1m1 0h1m3 0h1m15 0h1m9 0h1m0 0h1m1 0h1m4 0h1m2 0h1m-77 1h1m29 0h1m1 0h1m3 0h1m14 0h1m0 0h1m6 0h1m6 0h1m0 0h1m2 0h1m0 0h1m-70 1h1m27 0h1m2 0h1m1 0h1m11 0h1m4 0h1m1 0h1m14 0h1m1 0h1m1 0h1m3 0h1m-84 1h1m6 0h1m38 0h1m1 0h1m5 0h1m2 0h1m1 0h1m3 0h1m17 0h1m-82 1h1m1 0h1m2 0h1m36 0h1m0 0h1m0 0h1m6 0h1m6 0h1m3 0h1m17 0h1m0 0h1m0 0h1m0 0h1m-32 1h1m7 0h1m-59 1h1m2 0h1m0 0h1m33 0h1m0 0h1m6 0h1m-47 1h1m36 0h1m5 0h1m0 0h1m7 0h1m2 0h1m27 0h1m-85 1h1m0 0h1m0 0h1m1 0h1m35 0h1m10 0h1m0 0h1m1 0h1m27 0h1m2 0h1m-88 1h1m50 0h1m0 0h1m6 0h1m22 0h1m4 0h1m-86 1h1m40 0h1m5 0h1m9 0h1m22 0h1m-83 1h1m41 0h1m2 0h1m7 0h1m0 0h1m4 0h1m27 0h1m-87 1h1m40 0h1m3 0h1m4 0h1m4 0h1m2 0h1m24 0h1m-32 1h1m-12 1h1m14 0h1m1 0h1m25 0h1m-86 1h1m4 0h1m37 0h1m8 0h1m3 0h1m-11 1h1m0 0h1m3 0h1m8 0h1m21 0h1m2 0h1m-87 1h1m4 0h1m42 0h1m7 0h1m28 0h1m-43 1h1m3 0h1m36 0h1m1 0h1m0 0h1m-44 1h1m2 0h1m6 0h1m5 0h1m21 0h1m-79 1h1m0 0h1m38 0h1m0 0h1m1 0h1m1 0h1m2 0h1m2 0h1m3 0h1m24 0h1m-82 1h1m46 0h1m2 0h1m0 0h1m3 0h1m0 0h1m0 0h1m21 0h1m-78 1h1m42 0h1m1 0h1m7 0h1m2 0h1m0 0h1m20 0h1m1 0h1m-83 1h1m55 0h1m1 0h1m19 0h1m-76 1h1m40 0h1m16 0h1m2 0h1m11 0h1m2 0h1m1 0h1m-82 1h1m2 0h1m36 0h1m24 0h1m-64 1h1m36 0h1m19 0h1m0 0h1m3 0h1m1 0h1m1 0h1m1 0h1m2 0h1m4 0h1m0 0h1m-78 1h1m0 0h1m35 0h1m0 0h1m0 0h1m1 0h1m19 0h1m9 0h1m-70 1h1m35 0h1m0 0h1m0 0h1m2 0h1m19 0h1m0 0h1m-28 1h1m26 0h1m2 0h1m2 0h1m-70 1h1m61 0h1m1 0h1m-68 1h1m36 0h1m1 0h1m-41 1h1m37 0h1m4 0h1m0 0h1m-44 1h1m1 0h1m34 0h1m1 0h1m2 0h1m-41 1h1m38 0h1m2 0h1m-43 1h1m0 0h1m33 0h1m-37 1h1m0 0h1m40 0h1m-44 1h1m3 0h1m0 1h1m31 0h1m-33 1h1m30 0h1m0 0h1m2 0h1m-36 1h1m0 0h1m29 0h1m1 0h1" stroke="#6472fa" stroke-width="1"/>
<path d="M327 1532.5h1m-5 1h1m3 0h1m1 0h1m1 0h1m-10 1h1m4 0h1m0 0h1m0 0h1m-9 1h1m0 0h1m0 0h1m3 0h1m37 0h1m-48 1h1m0 0h1m9 0h1m31 0h1m0 0h1m2 0h1m0 0h1m-53 1h1m13 0h1m33 0h1m3 0h1m0 0h1m0 0h1m-56 1h1m15 0h1m0 0h1m0 0h1m28 0h1m0 0h1m3 0h1m0 0h1m2 0h1m-56 1h1m15 0h1m29 0h1m2 0h1m2 0h1m0 0h1m0 0h1m-59 1h1m0 0h1m17 0h1m0 0h1m27 0h1m2 0h1m0 0h1m2 0h1m1 0h1m1 0h1m-61 1h1m1 0h1m17 0h1m27 0h1m2 0h1m0 0h1m4 0h1m0 0h1m-60 1h1m18 0h1m30 0h1m0 0h1m7 0h1m0 0h1m0 0h1m-62 1h1m17 0h1m0 0h1m0 0h1m31 0h1m9 0h1m-64 1h1m18 0h1m30 0h1m1 0h1m8 0h1m-64 1h1m21 0h1m31 0h1m7 0h1m0 0h1m0 0h1m-66 1h1m0 0h1m19 0h1m32 0h1m0 0h1m8 0h1m-66 1h1m0 0h1m19 0h1m35 0h1m6 0h1m1 0h1m-47 1h1m33 0h1m1 0h1m0 0h1m0 0h1m6 0h1m-66 1h1m17 0h1m1 0h1m33 0h1m0 0h1m0 0h1m0 0h1m0 0h1m4 0h1m0 0h1m1 0h1m-50 1h1m1 0h1m36 0h1m0 0h1m1 0h1m0 0h1m1 0h1m0 0h1m0 0h1m-49 1h1m1 0h1m39 0h1m3 0h1m2 0h1m-69 1h1m18 0h1m39 0h1m0 0h1m6 0h1m-68 1h1m0 0h1m15 0h1m42 0h1m2 0h1m0 0h1m1 0h1m-68 1h1m0 0h1m17 0h1m44 0h1m1 0h1m-68 1h1m65 0h1m-52 1h1m0 0h1m-17 1h1m0 0h1m10 0h1m2 0h1m0 0h1m-19 1h1m2 0h1m8 0h1m1 0h1m2 0h1m-13 1h1m0 0h1m0 0h1m2 0h1m1 0h1m-12 1h1m1 0h1m3 0h1m1 0h1m-7 1h1m2 0h1m1 0h1m0 0h1m-7 1h1m2 0h1m0 0h1m0 0h1m0 0h1m5 11h1m0 0h1m2 0h1m-7 1h1m3 0h1m4 0h1m-15 1h1m1 0h1m0 0h1m1 0h1m0 0h1m3 0h1m2 0h1m1 0h1m0 0h1m-18 1h1m1 0h1m1 0h1m4 0h1m0 0h1m1 0h1m0 0h1m0 0h1m2 0h1m0 0h1m-17 1h1m0 0h1m0 0h1m1 0h1m0 0h1m0 0h1m1 0h1m1 0h1m1 0h1m0 0h1m4 0h1m-19 1h1m11 0h1m0 0h1m0 0h1m1 0h1m0 0h1m-21 1h1m0 0h1m15 0h1m0 0h1m4 0h1m-6 1h1m1 0h1m0 0h1m0 0h1m34 0h1m2 0h1m-64 1h1m3 0h1m20 0h1m1 0h1m27 0h1m3 0h1m3 0h1m0 0h1m0 0h1m1 0h1m-41 1h1m28 0h1m0 0h1m1 0h1m0 0h1m0 0h1m2 0h1m0 0h1m1 0h1m-70 1h1m0 0h1m2 0h1m23 0h1m28 0h1m1 0h1m3 0h1m0 0h1m1 0h1m3 0h1m0 0h1m-72 1h1m0 0h1m29 0h1m22 0h1m0 0h1m1 0h1m2 0h1m8 0h1m0 0h1m0 0h1m-71 1h1m0 0h1m0 0h1m24 0h1m0 0h1m1 0h1m25 0h1m10 0h1m0 0h1m1 0h1m-72 1h1m52 0h1m1 0h1m13 0h1m-71 1h1m1 0h1m0 0h1m27 0h1m0 0h1m22 0h1m1 0h1m13 0h1m-73 1h1m1 0h1m28 0h1m0 0h1m40 0h1m1 0h1m-76 1h1m1 0h1m0 0h1m28 0h1m23 0h1m0 0h1m15 0h1m-71 1h1m28 0h1m21 0h1m0 0h1m0 0h1m16 0h1m0 0h1m0 0h1m0 0h1m-77 1h1m0 0h1m52 0h1m0 0h1m1 0h1m16 0h1m1 0h1m-22 1h1m2 0h1m15 0h1m1 0h1m-76 1h1m30 0h1m0 0h1m1 0h1m21 0h1m0 0h1m15 0h1m-73 1h1m29 0h1m1 0h1m38 0h1m-74 1h1m0 0h1m30 0h1m23 0h1m0 0h1m1 0h1m12 0h1m2 0h1m-42 1h1m0 0h1m20 0h1m2 0h1m13 0h1m-41 1h1m0 0h1m25 0h1m10 0h1m0 0h1m-73 1h1m1 0h1m57 0h1m0 0h1m0 0h1m8 0h1m0 0h1m0 0h1m-74 1h1m1 0h1m31 0h1m0 0h1m21 0h1m2 0h1m0 0h1m0 0h1m0 0h1m0 0h1m0 0h1m5 0h1m-71 1h1m0 0h1m31 0h1m0 0h1m24 0h1m1 0h1m2 0h1m0 0h1m3 0h1m0 0h1m-70 1h1m29 0h1m29 0h1m1 0h1m5 0h1m-71 1h1m0 0h1m0 0h1m0 0h1m61 0h1m-66 1h1m0 0h1m63 0h1m-64 1h1m0 0h1m0 0h1m26 0h1m1 0h1m-33 1h1m1 0h1m0 0h1m27 0h1m0 0h1m-31 1h1m0 0h1m27 0h1m-30 1h1m25 0h1m1 0h1m1 0h1m-33 1h1m1 0h1m25 0h1m2 0h1m-4 1h1m2 0h1m-30 1h1m25 0h1m0 0h1m1 0h1m-3 1h1m0 0h1m-30 1h1m1 0h1m24 0h1m0 0h1m0 0h1m-3 1h1m1 0h1m-31 1h1m0 0h1m0 0h1m0 0h1m27 0h1m-30 1h1m27 0h1m0 0h1m-30 1h1m0 0h1m26 0h1m-29 1h1m2 0h1m22 0h1m1 0h1m-29 1h1m2 0h1m18 0h1m0 0h1m0 0h1m0 0h1" stroke="#4658f0" stroke-width="1"/>
<path d="M324 1535.5h1m0 0h1m-4 1h1m0 0h1m1 0h1m-8 1h1m0 0h1m1 0h1m1 0h1m0 0h1m0 0h1m1 0h1m-12 1h1m0 0h1m2 0h1m2 0h1m2 0h1m-2 1h1m0 0h1m0 0h1m-15 1h1m0 0h1m10 0h1m1 0h1m36 0h1m-52 1h1m11 0h1m0 0h1m35 0h1m0 0h1m0 0h1m-54 1h1m12 0h1m1 0h1m34 0h1m3 0h1m-57 1h1m0 0h1m13 0h1m0 0h1m35 0h1m1 0h1m1 0h1m-58 1h1m14 0h1m0 0h1m38 0h1m2 0h1m-58 1h1m12 0h1m1 0h1m36 0h1m0 0h1m0 0h1m1 0h1m0 0h1m-60 1h1m0 0h1m52 0h1m3 0h1m-59 1h1m14 0h1m38 0h1m1 0h1m1 0h1m-61 1h1m15 0h1m42 0h1m-61 1h1m0 0h1m13 0h1m42 0h1m0 0h1m0 0h1m0 0h1m-62 1h1m13 0h1m-2 1h1m-15 1h1m11 0h1m1 0h1m-16 1h1m0 0h1m12 0h1m-5 1h1m1 0h1m-14 1h1m0 0h1m0 0h1m8 0h1m0 0h1m-12 1h1m0 0h1m0 0h1m0 0h1m0 0h1m0 0h1m2 0h1m-10 1h1m2 0h1m3 0h1m0 0h1m-9 1h1m1 0h1m1 0h1m5 20h1m3 0h1m-8 1h1m0 0h1m0 0h1m3 0h1m0 0h1m-10 1h1m2 0h1m1 0h1m0 0h1m0 0h1m2 0h1m1 0h1m-14 1h1m0 0h1m1 0h1m10 0h1m-17 1h1m2 0h1m11 0h1m0 0h1m0 0h1m1 0h1m-20 1h1m1 0h1m13 0h1m0 0h1m1 0h1m-20 1h1m0 0h1m16 0h1m0 0h1m0 0h1m34 0h1m4 0h1m-63 1h1m1 0h1m17 0h1m0 0h1m0 0h1m34 0h1m1 0h1m1 0h1m0 0h1m0 0h1m-64 1h1m21 0h1m0 0h1m30 0h1m1 0h1m0 0h1m2 0h1m0 0h1m0 0h1m0 0h1m-65 1h1m1 0h1m52 0h1m0 0h1m0 0h1m0 0h1m1 0h1m1 0h1m0 0h1m0 0h1m-65 1h1m22 0h1m0 0h1m32 0h1m0 0h1m1 0h1m0 0h1m2 0h1m1 0h1m-68 1h1m24 0h1m0 0h1m28 0h1m1 0h1m0 0h1m6 0h1m-41 1h1m0 0h1m29 0h1m0 0h1m6 0h1m0 0h1m2 0h1m-70 1h1m0 0h1m0 0h1m23 0h1m0 0h1m31 0h1m7 0h1m0 0h1m0 0h1m-70 1h1m26 0h1m28 0h1m0 0h1m0 0h1m7 0h1m0 0h1m1 0h1m-70 1h1m0 0h1m25 0h1m28 0h1m0 0h1m1 0h1m0 0h1m4 0h1m1 0h1m0 0h1m0 0h1m-70 1h1m0 0h1m26 0h1m27 0h1m0 0h1m0 0h1m0 0h1m1 0h1m2 0h1m1 0h1m1 0h1m-68 1h1m25 0h1m0 0h1m28 0h1m1 0h1m1 0h1m0 0h1m0 0h1m3 0h1m-68 1h1m0 0h1m55 0h1m1 0h1m0 0h1m1 0h1m0 0h1m3 0h1m-40 1h1m31 0h1m0 0h1m0 0h1m0 0h1m0 0h1m0 0h1m-65 1h1m0 0h1m24 0h1m0 0h1m31 0h1m0 0h1m0 0h1m-62 1h1m0 0h1m25 0h1m-29 1h1m0 0h1m0 0h1m24 0h1m-2 1h1m-2 1h1m-24 2h1m0 0h1m-1 1h1m20 0h1m-23 1h1m21 0h1m0 0h1m-23 1h1m0 0h1m0 0h1m17 0h1m-21 1h1m1 0h1m18 0h1m-22 1h1m0 0h1m0 0h1m-3 1h1m0 0h1m0 0h1m16 0h1m0 0h1m0 0h1m-22 1h1m0 0h1m0 0h1m17 0h1m-20 1h1m18 0h1m0 0h1m0 0h1m-24 1h1m0 0h1m0 0h1m18 0h1m0 0h1m-22 1h1m0 0h1m18 0h1m0 0h1m0 0h1m-3 1h1m-20 1h1m0 0h1m0 0h1m15 0h1m1 0h1m-20 1h1m1 0h1m11 0h1m0 0h1m0 0h1m0 0h1m0 0h1m-14 1h1m5 0h1m0 0h1m0 0h1m0 0h1m1 0h1" stroke="#2c6ee2" stroke-width="1"/>
<path d="M321 1538.5h1m0 0h1m-4 1h1m0 0h1m1 0h1m0 0h1m-5 1h1m3 0h1m0 0h1m-9 1h1m0 0h1m3 0h1m0 0h1m-10 1h1m0 0h1m0 0h1m7 0h1m-11 1h1m7 0h1m0 0h1m-12 1h1m0 0h1m-2 1h1m8 0h1m-12 1h1m-2 1h1m11 0h1m-3 1h1m0 0h1m-14 1h1m0 0h1m10 0h1m-13 1h1m0 0h1m8 0h1m-12 1h1m0 0h1m7 0h1m-10 1h1m0 0h1m5 0h1m-9 1h1m1 0h1m0 0h1m0 0h1m1 0h1m0 0h1m0 0h1m-9 1h1m2 0h1m0 0h1m0 0h1m0 0h1m0 0h1m-5 1h1m0 0h1m0 0h1m-1 26h1m0 0h1m0 0h1m0 0h1m0 0h1m0 0h1m0 0h1m-9 1h1m0 0h1m2 0h1m0 0h1m0 0h1m1 0h1m0 0h1m-11 1h1m0 0h1m0 0h1m0 0h1m0 0h1m0 0h1m0 0h1m0 0h1m0 0h1m1 0h1m0 0h1m-13 1h1m0 0h1m0 0h1m9 0h1m1 0h1m-16 1h1m0 0h1m0 0h1m11 0h1m0 0h1m-15 1h1m13 0h1m0 0h1m0 0h1m-18 1h1m15 0h1m0 0h1m0 0h1m-21 1h1m18 0h1m-19 1h1m55 0h1m1 0h1m0 0h1m-41 1h1m0 0h1m35 0h1m2 0h1m-61 1h1m19 0h1m35 0h1m0 0h1m1 0h1m0 0h1m0 0h1m-63 1h1m0 0h1m19 0h1m35 0h1m2 0h1m1 0h1m-63 1h1m0 0h1m19 0h1m0 0h1m0 0h1m34 0h1m0 0h1m1 0h1m-63 1h1m0 0h1m0 0h1m20 0h1m0 0h1m36 0h1m-62 1h1m0 0h1m22 0h1m-25 1h1m22 0h1m0 0h1m-23 1h1m20 0h1m0 0h1m-24 1h1m0 0h1m20 0h1m0 0h1m-24 1h1m0 0h1m19 0h1m0 0h1m-22 1h1m19 0h1m0 0h1m-23 1h1m0 0h1m0 0h1m18 0h1m0 0h1m-22 1h1m19 0h1m-2 1h1m0 0h1m-21 1h1m0 0h1m0 0h1m16 0h1m-19 1h1m15 0h1m1 0h1m-19 1h1m1 0h1m14 0h1m0 0h1m-17 1h1m0 0h1m11 0h1m1 0h1m-17 1h1m0 0h1m12 0h1m0 0h1m-14 1h1m0 0h1m9 0h1m0 0h1m0 0h1m0 0h1m-16 1h1m0 0h1m0 0h1m9 0h1m0 0h1m0 0h1m-14 1h1m11 0h1m0 0h1m-15 1h1m0 0h1m10 0h1m0 0h1m-16 1h1m0 0h1m0 0h1m0 0h1m10 0h1m0 0h1m0 0h1m-16 1h1m0 0h1m0 0h1m10 0h1m0 0h1m0 0h1m-15 1h1m0 0h1m9 0h1m0 0h1m0 0h1m0 0h1m-15 1h1m0 0h1m0 0h1m7 0h1m2 0h1m-13 1h1m0 0h1m1 0h1m0 0h1m0 0h1m1 0h1m0 0h1m1 0h1m-8 1h1m1 0h1m0 0h1" stroke="#20a4c4" stroke-width="1"/>
<path d="M318 1541.5h1m0 0h1m0 0h1m-5 1h1m4 0h1m-6 1h1m0 0h1m0 0h1m0 0h1m-7 1h1m2 0h1m1 0h1m0 0h1m0 0h1m-9 1h1m0 0h1m0 0h1m2 0h1m1 0h1m-9 1h1m1 0h1m0 0h1m0 0h1m0 0h1m0 0h1m0 0h1m0 0h1m-10 1h1m0 0h1m0 0h1m4 0h1m0 0h1m-10 1h1m1 0h1m0 0h1m1 0h1m0 0h1m0 0h1m0 0h1m-9 1h1m0 0h1m0 0h1m0 0h1m0 0h1m0 0h1m0 0h1m-6 1h1m0 0h1m0 0h1m2 0h1m-9 1h1m0 0h1m1 0h1m0 0h1m0 0h1m0 0h1m-7 1h1m1 0h1m0 0h1m0 0h1m-3 32h1m3 0h1m0 0h1m0 0h1m-8 1h1m0 0h1m0 0h1m0 0h1m0 0h1m0 0h1m0 0h1m0 0h1m-10 1h1m1 0h1m0 0h1m1 0h1m0 0h1m1 0h1m0 0h1m-11 1h1m3 0h1m5 0h1m0 0h1m0 0h1m0 0h1m0 0h1m-16 1h1m0 0h1m0 0h1m1 0h1m7 0h1m0 0h1m0 0h1m0 0h1m-14 1h1m10 0h1m0 0h1m0 0h1m0 0h1m-17 1h1m0 0h1m0 0h1m11 0h1m1 0h1m0 0h1m-19 1h1m1 0h1m13 0h1m1 0h1m-19 1h1m1 0h1m14 0h1m0 0h1m-19 1h1m15 0h1m0 0h1m0 0h1m-18 1h1m15 0h1m0 0h1m-20 1h1m0 0h1m0 0h1m15 0h1m0 0h1m0 0h1m-21 1h1m0 0h1m0 0h1m16 0h1m0 0h1m-20 1h1m0 0h1m16 0h1m0 0h1m-20 1h1m0 0h1m14 0h1m0 0h1m-17 1h1m0 0h1m15 0h1m-17 1h1m13 0h1m0 0h1m0 0h1m-18 1h1m1 0h1m11 0h1m0 0h1m-16 1h1m12 0h1m0 0h1m0 0h1m-15 1h1m0 0h1m9 0h1m0 0h1m0 0h1m1 0h1m-15 1h1m0 0h1m0 0h1m0 0h1m5 0h1m0 0h1m0 0h1m0 0h1m0 0h1m-13 1h1m0 0h1m0 0h1m2 0h1m0 0h1m0 0h1m2 0h1m0 0h1m-13 1h1m0 0h1m0 0h1m0 0h1m1 0h1m1 0h1m0 0h1m1 0h1m0 0h1m0 0h1m-12 1h1m0 0h1m1 0h1m0 0h1m0 0h1m0 0h1m0 0h1m0 0h1m0 0h1m0 0h1m-11 1h1m0 0h1m0 0h1m1 0h1m4 0h1m-9 1h1m0 0h1m1 0h1m0 0h1m0 0h1m0 0h1m0 0h1m-8 1h1m0 0h1m0 0h1m0 0h1m0 0h1m0 0h1m0 0h1m0 0h1m-9 1h1m0 0h1m0 0h1m0 0h1m0 0h1m0 0h1m1 0h1m0 0h1m-9 1h1m0 0h1m0 0h1m0 0h1m0 0h1m3 0h1m0 0h1m-9 1h1m2 0h1m0 0h1m0 0h1m0 0h1m0 0h1m0 0h1m-10 1h1m0 0h1m0 0h1m1 0h1m0 0h1m0 0h1m0 0h1m0 0h1m-8 1h1m0 0h1m0 0h1m0 0h1m0 0h1m0 0h1m1 0h1m-6 1h1m1 0h1" stroke="#34c664" stroke-width="1"/>
<path d="M311 1587.5h1m0 0h1m1 0h1m-5 1h1m0 0h1m0 0h1m1 0h1m0 0h1m-8 1h1m0 0h1m1 0h1m1 0h1m0 0h1m0 0h1m-9 1h1m2 0h1m0 0h1m0 0h1m0 0h1m1 0h1m0 0h1m-11 1h1m0 0h1m2 0h1m0 0h1m1 0h1m0 0h1m1 0h1m0 0h1m0 0h1m-13 1h1m1 0h1m0 0h1m5 0h1m0 0h1m0 0h1m0 0h1m-13 1h1m1 0h1m8 0h1m0 0h1m-14 1h1m0 0h1m0 0h1m0 0h1m7 0h1m0 0h1m1 0h1m-15 1h1m1 0h1m0 0h1m7 0h1m0 0h1m0 0h1m0 0h1m-15 1h1m0 0h1m0 0h1m0 0h1m9 0h1m0 0h1m-14 1h1m0 0h1m0 0h1m7 0h1m0 0h1m0 0h1m-13 1h1m1 0h1m6 0h1m0 0h1m0 0h1m0 0h1m-13 1h1m1 0h1m0 0h1m8 0h1m-13 1h1m0 0h1m0 0h1m1 0h1m0 0h1m0 0h1m0 0h1m1 0h1m0 0h1m0 0h1m0 0h1m-12 1h1m0 0h1m0 0h1m0 0h1m0 0h1m0 0h1m0 0h1m0 0h1m0 0h1m0 0h1m0 0h1m-10 1h1m0 0h1m0 0h1m0 0h1m0 0h1m0 0h1m0 0h1m1 0h1m-7 1h1m0 0h1m1 0h1m0 0h1m0 0h1m-6 1h1m3 0h1" stroke="#a8e030" stroke-width="1"/>
<path d="M312 1591.5h1m-3 1h1m0 0h1m0 0h1m0 0h1m0 0h1m-6 1h1m0 0h1m0 0h1m0 0h1m0 0h1m0 0h1m-5 1h1m0 0h1m0 0h1m0 0h1m0 0h1m0 0h1m-7 1h1m0 0h1m0 0h1m0 0h1m0 0h1m1 0h1m-7 1h1m1 0h1m0 0h1m0 0h1m0 0h1m-6 1h1m0 0h1m0 0h1m1 0h1m0 0h1m0 0h1m-6 1h1m1 0h1m0 1h1m0 0h1" stroke="#f0c820" stroke-width="1"/>
<path d="M337.3 1517V1620.8M279.8 1562.7H385.2" stroke="#3c3c3c" stroke-width="1.1"/>
<path d="M276.8 1620.8H279.8M279.8 1620.8V1623.8M276.8 1586.2H279.8M314.93 1620.8V1623.8M276.8 1551.6H279.8M350.07 1620.8V1623.8M276.8 1517H279.8M385.2 1620.8V1623.8" stroke="#000" stroke-width="0.9"/>
<path d="M279.8 1517V1620.8H385.2" stroke="#000" stroke-width="0.9" fill="none"/>
<text x="275.8" y="1622.8" class="s" text-anchor="end">10<tspan dy="-2" font-size="3.5">2</tspan></text>
<text x="281.8" y="1632.8" class="s" text-anchor="middle">10<tspan dy="-2" font-size="3.5">2</tspan></text>
<text x="275.8" y="1588.2" class="s" text-anchor="end">10<tspan dy="-2" font-size="3.5">3</tspan></text>
<text x="316.93" y="1632.8" class="s" text-anchor="middle">10<tspan dy="-2" font-size="3.5">3</tspan></text>
<text x="275.8" y="1553.6" class="s" text-anchor="end">10<tspan dy="-2" font-size="3.5">4</tspan></text>
<text x="352.07" y="1632.8" class="s" text-anchor="middle">10<tspan dy="-2" font-size="3.5">4</tspan></text>
<text x="275.8" y="1519" class="s" text-anchor="end">10<tspan dy="-2" font-size="3.5">5</tspan></text>
<text x="387.2" y="1632.8" class="s" text-anchor="middle">10<tspan dy="-2" font-size="3.5">5</tspan></text>
<text x="332.5" y="1641.8" class="s" text-anchor="middle">AnnexinV</text>
<text transform="translate(265.8 1568.9) rotate(-90)" class="s" text-anchor="middle">PI</text>
<text x="281.6" y="1526" class="s">Q3</text>
<text x="281.6" y="1533.5" class="s">17.6</text>
<text x="376.2" y="1526" class="s" text-anchor="end">Q2</text>
<text x="376.2" y="1533.5" class="s" text-anchor="end">5.90</text>
<text x="281.6" y="1608.3" class="s">Q4</text>
<text x="281.6" y="1615.8" class="s">64.9</text>
<text x="376.2" y="1608.3" class="s" text-anchor="end">Q1</text>
<text x="376.2" y="1615.8" class="s" text-anchor="end">11.6</text>
<text x="151.4" y="1672" class="t" font-size="29" text-anchor="middle">WT</text>
<rect x="104.3" y="1679.7" width="106" height="104.3" fill="#fff" stroke="#b4b4b4" stroke-width="0.8"/>
<ellipse transform="translate(136.1 1699.52) rotate(0)" rx="13.52" ry="13.3" fill="url(#u1)"/>
<ellipse transform="translate(128.68 1743.32) rotate(0)" rx="15.32" ry="21.28" fill="url(#u2)"/>
<ellipse transform="translate(181.68 1699.52) rotate(0)" rx="9.91" ry="11.53" fill="url(#u1)"/>
<path d="M143 1681.5h1m13 0h1m3 0h1m-23 1h1m34 0h1m5 0h1m-71 1h1m8 0h1m1 0h1m2 0h1m1 0h1m6 0h1m17 0h1m26 0h1m3 0h1m15 0h1m-80 1h1m5 0h1m5 0h1m11 0h1m1 0h1m0 0h1m27 0h1m2 0h1m0 0h1m1 0h1m1 0h1m-71 1h1m2 0h1m4 0h1m3 0h1m3 0h1m25 0h1m5 0h1m15 0h1m3 0h1m-66 1h1m0 0h1m4 0h1m26 0h1m3 1h1m5 0h1m-39 1h1m29 0h1m23 0h1m13 0h1m0 0h1m-79 1h1m3 0h1m35 0h1m0 0h1m1 0h1m14 0h1m21 0h1m-78 1h1m6 0h1m40 0h1m39 1h1m-87 1h1m36 0h1m8 0h1m0 0h1m6 0h1m22 0h1m-80 1h1m2 0h1m0 0h1m48 0h1m25 0h1m-40 1h1m-47 1h1m6 0h1m42 0h1m4 0h1m31 0h1m-42 1h1m0 0h1m10 0h1m41 0h1m-99 1h1m0 0h1m3 0h1m42 0h1m9 0h1m27 0h1m2 0h1m3 0h1m-91 1h1m0 0h1m1 1h1m43 0h1m1 0h1m-9 1h1m4 0h1m34 0h1m-41 1h1m6 0h1m3 0h1m28 0h1m-34 1h1m-50 1h1m1 0h1m1 0h1m46 0h1m32 0h1m-89 1h1m46 0h1m2 0h1m5 0h1m-12 1h1m43 0h1m-83 1h1m38 0h1m13 0h1m-2 1h1m0 0h1m28 0h1m0 0h1m-47 1h1m4 0h1m11 0h1m21 0h1m0 0h1m-78 1h1m54 0h1m19 0h1m-23 1h1m1 0h1m1 0h1m16 0h1m-37 1h1m9 0h1m-58 1h1m4 0h1m76 0h1m1 0h1m-78 1h1m0 0h1m0 0h1m43 0h1m16 0h1m1 0h1m5 0h1m-33 1h1m1 0h1m1 0h1m23 0h1m0 0h1m-68 1h1m37 0h1m4 0h1m12 0h1m9 0h1m7 0h1m2 0h1m-85 1h1m3 0h1m42 0h1m-44 1h1m0 0h1m42 0h1m24 0h1m-23 1h1m6 0h1m3 0h1m0 0h1m-19 1h1m22 0h1m-69 1h1m0 0h1m43 0h1m9 0h1m37 0h1m-9 1h1m-37 1h1m20 0h1m6 0h1m1 0h1m-79 1h1m62 0h1m9 0h1m-74 1h1m57 0h1m9 0h1m8 0h1m2 0h1m-26 1h1m10 0h1m3 0h1m0 0h1m-26 1h1m4 0h1m14 0h1m1 0h1m5 0h1m4 0h1m3 0h1m11 0h1m-98 1h1m46 0h1m3 0h1m19 0h1m4 0h1m-14 1h1m12 0h1m7 0h1m2 0h1m-88 1h1m46 0h1m11 0h1m3 0h1m-3 1h1m16 0h1m23 0h1m-54 1h1m14 0h1m0 0h1m13 0h1m-23 1h1m5 0h1m22 0h1m-40 1h1m2 0h1m29 0h1m-32 1h1m6 0h1m24 0h1m0 0h1m5 0h1m-42 1h1m13 0h1m20 0h1m3 0h1m-40 1h1m2 0h1m8 0h1m2 0h1m0 0h1m-17 1h1m8 0h1m6 0h1m-16 1h1m-1 1h1m8 0h1m6 0h1m18 0h1m-35 1h1m1 0h1m11 0h1m-3 1h1m1 0h1m-11 1h1m31 0h1m-26 1h1m0 0h1m0 0h1m21 0h1m-38 1h1m0 0h1m5 1h1m2 0h1m5 0h1m27 0h1m-9 1h1m-1 1h1m-21 1h1m17 0h1m2 0h1m2 0h1m-40 1h1m1 0h1m3 0h1m7 0h1m18 0h1m2 0h1m-21 1h1m-18 2h1m2 0h1m13 0h1m-12 1h1m25 0h1m2 0h1m-33 1h1m12 0h1m4 0h1m9 0h1m0 0h1m0 0h1m2 0h1m-37 1h1m16 0h1m18 0h1m-38 1h1m21 0h1m0 0h1m5 0h1m0 0h1m7 0h1m-39 1h1m19 0h1m8 0h1m1 0h1m3 0h1m-18 1h1m2 0h1m0 0h1m2 0h1m-28 1h1m1 0h1m22 0h1m0 1h1m9 0h1m-37 1h1m28 0h1m-4 1h1m1 0h1m14 0h1m-42 1h1m28 1h1m-76 1h1m42 0h1m6 0h1m0 0h1m-50 1h1m45 0h1m1 0h1m0 0h1m1 0h1m15 0h1m-25 1h1m8 0h1m24 0h1m-77 1h1m0 0h1m-3 1h1m52 1h1m-13 1h1m2 0h1m-44 1h1m39 0h1m2 0h1m1 0h1m-48 1h1m1 0h1m46 0h1m-51 1h1m3 0h1m37 0h1m16 0h1m-56 1h1m0 0h1m35 0h1m-1 1h1m0 0h1m5 0h1m-46 1h1m68 0h1m-72 1h1m1 0h1m40 0h1m-35 1h1m28 1h1m7 0h1m-37 1h1m29 0h1m-4 1h1" stroke="#8c98ff" stroke-width="1"/>
<path d="M134 1684.5h1m-3 1h1m-4 1h1m0 0h1m2 0h1m0 0h1m7 0h1m39 0h1m-57 1h1m2 0h1m1 0h1m1 0h1m2 0h1m2 0h1m2 0h1m38 0h1m-53 1h1m6 0h1m1 0h1m0 0h1m1 0h1m3 0h1m29 0h1m9 0h1m0 0h1m-63 1h1m2 0h1m3 0h1m3 0h1m0 0h1m0 0h1m2 0h1m0 0h1m1 0h1m2 0h1m28 0h1m0 0h1m3 0h1m4 0h1m-63 1h1m1 0h1m0 0h1m1 0h1m16 0h1m3 0h1m24 0h1m1 0h1m0 0h1m0 0h1m10 0h1m-67 1h1m2 0h1m1 0h1m17 0h1m24 0h1m6 0h1m6 0h1m-61 1h1m1 0h1m16 0h1m42 0h1m-43 1h1m25 0h1m2 0h1m0 0h1m11 0h1m-68 1h1m4 0h1m20 0h1m27 0h1m14 0h1m0 0h1m0 0h1m-69 1h1m46 0h1m-49 1h1m1 0h1m24 0h1m21 0h1m-52 1h1m2 0h1m23 0h1m0 0h1m24 0h1m16 0h1m0 0h1m-72 1h1m0 0h1m1 0h1m24 0h1m1 0h1m20 0h1m0 0h1m-55 1h1m32 0h1m17 0h1m20 0h1m1 0h1m-45 1h1m0 0h1m21 0h1m0 0h1m17 0h1m1 0h1m0 0h1m-76 1h1m30 0h1m21 0h1m0 0h1m19 0h1m-75 1h1m28 0h1m0 0h1m0 0h1m21 0h1m1 0h1m15 0h1m-72 1h1m0 0h1m33 0h1m35 0h1m0 0h1m-43 1h1m3 0h1m20 0h1m18 0h1m-74 1h1m1 0h1m24 0h1m0 0h1m25 0h1m0 0h1m0 0h1m-24 1h1m18 0h1m2 0h1m-54 1h1m1 0h1m1 0h1m24 0h1m0 0h1m34 0h1m0 0h1m2 0h1m0 0h1m-73 1h1m0 0h1m0 0h1m0 0h1m22 0h1m1 0h1m1 0h1m0 0h1m22 0h1m3 0h1m1 0h1m2 0h1m3 0h1m0 0h1m2 0h1m-71 1h1m24 0h1m1 0h1m1 0h1m1 0h1m21 0h1m1 0h1m0 0h1m2 0h1m1 0h1m-59 1h1m0 0h1m19 0h1m0 0h1m3 0h1m24 0h1m1 0h1m1 0h1m-60 1h1m2 0h1m1 0h1m25 0h1m30 0h1m1 0h1m0 0h1m1 0h1m-68 1h1m5 0h1m18 0h1m3 0h1m32 0h1m0 0h1m-67 1h1m1 0h1m0 0h1m2 0h1m0 0h1m23 0h1m0 0h1m1 0h1m-30 1h1m0 0h1m21 0h1m6 0h1m-35 1h1m28 0h1m2 0h1m-30 1h1m1 0h1m23 0h1m2 0h1m-33 1h1m30 0h1m1 0h1m-31 1h1m25 0h1m0 0h1m-29 1h1m-8 1h1m4 0h1m28 0h1m0 0h1m-37 1h1m5 0h1m34 0h1m-36 1h1m-5 1h1m2 0h1m31 0h1m-38 1h1m1 0h1m34 0h1m1 0h1m-39 1h1m0 0h1m1 0h1m33 0h1m0 0h1m-41 1h1m0 0h1m0 1h1m34 0h1m-37 1h1m0 0h1m36 0h1m-41 1h1m2 0h1m35 0h1m0 0h1m32 0h1m-77 1h1m5 0h1m64 0h1m1 0h1m-71 1h1m0 0h1m36 0h1m1 0h1m0 0h1m27 0h1m5 0h1m-76 1h1m65 0h1m2 0h1m-72 1h1m3 0h1m36 0h1m0 0h1m24 0h1m0 0h1m7 0h1m-76 1h1m38 0h1m0 0h1m3 0h1m28 0h1m-76 1h1m2 0h1m0 0h1m40 0h1m0 0h1m21 0h1m2 0h1m-72 1h1m40 0h1m1 0h1m0 0h1m0 0h1m23 0h1m0 0h1m5 0h1m0 0h1m2 0h1m-78 1h1m0 0h1m39 0h1m25 0h1m3 0h1m4 0h1m1 0h1m-82 1h1m1 0h1m0 0h1m37 0h1m0 0h1m1 0h1m1 0h1m21 0h1m2 0h1m0 0h1m-30 1h1m0 0h1m1 0h1m21 0h1m0 0h1m1 0h1m0 0h1m1 0h1m1 0h1m-36 1h1m2 0h1m22 0h1m1 0h1m0 0h1m1 0h1m-73 1h1m0 0h1m39 0h1m0 0h1m27 0h1m0 0h1m0 0h1m0 0h1m0 0h1m0 0h1m-74 1h1m0 0h1m38 0h1m3 0h1m18 0h1m5 0h1m0 0h1m4 0h1m2 0h1m-81 1h1m0 0h1m0 0h1m38 0h1m3 0h1m20 0h1m3 0h1m6 0h1m-35 1h1m20 0h1m0 0h1m5 0h1m0 0h1m1 0h1m1 0h1m1 0h1m-78 1h1m40 0h1m22 0h1m0 0h1m2 0h1m0 0h1m1 0h1m1 0h1m4 0h1m-13 1h1m4 0h1m0 0h1m-74 1h1m2 0h1m37 0h1m1 0h1m24 0h1m1 0h1m2 0h1m0 0h1m5 0h1m0 0h1m-79 1h1m67 0h1m3 0h1m2 0h1m-76 1h1m38 0h1m2 0h1m23 0h1m3 0h1m5 0h1m-80 1h1m0 0h1m0 0h1m0 0h1m67 0h1m5 0h1m2 0h1m-81 1h1m1 0h1m1 0h1m35 0h1m2 0h1m27 0h1m6 0h1m0 0h1m-39 1h1m28 0h1m1 0h1m-72 1h1m1 0h1m0 0h1m35 0h1m1 0h1m27 0h1m0 0h1m5 0h1m-76 1h1m0 0h1m1 0h1m34 0h1m0 0h1m29 0h1m-71 1h1m0 0h1m40 0h1m28 0h1m2 0h1m-74 1h1m3 0h1m36 0h1m-41 1h1m1 0h1m37 0h1m-39 1h1m35 0h1m1 0h1m-40 1h1m0 0h1m1 0h1m-2 1h1m0 0h1m0 0h1m-7 1h1m3 0h1m31 0h1m1 0h1m1 0h1m-37 1h1m2 0h1m32 0h1m-37 1h1m0 0h1m-2 1h1m31 0h1m0 0h1m-34 1h1m3 0h1m27 0h1m-31 1h1m32 0h1m-35 1h1m-2 1h1m0 0h1m-2 1h1m0 0h1m3 0h1m29 0h1m-35 1h1m2 0h1m0 0h1m26 0h1m0 0h1m0 0h1m-33 1h1m1 0h1m1 0h1m23 0h1m0 0h1m0 0h1m1 0h1m0 0h1m-31 1h1m0 0h1m23 0h1m0 0h1m-28 2h1m0 0h1m0 0h1m22 0h1m1 0h1m0 0h1m-29 1h1m2 0h1m20 0h1m4 0h1m-32 1h1m27 0h1m1 0h1m1 0h1m-31 1h1m4 0h1m19 0h1m3 0h1m-30 1h1m3 0h1m1 0h1m1 0h1m10 0h1m0 0h1m7 0h1m-28 1h1m0 0h1m2 0h1m1 0h1m1 0h1m1 0h1m0 0h1m1 0h1m4 0h1m-15 1h1m4 0h1m0 0h1m3 0h1m1 0h1m1 0h1m2 0h1m0 0h1m-18 1h1m0 0h1m4 0h1m1 0h1m7 0h1m-17 1h1m7 0h1m7 0h1m0 0h1" stroke="#6472fa" stroke-width="1"/>
<path d="M131 1690.5h1m0 0h1m3 0h1m1 0h1m0 0h1m0 0h1m-7 1h1m2 0h1m1 0h1m2 0h1m37 0h1m0 0h1m0 0h1m-55 1h1m2 0h1m0 0h1m4 0h1m0 0h1m0 0h1m0 0h1m0 0h1m37 0h1m0 0h1m-52 1h1m0 0h1m0 0h1m0 0h1m1 0h1m1 0h1m3 0h1m1 0h1m34 0h1m0 0h1m0 0h1m0 0h1m2 0h1m2 0h1m-60 1h1m12 0h1m0 0h1m37 0h1m1 0h1m0 0h1m2 0h1m1 0h1m-60 1h1m1 0h1m10 0h1m0 0h1m33 0h1m8 0h1m0 0h1m-62 1h1m0 0h1m0 0h1m1 0h1m12 0h1m0 0h1m0 0h1m0 0h1m39 0h1m1 0h1m-46 1h1m0 0h1m30 0h1m2 0h1m9 0h1m-63 1h1m1 0h1m15 0h1m2 0h1m26 0h1m0 0h1m12 0h1m-62 1h1m0 0h1m0 0h1m14 0h1m0 0h1m2 0h1m25 0h1m1 0h1m0 0h1m9 0h1m1 0h1m0 0h1m-66 1h1m1 0h1m1 0h1m14 0h1m0 0h1m0 0h1m29 0h1m10 0h1m0 0h1m0 0h1m-64 1h1m19 0h1m0 0h1m0 0h1m26 0h1m1 0h1m0 0h1m9 0h1m0 0h1m-63 1h1m1 0h1m13 0h1m1 0h1m0 0h1m0 0h1m28 0h1m11 0h1m-60 1h1m0 0h1m13 0h1m1 0h1m31 0h1m0 0h1m5 0h1m0 0h1m-61 1h1m1 0h1m0 0h1m0 0h1m0 0h1m11 0h1m0 0h1m36 0h1m1 0h1m0 0h1m0 0h1m2 0h1m-62 1h1m0 0h1m3 0h1m8 0h1m0 0h1m0 0h1m33 0h1m3 0h1m0 0h1m1 0h1m1 0h1m0 0h1m0 0h1m-60 1h1m0 0h1m0 0h1m0 0h1m9 0h1m0 0h1m0 0h1m37 0h1m1 0h1m0 0h1m-54 1h1m0 0h1m1 0h1m0 0h1m0 0h1m0 0h1m0 0h1m2 0h1m0 0h1m1 0h1m37 0h1m-56 1h1m1 0h1m4 0h1m5 0h1m3 0h1m-18 1h1m0 0h1m5 0h1m0 0h1m0 0h1m1 0h1m2 0h1m1 0h1m-16 1h1m2 0h1m1 0h1m4 0h1m1 0h1m2 0h1m-17 1h1m0 0h1m4 0h1m0 0h1m0 0h1m1 0h1m2 0h1m0 0h1m-16 1h1m1 0h1m0 0h1m1 0h1m1 0h1m2 0h1m0 0h1m0 0h1m2 0h1m-16 1h1m1 0h1m1 0h1m3 0h1m3 0h1m-12 1h1m1 0h1m2 0h1m3 0h1m0 0h1m2 0h1m0 0h1m0 0h1m-18 1h1m4 0h1m0 0h1m10 0h1m-19 1h1m2 0h1m11 0h1m0 0h1m0 0h1m2 0h1m-23 1h1m1 0h1m1 0h1m1 0h1m11 0h1m0 0h1m0 0h1m0 0h1m0 0h1m-23 1h1m0 0h1m2 0h1m0 0h1m12 0h1m0 0h1m0 0h1m2 0h1m-22 1h1m16 0h1m-18 1h1m0 0h1m18 0h1m0 0h1m-27 1h1m1 0h1m2 0h1m19 0h1m-23 1h1m20 0h1m-26 1h1m1 0h1m1 0h1m19 0h1m3 0h1m-29 1h1m23 0h1m0 0h1m-27 1h1m0 0h1m24 0h1m2 0h1m-30 1h1m1 0h1m23 0h1m2 0h1m-31 1h1m0 0h1m0 0h1m24 0h1m1 0h1m-31 1h1m0 0h1m1 0h1m24 0h1m1 0h1m-32 1h1m1 1h1m28 0h1m-34 1h1m0 0h1m1 0h1m27 0h1m-31 1h1m1 0h1m27 0h1m0 0h1m1 0h1m-34 1h1m31 0h1m-35 1h1m1 0h1m0 0h1m30 0h1m-33 1h1m0 0h1m29 0h1m-34 1h1m0 0h1m0 0h1m29 0h1m1 0h1m0 0h1m-36 1h1m1 0h1m-2 1h1m0 0h1m-3 1h1m0 0h1m0 0h1m30 0h1m0 0h1m0 0h1m-36 1h1m0 0h1m0 0h1m30 0h1m1 0h1m-37 1h1m35 0h1m-36 1h1m0 1h1m31 0h1m1 0h1m-37 1h1m33 0h1m-35 1h1m0 0h1m0 0h1m0 0h1m30 0h1m-34 1h1m0 0h1m-1 1h1m0 0h1m-3 1h1m1 0h1m31 0h1m-34 1h1m0 0h1m29 0h1m1 0h1m-32 1h1m28 0h1m0 0h1m0 0h1m-35 1h1m1 0h1m29 0h1m-30 1h1m27 0h1m-30 1h1m0 0h1m30 0h1m-34 1h1m1 0h1m27 0h1m1 0h1m-32 1h1m0 0h1m26 0h1m1 0h1m-31 1h1m1 0h1m24 0h1m1 0h1m-29 1h1m1 0h1m-2 1h1m0 0h1m0 0h1m0 0h1m21 0h1m0 0h1m1 0h1m-30 1h1m1 0h1m1 0h1m22 0h1m1 0h1m-29 1h1m0 0h1m22 0h1m2 0h1m-25 1h1m0 0h1m19 0h1m0 0h1m1 0h1m-27 1h1m0 0h1m2 0h1m17 0h1m1 0h1m0 0h1m-22 1h1m17 0h1m0 0h1m-23 1h1m1 0h1m0 0h1m0 0h1m15 0h1m0 0h1m1 0h1m-23 1h1m2 0h1m18 0h1m-24 1h1m1 0h1m0 0h1m19 0h1m-21 1h1m0 0h1m0 0h1m15 0h1m0 0h1m2 0h1m-24 1h1m0 0h1m0 0h1m20 0h1m-22 1h1m17 0h1m2 0h1m-20 1h1m13 0h1m0 0h1m0 0h1m0 0h1m-18 1h1m12 0h1m1 0h1m-20 1h1m0 0h1m0 0h1m0 0h1m0 0h1m13 0h1m0 0h1m0 0h1m-4 1h1m0 0h1m0 0h1m1 0h1m-19 1h1m0 0h1m4 0h1m10 0h1m-18 1h1m2 0h1m1 0h1m1 0h1m0 0h1m0 0h1m0 0h1m0 0h1m1 0h1m-13 1h1m1 0h1m1 0h1m2 0h1m1 0h1m0 0h1m-10 1h1m0 0h1m0 0h1m0 0h1m2 0h1m1 0h1m1 0h1m-9 1h1m1 0h1m2 0h1m0 0h1" stroke="#4658f0" stroke-width="1"/>
<path d="M133 1694.5h1m0 0h1m0 0h1m1 0h1m0 0h1m-8 1h1m0 0h1m1 0h1m0 0h1m0 0h1m1 0h1m1 0h1m39 0h1m0 0h1m0 0h1m0 0h1m-54 1h1m1 0h1m0 0h1m0 0h1m1 0h1m0 0h1m0 0h1m43 0h1m0 0h1m0 0h1m-55 1h1m0 0h1m0 0h1m0 0h1m0 0h1m0 0h1m1 0h1m0 0h1m0 0h1m0 0h1m0 0h1m36 0h1m1 0h1m1 0h1m0 0h1m0 0h1m-55 1h1m0 0h1m3 0h1m0 0h1m1 0h1m0 0h1m0 0h1m36 0h1m0 0h1m1 0h1m2 0h1m0 0h1m0 0h1m-55 1h1m2 0h1m2 0h1m1 0h1m0 0h1m0 0h1m0 0h1m34 0h1m2 0h1m2 0h1m0 0h1m0 0h1m-57 1h1m1 0h1m1 0h1m0 0h1m1 0h1m1 0h1m0 0h1m0 0h1m0 0h1m35 0h1m0 0h1m1 0h1m0 0h1m0 0h1m0 0h1m0 0h1m0 0h1m-52 1h1m1 0h1m1 0h1m0 0h1m0 0h1m0 0h1m36 0h1m0 0h1m1 0h1m2 0h1m0 0h1m-53 1h1m0 0h1m0 0h1m1 0h1m0 0h1m0 0h1m0 0h1m0 0h1m-12 1h1m1 0h1m1 0h1m0 0h1m0 0h1m2 0h1m0 0h1m39 0h1m0 0h1m1 0h1m-50 1h1m0 0h1m0 0h1m3 0h1m-7 1h1m4 0h1m-7 1h1m0 0h1m0 0h1m2 0h1m-7 9h1m1 0h1m1 0h1m-6 1h1m0 0h1m0 0h1m0 0h1m0 0h1m0 0h1m1 0h1m-8 1h1m1 0h1m0 0h1m0 0h1m1 0h1m-10 1h1m1 0h1m1 0h1m2 0h1m2 0h1m0 0h1m-11 1h1m0 0h1m0 0h1m1 0h1m0 0h1m0 0h1m0 0h1m1 0h1m0 0h1m-14 1h1m0 0h1m0 0h1m1 0h1m0 0h1m1 0h1m0 0h1m0 0h1m0 0h1m1 0h1m-13 1h1m0 0h1m0 0h1m8 0h1m0 0h1m1 0h1m0 0h1m-17 1h1m0 0h1m0 0h1m0 0h1m8 0h1m0 0h1m2 0h1m-19 1h1m0 0h1m0 0h1m1 0h1m10 0h1m0 0h1m0 0h1m0 0h1m-20 1h1m1 0h1m1 0h1m11 0h1m0 0h1m-18 1h1m0 0h1m1 0h1m15 0h1m-22 1h1m1 0h1m0 0h1m0 0h1m14 0h1m0 0h1m1 0h1m-23 1h1m0 0h1m0 0h1m0 0h1m15 0h1m1 0h1m0 0h1m-24 1h1m0 0h1m18 0h1m0 0h1m0 0h1m0 0h1m-25 1h1m0 0h1m1 0h1m17 0h1m2 0h1m-26 1h1m0 0h1m0 0h1m20 0h1m-22 1h1m20 0h1m1 0h1m-3 1h1m0 0h1m0 0h1m-27 1h1m0 0h1m0 0h1m21 0h1m-26 1h1m0 0h1m0 0h1m22 0h1m0 0h1m-26 1h1m0 0h1m23 0h1m0 0h1m-28 1h1m0 0h1m25 0h1m-29 1h1m0 0h1m0 0h1m25 0h1m-27 1h1m24 0h1m0 0h1m0 0h1m-30 1h1m0 0h1m0 0h1m24 0h1m0 0h1m0 0h1m-30 1h1m0 0h1m26 0h1m0 0h1m-29 1h1m25 0h1m-28 1h1m0 0h1m27 0h1m-30 1h1m0 0h1m26 0h1m-2 1h1m1 0h1m-2 1h1m0 0h1m-29 1h1m25 0h1m0 0h1m-29 1h1m26 0h1m-28 1h1m0 0h1m24 0h1m1 0h1m-29 1h1m0 0h1m0 0h1m23 0h1m0 0h1m0 0h1m-28 1h1m1 0h1m22 0h1m-25 1h1m0 0h1m21 0h1m-25 1h1m1 0h1m21 0h1m1 0h1m-24 1h1m20 0h1m0 0h1m0 0h1m-26 1h1m0 0h1m0 0h1m21 0h1m-4 1h1m0 0h1m0 0h1m0 0h1m-23 2h1m2 0h1m14 0h1m0 0h1m-19 1h1m2 0h1m12 0h1m0 0h1m0 0h1m0 0h1m-19 1h1m1 0h1m0 0h1m11 0h1m0 0h1m1 0h1m-19 1h1m0 0h1m0 0h1m0 0h1m1 0h1m7 0h1m0 0h1m0 0h1m1 0h1m-16 1h1m3 0h1m9 0h1m-16 1h1m0 0h1m0 0h1m2 0h1m0 0h1m2 0h1m0 0h1m1 0h1m0 0h1m0 0h1m0 0h1m-15 1h1m1 0h1m2 0h1m0 0h1m0 0h1m0 0h1m1 0h1m0 0h1m0 0h1m-11 1h1m0 0h1m1 0h1m0 0h1m1 0h1m0 0h1m0 0h1m0 0h1m1 0h1m0 0h1m-15 1h1m0 0h1m2 0h1m0 0h1m0 0h1m0 0h1m0 0h1m-6 1h1m1 0h1m0 0h1m1 0h1m0 0h1m0 0h1m1 0h1m0 0h1m-12 1h1m0 0h1m0 0h1m0 0h1m0 0h1m0 0h1m2 0h1m0 0h1m0 0h1m1 0h1m-14 1h1m0 0h1m0 0h1m0 0h1m1 0h1m0 0h1m0 0h1m2 0h1m-11 1h1m1 0h1m0 0h1m2 0h1m2 0h1m0 0h1m0 0h1m0 0h1m-11 1h1m1 0h1m0 0h1m1 0h1m0 0h1m1 0h1m0 0h1m1 0h1m-11 1h1m0 0h1m2 0h1m0 0h1m2 0h1m-10 1h1m0 0h1m0 0h1m0 0h1m0 0h1m0 0h1m4 0h1m-10 1h1m0 0h1m0 0h1m0 0h1m3 0h1m0 0h1" stroke="#2c6ee2" stroke-width="1"/>
<path d="M131 1721.5h1m0 0h1m0 0h1m1 0h1m0 0h1m-8 1h1m0 0h1m0 0h1m0 0h1m0 0h1m0 0h1m0 0h1m-7 1h1m0 0h1m0 0h1m2 0h1m1 0h1m-10 1h1m0 0h1m0 0h1m1 0h1m0 0h1m1 0h1m0 0h1m1 0h1m-12 1h1m1 0h1m2 0h1m0 0h1m0 0h1m0 0h1m0 0h1m0 0h1m0 0h1m0 0h1m-14 1h1m2 0h1m0 0h1m0 0h1m0 0h1m0 0h1m0 0h1m1 0h1m0 0h1m0 0h1m-14 1h1m0 0h1m0 0h1m0 0h1m6 0h1m0 0h1m0 0h1m0 0h1m0 0h1m-16 1h1m0 0h1m0 0h1m0 0h1m8 0h1m0 0h1m-15 1h1m0 0h1m1 0h1m10 0h1m0 0h1m0 0h1m-18 1h1m0 0h1m0 0h1m12 0h1m1 0h1m-19 1h1m1 0h1m13 0h1m0 0h1m1 0h1m-21 1h1m0 0h1m0 0h1m15 0h1m0 0h1m-20 1h1m0 0h1m0 0h1m15 0h1m0 0h1m-21 1h1m1 0h1m18 0h1m-22 1h1m0 0h1m18 0h1m0 0h1m-23 1h1m0 0h1m0 0h1m18 0h1m0 0h1m-23 1h1m0 0h1m19 0h1m1 0h1m-24 1h1m0 0h1m20 0h1m0 0h1m-24 1h1m0 0h1m20 0h1m0 0h1m-25 1h1m0 0h1m0 0h1m21 0h1m-24 1h1m22 0h1m-24 1h1m22 0h1m-25 1h1m0 0h1m21 0h1m-24 1h1m0 0h1m21 0h1m0 0h1m-24 1h1m21 0h1m0 0h1m-25 1h1m22 0h1m-22 1h1m19 0h1m0 0h1m-23 1h1m0 0h1m19 0h1m0 0h1m-23 1h1m0 0h1m19 0h1m0 0h1m-22 1h1m0 0h1m17 0h1m-20 1h1m0 0h1m0 0h1m17 0h1m-20 1h1m0 0h1m15 0h1m-18 1h1m0 0h1m0 0h1m14 0h1m-17 1h1m0 0h1m0 0h1m11 0h1m0 0h1m0 0h1m-17 1h1m0 0h1m0 0h1m0 0h1m9 0h1m0 0h1m0 0h1m0 0h1m-16 1h1m0 0h1m2 0h1m6 0h1m1 0h1m-13 1h1m0 0h1m0 0h1m0 0h1m0 0h1m0 0h1m1 0h1m2 0h1m0 0h1m0 0h1m0 0h1m-12 1h1m0 0h1m0 0h1m0 0h1m0 0h1m1 0h1m0 0h1m0 0h1m0 0h1m0 0h1m-10 1h1m0 0h1m2 0h1m0 0h1m1 0h1m0 0h1m-8 1h1m0 0h1m0 0h1m0 0h1m0 0h1m0 0h1m0 0h1m-5 1h1m0 0h1m0 0h1m0 0h1" stroke="#20a4c4" stroke-width="1"/>
<path d="M129 1727.5h1m1 0h1m0 0h1m0 0h1m-7 1h1m0 0h1m0 0h1m0 0h1m0 0h1m1 0h1m0 0h1m-9 1h1m0 0h1m0 0h1m0 0h1m0 0h1m1 0h1m2 0h1m-12 1h1m0 0h1m0 0h1m0 0h1m0 0h1m0 0h1m0 0h1m2 0h1m0 0h1m0 0h1m-13 1h1m0 0h1m0 0h1m0 0h1m0 0h1m0 0h1m0 0h1m0 0h1m1 0h1m0 0h1m0 0h1m-12 1h1m0 0h1m1 0h1m0 0h1m0 0h1m0 0h1m1 0h1m0 0h1m0 0h1m0 0h1m0 0h1m0 0h1m-15 1h1m0 0h1m1 0h1m0 0h1m0 0h1m3 0h1m0 0h1m0 0h1m0 0h1m0 0h1m-14 1h1m0 0h1m0 0h1m0 0h1m7 0h1m0 0h1m0 0h1m0 0h1m0 0h1m-18 1h1m0 0h1m0 0h1m0 0h1m0 0h1m10 0h1m0 0h1m0 0h1m-18 1h1m0 0h1m0 0h1m0 0h1m10 0h1m0 0h1m1 0h1m-19 1h1m0 0h1m1 0h1m12 0h1m0 0h1m-18 1h1m0 0h1m14 0h1m0 0h1m-18 1h1m0 0h1m0 0h1m15 0h1m0 0h1m-20 1h1m16 0h1m0 0h1m0 0h1m-21 1h1m0 0h1m0 0h1m0 0h1m14 0h1m0 0h1m0 0h1m-21 1h1m0 0h1m0 0h1m0 0h1m14 0h1m0 0h1m-19 1h1m1 0h1m14 0h1m0 0h1m-20 1h1m0 0h1m0 0h1m0 0h1m14 0h1m0 0h1m0 0h1m-21 1h1m1 0h1m0 0h1m15 0h1m-18 1h1m0 0h1m13 0h1m1 0h1m0 0h1m-20 1h1m0 0h1m0 0h1m13 0h1m1 0h1m-19 1h1m0 0h1m0 0h1m13 0h1m0 0h1m0 0h1m-18 1h1m1 0h1m11 0h1m0 0h1m1 0h1m-18 1h1m0 0h1m0 0h1m0 0h1m9 0h1m0 0h1m-14 1h1m0 0h1m0 0h1m0 0h1m0 0h1m6 0h1m1 0h1m1 0h1m-16 1h1m0 0h1m0 0h1m0 0h1m0 0h1m0 0h1m0 0h1m0 0h1m0 0h1m0 0h1m0 0h1m0 0h1m0 0h1m1 0h1m-14 1h1m0 0h1m0 0h1m0 0h1m0 0h1m1 0h1m0 0h1m1 0h1m1 0h1m-10 1h1m0 0h1m0 0h1m0 0h1m0 0h1m0 0h1m1 0h1m0 0h1m0 0h1m-10 1h1m0 0h1m1 0h1m0 0h1m0 0h1m0 0h1m0 0h1m0 0h1m-7 1h1m0 0h1m0 0h1m0 0h1" stroke="#34c664" stroke-width="1"/>
<path d="M128 1733.5h1m0 0h1m0 0h1m-5 1h1m0 0h1m0 0h1m0 0h1m1 0h1m0 0h1m-8 1h1m0 0h1m0 0h1m0 0h1m0 0h1m0 0h1m1 0h1m0 0h1m-10 1h1m0 0h1m0 0h1m0 0h1m0 0h1m1 0h1m0 0h1m0 0h1m0 0h1m-11 1h1m0 0h1m0 0h1m0 0h1m0 0h1m3 0h1m0 0h1m0 0h1m0 0h1m-12 1h1m1 0h1m0 0h1m0 0h1m0 0h1m0 0h1m0 0h1m1 0h1m0 0h1m0 0h1m-13 1h1m0 0h1m0 0h1m0 0h1m4 0h1m1 0h1m0 0h1m0 0h1m-13 1h1m0 0h1m0 0h1m0 0h1m5 0h1m0 0h1m0 0h1m0 0h1m0 0h1m-14 1h1m0 0h1m0 0h1m0 0h1m6 0h1m0 0h1m0 0h1m0 0h1m-14 1h1m2 0h1m6 0h1m0 0h1m1 0h1m-14 1h1m1 0h1m8 0h1m0 0h1m0 0h1m-14 1h1m0 0h1m0 0h1m0 0h1m7 0h1m0 0h1m-12 1h1m0 0h1m0 0h1m5 0h1m0 0h1m0 0h1m0 0h1m0 0h1m-14 1h1m0 0h1m0 0h1m0 0h1m0 0h1m4 0h1m0 0h1m0 0h1m0 0h1m-13 1h1m0 0h1m0 0h1m0 0h1m0 0h1m0 0h1m0 0h1m0 0h1m1 0h1m0 0h1m0 0h1m0 0h1m-12 1h1m0 0h1m0 0h1m0 0h1m1 0h1m0 0h1m0 0h1m1 0h1m-9 1h1m0 0h1m2 0h1m0 0h1m0 0h1m1 0h1m0 0h1m-10 1h1m0 0h1m0 0h1m0 0h1m1 0h1m1 0h1m0 0h1m-7 1h1m0 0h1m0 0h1m0 0h1m0 0h1" stroke="#a8e030" stroke-width="1"/>
<path d="M127 1739.5h1m0 0h1m0 0h1m-4 1h1m0 0h1m0 0h1m0 0h1m0 0h1m-5 1h1m0 0h1m0 0h1m0 0h1m1 0h1m-6 1h1m0 0h1m0 0h1m0 0h1m0 0h1m0 0h1m-6 1h1m0 0h1m0 0h1m0 0h1m0 0h1m0 0h1m-6 1h1m0 0h1m0 0h1m0 0h1m0 0h1m0 0h1m-6 1h1m0 0h1m0 0h1m1 0h1m-4 1h1m0 0h1m0 0h1" stroke="#f0c820" stroke-width="1"/>
<path d="M163 1679.7V1784M104.3 1726.2H210.3" stroke="#3c3c3c" stroke-width="1.1"/>
<path d="M101.3 1784H104.3M104.3 1784V1787M101.3 1749.23H104.3M139.63 1784V1787M101.3 1714.47H104.3M174.97 1784V1787M101.3 1679.7H104.3M210.3 1784V1787" stroke="#000" stroke-width="0.9"/>
<path d="M104.3 1679.7V1784H210.3" stroke="#000" stroke-width="0.9" fill="none"/>
<text x="100.3" y="1786" class="s" text-anchor="end">10<tspan dy="-2" font-size="3.5">2</tspan></text>
<text x="106.3" y="1796" class="s" text-anchor="middle">10<tspan dy="-2" font-size="3.5">2</tspan></text>
<text x="100.3" y="1751.23" class="s" text-anchor="end">10<tspan dy="-2" font-size="3.5">3</tspan></text>
<text x="141.63" y="1796" class="s" text-anchor="middle">10<tspan dy="-2" font-size="3.5">3</tspan></text>
<text x="100.3" y="1716.47" class="s" text-anchor="end">10<tspan dy="-2" font-size="3.5">4</tspan></text>
<text x="176.97" y="1796" class="s" text-anchor="middle">10<tspan dy="-2" font-size="3.5">4</tspan></text>
<text x="100.3" y="1681.7" class="s" text-anchor="end">10<tspan dy="-2" font-size="3.5">5</tspan></text>
<text x="212.3" y="1796" class="s" text-anchor="middle">10<tspan dy="-2" font-size="3.5">5</tspan></text>
<text x="157.3" y="1805" class="s" text-anchor="middle">AnnexinV</text>
<text transform="translate(90.3 1731.85) rotate(-90)" class="s" text-anchor="middle">PI</text>
<text x="106.1" y="1688.7" class="s">Q3</text>
<text x="106.1" y="1696.2" class="s">12.5</text>
<text x="201.3" y="1688.7" class="s" text-anchor="end">Q2</text>
<text x="201.3" y="1696.2" class="s" text-anchor="end">8.15</text>
<text x="106.1" y="1771.5" class="s">Q4</text>
<text x="106.1" y="1779" class="s">74.0</text>
<text x="201.3" y="1771.5" class="s" text-anchor="end">Q1</text>
<text x="201.3" y="1779" class="s" text-anchor="end">5.31</text>
<text x="331.9" y="1673" class="t" font-size="29" text-anchor="middle">SP1 KO</text>
<rect x="279.2" y="1678.2" width="105.6" height="102.8" fill="#fff" stroke="#b4b4b4" stroke-width="0.8"/>
<ellipse transform="translate(314.05 1697.73) rotate(0)" rx="13.46" ry="15.73" fill="url(#u2)"/>
<ellipse transform="translate(310.88 1739.88) rotate(0)" rx="17.95" ry="20.97" fill="url(#u2)"/>
<ellipse transform="translate(358.4 1695.68) rotate(0)" rx="12.57" ry="10.49" fill="url(#u1)"/>
<ellipse transform="translate(358.4 1738.85) rotate(0)" rx="12.57" ry="17.48" fill="url(#u1)"/>
<ellipse transform="translate(314.05 1721.38) rotate(0)" rx="10.77" ry="10.49" fill="url(#u1)"/>
<path d="M328 1680.5h1m10 0h1m8 0h1m8 0h1m13 0h1m-81 1h1m44 0h1m4 0h1m7 0h1m11 0h1m-8 1h1m15 0h1m-84 1h1m44 0h1m17 0h1m-14 1h1m39 0h1m-85 1h1m39 0h1m0 0h1m35 0h1m-31 1h1m-59 1h1m1 0h1m52 0h1m39 0h1m-43 1h1m1 0h1m-44 1h1m-8 1h1m2 0h1m88 0h1m-94 1h1m6 0h1m-12 1h1m9 0h1m-5 1h1m0 0h1m88 1h1m-3 1h1m-91 4h1m3 0h1m85 0h1m1 1h1m-3 1h1m1 0h1m-89 1h1m87 1h1m-40 1h1m-57 1h1m-3 2h1m6 0h1m0 0h1m47 0h1m-50 1h1m48 0h1m4 1h1m2 1h1m28 0h1m-39 1h1m-54 1h1m63 0h1m31 0h1m-99 1h1m7 0h1m54 0h1m2 0h1m26 0h1m5 0h1m-39 1h1m-1 1h1m-2 1h1m33 0h1m-88 1h1m91 0h1m-41 1h1m5 0h1m0 0h1m-64 1h1m54 0h1m3 0h1m29 0h1m4 0h1m-2 1h1m-93 2h1m90 0h1m4 0h1m-100 3h1m97 0h1m0 0h1m-3 2h1m-99 2h1m0 0h1m91 0h1m-93 1h1m90 0h1m0 4h1m1 0h1m4 0h1m-101 1h1m93 4h1m-95 1h1m92 0h1m3 1h1m-1 1h1m1 0h1m-100 2h1m94 1h1m1 2h1m-7 2h1m4 0h1m-96 2h1m0 0h1m87 0h1m2 0h1m4 1h1m-7 1h1m-32 1h1m0 0h1m-59 1h1m53 0h1m-54 1h1m52 0h1m2 0h1m23 0h1m4 0h1m-34 1h1m27 0h1m6 0h1m-91 1h1m51 0h1m27 0h1m4 0h1m1 0h1m-29 1h1m-4 1h1m15 0h1m9 0h1m-82 1h1m58 0h1m2 0h1m-10 1h1m3 0h1m1 0h1m3 0h1m-61 1h1m60 0h1m6 0h1m1 0h1m8 0h1m7 0h1m-33 1h1m6 0h1m11 0h1m6 0h1m-84 1h1m55 0h1m-2 2h1m12 0h1m16 0h1m-90 1h1m5 0h1m74 0h1m-29 1h1m47 0h1m-51 1h1m3 1h1m3 0h1m21 1h1m-32 3h1m3 0h1m11 0h1m3 0h1m6 0h1m1 0h1m-32 1h1m-48 1h1m6 0h1m46 0h1m26 0h1m-36 1h1m4 1h1m23 0h1" stroke="#8c98ff" stroke-width="1"/>
<path d="M309 1680.5h1m0 0h1m4 0h1m5 0h1m-16 1h1m8 0h1m4 0h1m1 1h1m1 0h1m-19 1h1m14 0h1m3 0h1m2 0h1m0 0h1m23 0h1m5 0h1m2 0h1m0 0h1m-66 1h1m0 0h1m3 0h1m49 0h1m6 0h1m3 0h1m-41 1h1m21 0h1m4 0h1m2 0h1m1 0h1m2 0h1m0 0h1m1 0h1m0 0h1m-68 1h1m0 0h1m0 0h1m2 0h1m23 0h1m4 0h1m38 0h1m-73 1h1m35 0h1m15 0h1m-50 1h1m27 0h1m13 0h1m5 0h1m18 0h1m-37 1h1m11 0h1m2 0h1m0 0h1m25 0h1m-42 1h1m13 0h1m22 0h1m2 0h1m-76 1h1m0 0h1m0 0h1m37 0h1m4 0h1m1 0h1m0 0h1m-52 1h1m36 0h1m1 0h1m9 0h1m1 0h1m24 0h1m-75 1h1m33 0h1m7 0h1m4 0h1m28 0h1m1 0h1m-45 1h1m-38 1h1m1 0h1m1 0h1m35 0h1m-41 1h1m38 0h1m1 0h1m6 0h1m2 0h1m-49 1h1m34 0h1m39 0h1m0 0h1m-42 1h1m8 0h1m3 0h1m0 0h1m26 0h1m-78 1h1m37 0h1m9 0h1m27 0h1m-75 1h1m33 0h1m11 0h1m27 0h1m-77 1h1m1 0h1m38 0h1m2 0h1m31 0h1m-77 1h1m0 0h1m0 0h1m0 0h1m34 0h1m0 0h1m7 0h1m2 0h1m2 0h1m21 0h1m-78 1h1m1 0h1m0 0h1m37 0h1m8 0h1m4 0h1m0 0h1m22 0h1m0 0h1m-78 1h1m35 0h1m2 0h1m35 0h1m-74 1h1m31 0h1m0 0h1m20 0h1m17 0h1m2 0h1m-76 1h1m34 0h1m16 0h1m1 0h1m-57 1h1m31 0h1m19 0h1m2 0h1m-60 1h1m1 0h1m34 0h1m1 0h1m16 0h1m5 0h1m15 0h1m1 0h1m-79 1h1m1 0h1m1 0h1m31 0h1m3 0h1m15 0h1m0 0h1m19 0h1m-76 1h1m0 0h1m-3 1h1m1 0h1m29 0h1m26 0h1m-64 1h1m4 0h1m0 0h1m0 0h1m29 0h1m1 0h1m2 0h1m20 0h1m15 0h1m-77 1h1m76 0h1m-44 1h1m27 0h1m-28 1h1m27 0h1m-61 1h1m34 0h1m20 0h1m1 0h1m1 0h1m11 0h1m-77 1h1m37 0h1m3 0h1m32 0h1m1 0h1m-81 1h1m38 0h1m1 0h1m35 0h1m-80 1h1m5 0h1m34 0h1m0 0h1m1 0h1m2 0h1m21 0h1m10 0h1m-82 1h1m47 0h1m2 0h1m12 0h1m0 0h1m13 0h1m1 0h1m-81 1h1m4 0h1m0 0h1m62 0h1m9 0h1m2 0h1m-83 1h1m45 0h1m4 0h1m9 0h1m0 0h1m5 0h1m0 0h1m7 0h1m0 0h1m0 0h1m0 0h1m-82 1h1m2 0h1m0 0h1m0 0h1m46 0h1m16 0h1m9 0h1m1 0h1m-83 1h1m47 0h1m0 0h1m15 0h1m1 0h1m11 0h1m-74 1h1m38 0h1m6 0h1m0 0h1m0 0h1m0 0h1m1 0h1m3 0h1m1 0h1m15 0h1m2 0h1m-82 1h1m44 0h1m0 0h1m1 0h1m1 0h1m0 0h1m5 0h1m1 0h1m0 0h1m-13 1h1m8 0h1m1 0h1m0 0h1m22 0h1m-38 1h1m9 0h1m22 0h1m0 0h1m4 0h1m-41 1h1m0 0h1m4 0h1m4 0h1m2 0h1m-62 1h1m2 0h1m45 0h1m1 0h1m3 0h1m4 0h1m2 0h1m18 0h1m-33 1h1m0 0h1m2 0h1m0 0h1m26 0h1m0 0h1m-80 1h1m47 0h1m32 0h1m-87 1h1m0 0h1m54 0h1m4 0h1m23 0h1m-85 1h1m1 0h1m45 0h1m5 0h1m2 0h1m1 0h1m23 0h1m-84 1h1m0 0h1m0 0h1m49 0h1m2 0h1m2 0h1m2 0h1m25 0h1m-90 1h1m2 0h1m0 0h1m47 0h1m2 0h1m6 0h1m23 0h1m-83 1h1m49 0h1m1 0h1m0 0h1m3 0h1m1 0h1m-61 1h1m58 0h1m25 0h1m-90 1h1m61 0h1m0 0h1m23 0h1m0 0h1m-88 1h1m4 0h1m56 0h1m0 0h1m-61 1h1m1 0h1m48 0h1m1 0h1m30 0h1m2 0h1m-87 1h1m47 0h1m4 0h1m3 0h1m27 0h1m-38 1h1m4 0h1m0 0h1m4 0h1m22 0h1m-37 1h1m1 0h1m2 0h1m2 0h1m0 0h1m0 0h1m27 0h1m0 0h1m0 0h1m-91 1h1m49 0h1m2 0h1m35 0h1m-89 1h1m2 0h1m46 0h1m6 0h1m0 0h1m0 0h1m0 0h1m26 0h1m-85 1h1m1 0h1m43 0h1m1 0h1m1 0h1m2 0h1m8 0h1m17 0h1m4 0h1m-86 1h1m45 0h1m1 0h1m1 0h1m9 0h1m-64 1h1m49 0h1m5 0h1m6 0h1m2 0h1m18 0h1m-80 1h1m41 0h1m1 0h1m0 0h1m6 0h1m1 0h1m7 0h1m11 0h1m0 0h1m2 0h1m1 0h1m0 0h1m-84 1h1m56 0h1m0 0h1m0 0h1m18 0h1m-77 1h1m40 0h1m3 0h1m8 0h1m0 0h1m10 0h1m4 0h1m-76 1h1m42 0h1m1 0h1m0 0h1m10 0h1m0 0h1m0 0h1m4 0h1m2 0h1m5 0h1m0 0h1m3 0h1m3 0h1m-79 1h1m1 0h1m0 0h1m35 0h1m2 0h1m1 0h1m21 0h1m0 0h1m0 0h1m1 0h1m4 0h1m0 0h1m-79 1h1m2 0h1m36 0h1m2 0h1m1 0h1m23 0h1m0 0h1m7 0h1m-31 1h1m20 0h1m1 0h1m3 0h1m1 0h1m-76 1h1m2 0h1m0 0h1m31 0h1m36 0h1m-76 1h1m2 0h1m67 0h1m-72 1h1m0 0h1m1 0h1m39 0h1m-41 1h1m1 0h1m1 0h1m0 0h1m29 0h1m4 0h1m-40 1h1m31 0h1m5 1h1m1 0h1m-9 1h1m4 0h1m2 0h1m-40 1h1m36 0h1m-41 2h1m1 0h1m1 0h1m0 0h1m32 0h1m-33 2h1m-3 1h1m2 0h1m27 0h1m5 0h1m-37 1h1m0 0h1m30 0h1m-33 1h1m27 0h1m0 0h1m5 0h1m-40 1h1m0 0h1m0 0h1m0 0h1m31 0h1m0 0h1m-35 1h1m4 0h1m23 0h1m5 0h1m-36 1h1m30 0h1m4 0h1m-36 1h1m-1 1h1m2 0h1m22 0h1m-21 1h1m1 0h1m2 0h1m13 0h1m0 0h1m-18 1h1m6 0h1m3 0h1m-7 1h1m11 0h1m3 0h1" stroke="#6472fa" stroke-width="1"/>
<path d="M310 1682.5h1m-3 1h1m0 0h1m2 0h1m1 0h1m1 0h1m2 0h1m-11 1h1m0 0h1m0 0h1m0 0h1m0 0h1m1 0h1m0 0h1m1 0h1m-15 1h1m1 0h1m0 0h1m0 0h1m0 0h1m7 0h1m4 0h1m-19 1h1m0 0h1m2 0h1m10 0h1m3 0h1m33 0h1m-55 1h1m0 0h1m16 0h1m0 0h1m2 0h1m26 0h1m1 0h1m1 0h1m1 0h1m2 0h1m1 0h1m-61 1h1m0 0h1m18 0h1m0 0h1m0 0h1m24 0h1m14 0h1m-64 1h1m22 0h1m1 0h1m24 0h1m1 0h1m7 0h1m3 0h1m0 0h1m-18 1h1m0 0h1m0 0h1m11 0h1m-62 1h1m21 0h1m22 0h1m0 0h1m16 0h1m0 0h1m0 0h1m-21 1h1m17 0h1m0 0h1m1 0h1m-69 1h1m25 0h1m19 0h1m1 0h1m18 0h1m0 0h1m0 0h1m-70 1h1m24 0h1m0 0h1m0 0h1m16 0h1m1 0h1m19 0h1m-69 1h1m45 0h1m-46 1h1m25 0h1m21 0h1m19 0h1m0 0h1m-44 1h1m0 0h1m40 0h1m1 0h1m-73 1h1m1 0h1m0 0h1m25 0h1m0 0h1m0 0h1m-3 1h1m0 0h1m19 0h1m0 0h1m17 0h1m0 0h1m-71 1h1m0 0h1m0 0h1m47 0h1m0 0h1m0 0h1m18 0h1m-72 1h1m68 0h1m-68 1h1m51 0h1m15 0h1m-70 1h1m0 0h1m26 0h1m23 0h1m1 0h1m12 0h1m0 0h1m1 0h1m-70 1h1m24 0h1m26 0h1m3 0h1m0 0h1m6 0h1m1 0h1m0 0h1m-69 1h1m2 0h1m22 0h1m1 0h1m27 0h1m0 0h1m0 0h1m5 0h1m0 0h1m-64 1h1m1 0h1m21 0h1m1 0h1m26 0h1m0 0h1m0 0h1m0 0h1m1 0h1m2 0h1m0 0h1m1 0h1m1 0h1m-67 1h1m0 0h1m21 0h1m1 0h1m28 0h1m1 0h1m0 0h1m0 0h1m0 0h1m0 0h1m0 0h1m1 0h1m0 0h1m0 0h1m0 0h1m-66 1h1m20 0h1m0 0h1m2 0h1m33 0h1m1 0h1m2 0h1m1 0h1m-69 1h1m2 0h1m0 0h1m55 0h1m1 0h1m0 0h1m3 0h1m0 0h1m-67 1h1m23 0h1m32 0h1m0 0h1m2 0h1m1 0h1m1 0h1m-65 1h1m54 0h1m5 0h1m0 0h1m-63 1h1m19 0h1m2 0h1m30 0h1m8 0h1m0 0h1m-65 1h1m22 0h1m34 0h1m0 0h1m1 0h1m1 0h1m-68 1h1m2 0h1m20 0h1m0 0h1m2 0h1m29 0h1m0 0h1m3 0h1m4 0h1m0 0h1m-68 1h1m56 0h1m4 0h1m1 0h1m2 0h1m-68 1h1m0 0h1m22 0h1m1 0h1m30 0h1m0 0h1m0 0h1m2 0h1m0 0h1m-68 1h1m2 0h1m23 0h1m1 0h1m35 0h1m0 0h1m-65 1h1m0 0h1m0 0h1m23 0h1m35 0h1m2 0h1m-68 1h1m0 0h1m26 0h1m0 0h1m33 0h1m0 0h1m1 0h1m-6 1h1m0 0h1m4 0h1m0 0h1m-69 1h1m29 0h1m0 0h1m32 0h1m-68 1h1m3 0h1m27 0h1m31 0h1m0 0h1m0 0h1m1 0h1m0 0h1m0 0h1m-70 1h1m1 0h1m0 0h1m27 0h1m2 0h1m27 0h1m0 0h1m-64 1h1m63 0h1m-32 1h1m0 0h1m27 0h1m3 0h1m-70 1h1m1 0h1m32 0h1m25 0h1m1 0h1m0 0h1m6 0h1m0 0h1m-71 1h1m0 0h1m32 0h1m0 0h1m24 0h1m0 0h1m1 0h1m2 0h1m2 0h1m-36 1h1m0 0h1m0 0h1m21 0h1m1 0h1m1 0h1m3 0h1m-67 1h1m55 0h1m7 0h1m0 0h1m-69 1h1m1 0h1m34 0h1m1 0h1m20 0h1m0 0h1m0 0h1m3 0h1m1 0h1m1 0h1m1 0h1m-74 1h1m2 0h1m35 0h1m20 0h1m4 0h1m6 0h1m0 0h1m0 0h1m1 0h1m-74 1h1m34 0h1m0 0h1m0 0h1m17 0h1m1 0h1m1 0h1m9 0h1m-73 1h1m38 0h1m1 0h1m19 0h1m1 0h1m9 0h1m2 0h1m-78 1h1m59 0h1m13 0h1m-74 1h1m0 0h1m38 0h1m1 0h1m16 0h1m1 0h1m0 0h1m11 0h1m1 0h1m-38 1h1m0 0h1m19 0h1m-20 1h1m0 0h1m16 0h1m0 0h1m13 0h1m-76 1h1m39 0h1m0 0h1m0 0h1m32 0h1m1 0h1m0 0h1m0 0h1m-22 1h1m1 0h1m0 0h1m14 0h1m1 0h1m0 0h1m-80 1h1m2 0h1m36 0h1m0 0h1m0 0h1m1 0h1m16 0h1m0 0h1m12 0h1m2 0h1m-78 1h1m0 0h1m58 0h1m-60 1h1m39 0h1m15 0h1m0 0h1m17 0h1m-37 1h1m0 0h1m17 0h1m0 0h1m1 0h1m13 0h1m-78 1h1m39 0h1m2 0h1m15 0h1m1 0h1m1 0h1m0 0h1m9 0h1m0 0h1m0 0h1m-73 1h1m34 0h1m21 0h1m1 0h1m8 0h1m0 0h1m0 0h1m2 0h1m-76 1h1m36 0h1m3 0h1m17 0h1m2 0h1m1 0h1m2 0h1m0 0h1m1 0h1m2 0h1m0 0h1m-74 1h1m34 0h1m0 0h1m0 0h1m23 0h1m3 0h1m6 0h1m0 0h1m-75 1h1m0 0h1m38 0h1m21 0h1m4 0h1m3 0h1m2 0h1m-71 1h1m31 0h1m27 0h1m0 0h1m1 0h1m0 0h1m2 0h1m1 0h1m-72 1h1m0 0h1m31 0h1m31 0h1m0 0h1m1 0h1m0 0h1m-69 1h1m31 0h1m28 0h1m1 0h1m1 0h1m0 0h1m-68 1h1m3 0h1m-5 1h1m30 0h1m1 0h1m-30 1h1m29 0h1m-34 1h1m3 0h1m0 0h1m22 0h1m0 0h1m-27 1h1m1 0h1m21 1h1m1 0h1m-22 1h1m19 0h1m2 0h1m-29 1h1m2 0h1m17 0h1m0 0h1m3 0h1m-24 1h1m0 0h1m18 0h1m-22 1h1m3 0h1m13 1h1m0 0h1m-17 1h1m0 0h1m1 0h1m16 0h1m-22 1h1m1 0h1m19 0h1m-25 1h1m0 0h1m1 0h1m0 0h1m0 0h1m11 0h1m5 0h1m0 0h1m-24 1h1m1 0h1m1 0h1m12 0h1m5 0h1m-21 1h1m0 0h1m13 0h1m0 0h1m0 0h1m-23 1h1m0 0h1m3 0h1m0 0h1m12 0h1m0 0h1m1 0h1m1 0h1m-24 1h1m2 0h1m1 0h1m13 0h1m-20 1h1m5 0h1m10 0h1m0 0h1m0 0h1m2 0h1m-22 1h1m3 0h1m10 0h1m1 0h1m0 0h1m0 0h1m-20 1h1m2 0h1m2 0h1m0 0h1m10 0h1m-16 1h1m0 0h1m0 0h1m0 0h1m3 0h1m1 0h1m1 0h1m1 0h1m1 0h1m-18 1h1m5 0h1m1 0h1m1 0h1m0 0h1m0 0h1m1 0h1m-8 1h1m10 0h1m-15 1h1m0 0h1m0 0h1m2 0h1m0 1h1m2 0h1" stroke="#4658f0" stroke-width="1"/>
<path d="M315 1685.5h1m-6 1h1m2 0h1m2 0h1m1 0h1m-12 1h1m0 0h1m1 0h1m0 0h1m2 0h1m4 0h1m-13 1h1m0 0h1m10 0h1m0 0h1m-16 1h1m15 0h1m0 0h1m32 0h1m0 0h1m2 0h1m0 0h1m0 0h1m-57 1h1m14 0h1m1 0h1m32 0h1m0 0h1m2 0h1m0 0h1m0 0h1m0 0h1m0 0h1m-59 1h1m15 0h1m2 0h1m26 0h1m1 0h1m0 0h1m1 0h1m3 0h1m0 0h1m1 0h1m-41 1h1m0 0h1m27 0h1m9 0h1m0 0h1m0 0h1m-62 1h1m19 0h1m27 0h1m13 0h1m-64 1h1m62 0h1m0 0h1m-65 1h1m0 0h1m19 0h1m26 0h1m1 0h1m13 0h1m-65 1h1m1 0h1m20 0h1m24 0h1m0 0h1m-50 1h1m47 0h1m0 0h1m0 0h1m12 0h1m1 0h1m-65 1h1m21 0h1m24 0h1m15 0h1m-16 1h1m11 0h1m0 0h1m0 0h1m0 0h1m-63 1h1m19 0h1m28 0h1m1 0h1m6 0h1m0 0h1m0 0h1m0 0h1m-42 1h1m0 0h1m27 0h1m0 0h1m0 0h1m1 0h1m0 0h1m0 0h1m2 0h1m-61 1h1m1 0h1m18 0h1m0 0h1m32 0h1m1 0h1m0 0h1m1 0h1m1 0h1m0 0h1m-43 1h1m0 0h1m32 0h1m0 0h1m2 0h1m-57 1h1m18 0h1m37 0h1m-42 1h1m0 0h1m38 0h1m0 0h1m-58 1h1m16 0h1m-16 1h1m12 0h1m2 0h1m-19 1h1m0 0h1m0 0h1m0 0h1m10 0h1m2 0h1m-18 1h1m0 0h1m0 0h1m12 0h1m-13 1h1m9 0h1m1 0h1m-16 1h1m0 0h1m0 0h1m13 0h1m0 0h1m-18 1h1m2 0h1m11 0h1m-13 1h1m10 0h1m-16 1h1m0 0h1m13 0h1m0 0h1m-15 1h1m14 0h1m0 0h1m0 0h1m-3 1h1m-18 1h1m16 0h1m0 0h1m0 0h1m-2 1h1m1 0h1m-23 1h1m0 0h1m19 0h1m-23 1h1m1 0h1m19 1h1m-25 1h1m23 0h1m-25 1h1m0 0h1m0 0h1m22 0h1m0 0h1m-28 1h1m0 0h1m0 0h1m-2 1h1m0 0h1m-4 1h1m0 0h1m27 0h1m-30 1h1m0 0h1m-2 1h1m0 0h1m26 0h1m-30 1h1m0 0h1m0 0h1m27 0h1m0 0h1m-32 1h1m0 0h1m-4 1h1m0 0h1m1 0h1m28 0h1m0 0h1m29 0h1m0 0h1m0 0h1m0 0h1m-67 1h1m0 0h1m31 0h1m28 0h1m1 0h1m0 0h1m1 0h1m-68 1h1m30 0h1m2 0h1m25 0h1m1 0h1m0 0h1m2 0h1m-67 1h1m0 0h1m0 0h1m29 0h1m26 0h1m2 0h1m1 0h1m0 0h1m1 0h1m-36 1h1m0 0h1m0 0h1m24 0h1m3 0h1m0 0h1m0 0h1m0 0h1m-66 1h1m31 0h1m0 0h1m23 0h1m0 0h1m5 0h1m2 0h1m0 0h1m-69 1h1m58 0h1m0 0h1m0 0h1m2 0h1m3 0h1m-71 1h1m0 0h1m31 0h1m26 0h1m0 0h1m0 0h1m0 0h1m1 0h1m0 0h1m1 0h1m1 0h1m-12 1h1m0 0h1m0 0h1m0 0h1m0 0h1m0 0h1m1 0h1m1 0h1m-69 1h1m33 0h1m0 0h1m26 0h1m0 0h1m0 0h1m0 0h1m4 0h1m-38 1h1m28 0h1m0 0h1m0 0h1m1 0h1m2 0h1m-68 1h1m31 0h1m26 0h1m0 0h1m0 0h1m0 0h1m2 0h1m1 0h1m-69 1h1m32 0h1m0 0h1m24 0h1m0 0h1m6 0h1m-67 1h1m0 0h1m29 0h1m28 0h1m1 0h1m1 0h1m0 0h1m0 0h1m-66 1h1m29 0h1m29 0h1m2 0h1m0 0h1m-67 1h1m31 0h1m-31 1h1m28 0h1m0 0h1m-31 1h1m0 0h1m25 0h1m2 0h1m-30 1h1m0 0h1m24 0h1m0 0h1m0 0h1m-27 1h1m22 0h1m0 0h1m-26 1h1m22 0h1m2 0h1m-26 1h1m1 0h1m19 0h1m0 0h1m-25 1h1m1 0h1m1 0h1m17 0h1m-21 1h1m0 0h1m0 0h1m0 0h1m13 0h1m0 0h1m0 0h1m1 0h1m-22 1h1m0 0h1m0 0h1m14 0h1m0 0h1m0 0h1m-15 1h1m0 0h1m2 0h1m2 0h1m1 0h1m-13 1h1m4 0h1m0 0h1m1 0h1m1 0h1m0 0h1m0 0h1m0 0h1m2 0h1m-13 1h1m0 0h1m0 0h1m0 0h1m2 0h1m1 0h1m0 0h1m0 0h1m0 0h1m0 0h1m-15 1h1m2 0h1m3 0h1m2 0h1m-8 1h1m0 0h1m1 0h1m3 0h1m0 0h1m0 0h1m-9 1h1m4 0h1m-3 1h1m0 0h1m0 0h1m0 0h1m0 0h1m-10 1h1m7 0h1m-9 1h1m0 0h1m0 0h1m4 0h1m1 0h1m-9 1h1m1 0h1m0 0h1m0 0h1m0 0h1m0 0h1m1 0h1m-11 1h1m1 0h1m0 0h1m0 0h1m0 0h1m0 0h1m0 0h1m2 0h1m0 0h1m-12 1h1m3 0h1m0 0h1m0 0h1m0 0h1m-7 1h1m3 0h1m2 0h1m-8 1h1m4 0h1m-6 1h1m2 0h1m1 1h1m1 0h1m-6 1h1m2 0h1" stroke="#2c6ee2" stroke-width="1"/>
<path d="M313 1688.5h1m0 0h1m-6 1h1m2 0h1m0 0h1m0 0h1m0 0h1m1 0h1m0 0h1m-11 1h1m3 0h1m3 0h1m0 0h1m-11 1h1m0 0h1m9 0h1m0 0h1m37 0h1m-52 1h1m1 0h1m45 0h1m0 0h1m0 0h1m1 0h1m2 0h1m-57 1h1m14 0h1m36 0h1m1 0h1m0 0h1m-55 1h1m46 0h1m0 0h1m0 0h1m0 0h1m4 0h1m1 0h1m-59 1h1m0 0h1m14 0h1m0 0h1m32 0h1m0 0h1m3 0h1m0 0h1m0 0h1m1 0h1m-60 1h1m0 0h1m14 0h1m0 0h1m0 0h1m29 0h1m0 0h1m0 0h1m0 0h1m3 0h1m0 0h1m0 0h1m0 0h1m-60 1h1m0 0h1m0 0h1m15 0h1m30 0h1m0 0h1m1 0h1m2 0h1m0 0h1m0 0h1m1 0h1m-58 1h1m15 0h1m35 0h1m0 0h1m0 0h1m0 0h1m0 0h1m0 0h1m-60 1h1m0 0h1m16 0h1m0 0h1m33 0h1m0 0h1m3 0h1m-41 1h1m0 0h1m32 0h1m3 0h1m-40 1h1m0 0h1m-3 1h1m0 0h1m-16 1h1m0 0h1m14 0h1m-17 1h1m1 0h1m10 0h1m0 0h1m0 0h1m-15 1h1m0 0h1m0 0h1m9 0h1m0 0h1m-14 1h1m0 0h1m0 0h1m0 1h1m0 0h1m1 0h1m0 0h1m1 0h1m-7 1h1m1 0h1m0 0h1m3 0h1m-6 1h1m0 0h1m2 0h1m-8 1h1m3 0h1m2 0h1m-6 1h1m0 0h1m2 0h1m-7 1h1m3 0h1m0 0h1m0 0h1m-6 1h1m0 0h1m0 0h1m1 0h1m0 0h1m0 0h1m0 0h1m-7 1h1m2 0h1m0 0h1m0 0h1m0 0h1m0 0h1m-11 1h1m7 0h1m1 0h1m-11 1h1m0 0h1m8 0h1m0 0h1m0 0h1m-15 1h1m13 0h1m-16 1h1m1 0h1m11 0h1m0 0h1m-1 1h1m0 1h1m-19 1h1m17 0h1m-20 1h1m0 0h1m0 0h1m16 0h1m-20 1h1m18 0h1m-21 1h1m1 0h1m18 0h1m-21 1h1m19 0h1m0 0h1m-24 1h1m0 0h1m21 0h1m-2 1h1m0 0h1m-2 2h1m1 0h1m-27 1h1m0 0h1m22 0h1m-25 1h1m24 0h1m0 0h1m-27 1h1m0 0h1m23 0h1m-25 1h1m23 0h1m-1 1h1m-27 1h1m0 0h1m24 0h1m0 0h1m0 0h1m-29 1h1m0 0h1m24 0h1m-28 1h1m0 0h1m26 0h1m0 0h1m-30 1h1m0 0h1m26 0h1m-29 1h1m0 0h1m26 0h1m0 0h1m-30 1h1m0 0h1m26 0h1m0 0h1m-29 1h1m0 0h1m24 0h1m0 0h1m-29 1h1m1 0h1m24 0h1m-28 1h1m1 0h1m-2 1h1m-1 1h1m1 0h1m-2 1h1m23 0h1m-25 1h1m1 0h1m21 0h1m0 0h1m-25 1h1m1 0h1m18 0h1m1 0h1m-23 1h1m1 0h1m17 0h1m0 0h1m-22 1h1m0 0h1m16 0h1m1 0h1m-20 1h1m0 0h1m0 0h1m0 0h1m14 0h1m-16 1h1m0 0h1m9 0h1m0 0h1m-13 1h1m1 0h1m1 0h1m1 0h1m0 0h1m0 0h1m1 0h1m0 0h1m1 0h1m0 0h1m-14 1h1m2 0h1m0 0h1m1 0h1m0 0h1m1 0h1m1 0h1m-10 1h1m0 0h1m0 0h1m0 0h1m3 0h1" stroke="#20a4c4" stroke-width="1"/>
<path d="M313 1690.5h1m0 0h1m-5 1h1m0 0h1m0 0h1m0 0h1m0 0h1m-6 1h1m1 0h1m1 0h1m0 0h1m2 0h1m0 0h1m-10 1h1m0 0h1m3 0h1m0 0h1m0 0h1m0 0h1m0 0h1m0 0h1m-12 1h1m1 0h1m0 0h1m0 0h1m0 0h1m1 0h1m0 0h1m0 0h1m0 0h1m1 0h1m-14 1h1m0 0h1m0 0h1m0 0h1m0 0h1m4 0h1m1 0h1m0 0h1m37 0h1m0 0h1m0 0h1m-51 1h1m7 0h1m0 0h1m0 0h1m0 0h1m37 0h1m0 0h1m-53 1h1m0 0h1m1 0h1m6 0h1m1 0h1m0 0h1m37 0h1m-52 1h1m1 0h1m0 0h1m7 0h1m1 0h1m-14 1h1m1 0h1m8 0h1m0 0h1m-13 1h1m2 0h1m-4 1h1m0 0h1m0 0h1m1 0h1m0 0h1m2 0h1m1 0h1m1 0h1m0 0h1m-11 1h1m0 0h1m0 0h1m3 0h1m1 0h1m0 0h1m-11 1h1m0 0h1m1 0h1m0 0h1m0 0h1m1 0h1m0 0h1m0 0h1m0 0h1m-11 1h1m0 0h1m1 0h1m0 0h1m0 0h1m1 0h1m-7 1h1m3 0h1m1 0h1m0 0h1m-5 1h1m1 0h1m-5 9h1m0 0h1m1 0h1m0 0h1m-6 1h1m2 0h1m1 0h1m1 0h1m-10 1h1m0 0h1m0 0h1m0 0h1m1 0h1m0 0h1m0 0h1m0 0h1m0 0h1m-10 1h1m0 0h1m0 0h1m1 0h1m3 0h1m0 0h1m0 0h1m-12 1h1m0 0h1m0 0h1m0 0h1m0 0h1m3 0h1m0 0h1m-11 1h1m0 0h1m0 0h1m10 0h1m0 0h1m-16 1h1m0 0h1m0 0h1m0 0h1m8 0h1m0 0h1m-14 1h1m0 0h1m0 0h1m10 0h1m-15 1h1m0 0h1m12 0h1m0 0h1m0 0h1m-16 1h1m0 0h1m0 0h1m13 0h1m-18 1h1m0 0h1m12 0h1m0 0h1m0 0h1m-18 1h1m0 0h1m0 0h1m0 0h1m11 0h1m0 0h1m1 0h1m-18 1h1m14 0h1m0 0h1m0 0h1m-20 1h1m0 0h1m0 0h1m0 0h1m13 0h1m0 0h1m0 0h1m-21 1h1m0 0h1m0 0h1m15 0h1m0 0h1m0 0h1m-19 1h1m0 0h1m14 0h1m0 0h1m-21 1h1m1 0h1m16 0h1m2 0h1m-23 1h1m1 0h1m0 0h1m15 0h1m0 0h1m1 0h1m-21 1h1m16 0h1m0 0h1m0 0h1m-23 1h1m0 0h1m0 0h1m18 0h1m1 0h1m-24 1h1m0 0h1m0 0h1m0 0h1m18 0h1m0 0h1m-24 1h1m0 0h1m19 0h1m-22 1h1m21 0h1m0 0h1m-24 1h1m0 0h1m0 0h1m18 0h1m1 0h1m0 0h1m-26 1h1m21 0h1m1 0h1m-25 1h1m2 0h1m18 0h1m1 0h1m-24 1h1m1 0h1m20 0h1m-24 1h1m1 0h1m17 0h1m0 0h1m0 0h1m-23 1h1m0 0h1m0 0h1m17 0h1m0 0h1m1 0h1m-24 1h1m0 0h1m0 0h1m17 0h1m0 0h1m1 0h1m-22 1h1m0 0h1m0 0h1m14 0h1m2 0h1m-22 1h1m0 0h1m2 0h1m12 0h1m1 0h1m0 0h1m0 0h1m-21 1h1m0 0h1m2 0h1m10 0h1m1 0h1m0 0h1m0 0h1m-19 1h1m11 0h1m3 0h1m-13 1h1m0 0h1m2 0h1m0 0h1m0 0h1m0 0h1m0 0h1m0 0h1m0 0h1m0 0h1m-13 1h1m0 0h1m2 0h1m0 0h1m0 0h1m2 0h1m0 0h1m0 0h1m0 0h1m-13 1h1m0 0h1m2 0h1m0 0h1m0 0h1m1 0h1m1 0h1m0 0h1m-10 1h1m0 0h1m0 0h1m0 0h1m0 0h1m0 0h1m0 0h1" stroke="#34c664" stroke-width="1"/>
<path d="M312 1695.5h1m0 0h1m1 0h1m-5 1h1m1 0h1m0 0h1m0 0h1m-5 1h1m1 0h1m1 0h1m0 0h1m-6 1h1m1 0h1m2 0h1m-4 1h1m0 0h1m0 0h1m-4 1h1m1 0h1m0 0h1m-3 1h1m0 0h1m-3 18h1m0 0h1m0 0h1m-4 1h1m0 0h1m0 0h1m0 0h1m1 0h1m-8 1h1m1 0h1m3 0h1m0 0h1m-8 1h1m0 0h1m0 0h1m1 0h1m0 0h1m0 0h1m0 0h1m0 0h1m-10 1h1m0 0h1m0 0h1m0 0h1m0 0h1m0 0h1m1 0h1m0 0h1m-9 1h1m0 0h1m0 0h1m1 0h1m0 0h1m0 0h1m2 0h1m-10 1h1m0 0h1m0 0h1m2 0h1m0 0h1m0 0h1m0 0h1m-10 1h1m0 0h1m1 0h1m0 0h1m0 0h1m1 0h1m2 0h1m-12 1h1m1 0h1m0 0h1m0 0h1m0 0h1m0 0h1m0 0h1m0 0h1m0 0h1m0 0h1m0 0h1m0 0h1m-13 1h1m0 0h1m0 0h1m0 0h1m0 0h1m0 0h1m1 0h1m0 0h1m0 0h1m0 0h1m1 0h1m-13 1h1m0 0h1m0 0h1m0 0h1m0 0h1m1 0h1m0 0h1m4 0h1m-13 1h1m2 0h1m0 0h1m0 0h1m0 0h1m2 0h1m0 0h1m0 0h1m0 0h1m-14 1h1m0 0h1m0 0h1m1 0h1m3 0h1m0 0h1m1 0h1m0 0h1m-11 1h1m0 0h1m5 0h1m0 0h1m0 0h1m0 0h1m0 0h1m-15 1h1m0 0h1m0 0h1m0 0h1m6 0h1m0 0h1m0 0h1m0 0h1m0 0h1m-16 1h1m0 0h1m0 0h1m1 0h1m7 0h1m0 0h1m0 0h1m-14 1h1m0 0h1m0 0h1m9 0h1m0 0h1m0 0h1m0 0h1m-17 1h1m0 0h1m0 0h1m0 0h1m8 0h1m0 0h1m0 0h1m0 0h1m0 0h1m-18 1h1m0 0h1m1 0h1m10 0h1m0 0h1m0 0h1m-17 1h1m0 0h1m1 0h1m11 0h1m1 0h1m-17 1h1m1 0h1m10 0h1m0 0h1m0 0h1m0 0h1m-18 1h1m1 0h1m0 0h1m10 0h1m1 0h1m0 0h1m-18 1h1m0 0h1m1 0h1m0 0h1m8 0h1m0 0h1m-14 1h1m0 0h1m1 0h1m8 0h1m1 0h1m0 0h1m-16 1h1m0 0h1m0 0h1m0 0h1m7 0h1m0 0h1m0 0h1m0 0h1m0 0h1m-16 1h1m1 0h1m0 0h1m0 0h1m1 0h1m4 0h1m0 0h1m0 0h1m1 0h1m-15 1h1m0 0h1m0 0h1m0 0h1m0 0h1m0 0h1m0 0h1m0 0h1m1 0h1m0 0h1m0 0h1m0 0h1m0 0h1m-12 1h1m1 0h1m0 0h1m1 0h1m1 0h1m0 0h1m1 0h1m-11 1h1m1 0h1m0 0h1m0 0h1m0 0h1m0 0h1m0 0h1m1 0h1m-8 1h1m0 0h1m1 0h1m1 0h1" stroke="#a8e030" stroke-width="1"/>
<path d="M311 1731.5h1m0 0h1m-3 1h1m0 0h1m1 0h1m-4 1h1m2 0h1m-5 1h1m2 0h1m0 0h1m0 0h1m-8 1h1m0 0h1m0 0h1m0 0h1m2 0h1m0 0h1m-3 1h1m-7 1h1m2 0h1m0 0h1m0 0h1m0 0h1m2 0h1m-9 1h1m0 0h1m0 0h1m0 0h1m0 0h1m0 0h1m0 0h1m0 0h1m0 0h1m-10 1h1m0 0h1m0 0h1m0 0h1m0 0h1m0 0h1m0 0h1m0 0h1m1 0h1m-10 1h1m0 0h1m0 0h1m1 0h1m0 0h1m0 0h1m0 0h1m0 0h1m0 0h1m-8 1h1m0 0h1m-2 1h1m0 0h1m1 0h1m1 0h1m0 0h1m-7 1h1m0 0h1m1 0h1m1 0h1m-4 1h1m0 0h1" stroke="#f0c820" stroke-width="1"/>
<path d="M337.9 1678.2V1781M279.2 1723.9H384.8" stroke="#3c3c3c" stroke-width="1.1"/>
<path d="M276.2 1781H279.2M279.2 1781V1784M276.2 1746.73H279.2M314.4 1781V1784M276.2 1712.47H279.2M349.6 1781V1784M276.2 1678.2H279.2M384.8 1781V1784" stroke="#000" stroke-width="0.9"/>
<path d="M279.2 1678.2V1781H384.8" stroke="#000" stroke-width="0.9" fill="none"/>
<text x="275.2" y="1783" class="s" text-anchor="end">10<tspan dy="-2" font-size="3.5">2</tspan></text>
<text x="281.2" y="1793" class="s" text-anchor="middle">10<tspan dy="-2" font-size="3.5">2</tspan></text>
<text x="275.2" y="1748.73" class="s" text-anchor="end">10<tspan dy="-2" font-size="3.5">3</tspan></text>
<text x="316.4" y="1793" class="s" text-anchor="middle">10<tspan dy="-2" font-size="3.5">3</tspan></text>
<text x="275.2" y="1714.47" class="s" text-anchor="end">10<tspan dy="-2" font-size="3.5">4</tspan></text>
<text x="351.6" y="1793" class="s" text-anchor="middle">10<tspan dy="-2" font-size="3.5">4</tspan></text>
<text x="275.2" y="1680.2" class="s" text-anchor="end">10<tspan dy="-2" font-size="3.5">5</tspan></text>
<text x="386.8" y="1793" class="s" text-anchor="middle">10<tspan dy="-2" font-size="3.5">5</tspan></text>
<text x="332" y="1802" class="s" text-anchor="middle">AnnexinV</text>
<text transform="translate(265.2 1729.6) rotate(-90)" class="s" text-anchor="middle">PI</text>
<text x="281" y="1687.2" class="s">Q3</text>
<text x="281" y="1694.7" class="s">23.4</text>
<text x="375.8" y="1687.2" class="s" text-anchor="end">Q2</text>
<text x="375.8" y="1694.7" class="s" text-anchor="end">7.99</text>
<text x="281" y="1768.5" class="s">Q4</text>
<text x="281" y="1776" class="s">60.9</text>
<text x="375.8" y="1768.5" class="s" text-anchor="end">Q1</text>
<text x="375.8" y="1776" class="s" text-anchor="end">7.66</text>
<text x="155.4" y="1831.8" class="t" font-size="29" text-anchor="middle">WT+Nec-1</text>
<rect x="104.3" y="1838.8" width="106" height="104" fill="#fff" stroke="#b4b4b4" stroke-width="0.8"/>
<ellipse transform="translate(132.92 1857.52) rotate(0)" rx="16.22" ry="14.14" fill="url(#u1)"/>
<ellipse transform="translate(130.8 1901.2) rotate(0)" rx="15.32" ry="19.45" fill="url(#u2)"/>
<ellipse transform="translate(188.04 1867.92) rotate(0)" rx="12.61" ry="13.26" fill="url(#u1)"/>
<ellipse transform="translate(182.74 1902.24) rotate(0)" rx="14.42" ry="17.68" fill="url(#u1)"/>
<ellipse transform="translate(133.98 1881.44) rotate(0)" rx="10.81" ry="10.61" fill="url(#u1)"/>
<path d="M117 1840.5h1m19 0h1m6 0h1m5 0h1m52 0h1m-62 1h1m7 0h1m2 0h1m-38 1h1m4 0h1m69 0h1m-83 1h1m4 0h1m55 0h1m14 0h1m-71 1h1m0 0h1m0 0h1m69 0h1m14 0h1m-96 1h1m98 0h1m-55 1h1m21 0h1m-19 1h1m1 0h1m-1 1h1m-6 1h1m6 0h1m15 0h1m11 0h1m-34 1h1m11 0h1m4 0h1m2 0h1m7 0h1m5 0h1m-80 1h1m58 0h1m12 0h1m8 0h1m0 0h1m13 0h1m-41 1h1m21 0h1m4 0h1m-37 1h1m7 0h1m4 0h1m1 0h1m2 0h1m5 0h1m16 0h1m4 0h1m-34 1h1m5 0h1m-19 1h1m7 0h1m7 0h1m29 0h1m-49 1h1m4 0h1m9 0h1m-64 1h1m48 0h1m43 0h1m-95 1h1m49 0h1m15 0h1m29 0h1m-97 1h1m52 0h1m41 1h1m0 0h1m-48 1h1m0 0h1m45 0h1m-96 1h1m62 0h1m-62 1h1m97 0h1m-101 1h1m1 1h1m44 0h1m-1 2h1m9 0h1m1 0h1m37 0h1m-52 1h1m3 0h1m3 0h1m5 0h1m-15 1h1m9 0h1m2 0h1m-12 1h1m-51 1h1m54 0h1m42 0h1m0 0h1m-94 1h1m45 0h1m0 0h1m9 1h1m0 1h1m33 0h1m-47 1h1m0 0h1m44 0h1m0 0h1m-97 1h1m2 0h1m44 0h1m10 0h1m34 0h1m-92 1h1m45 0h1m7 0h1m-58 1h1m55 0h1m-55 1h1m44 0h1m9 0h1m1 0h1m2 0h1m30 0h1m0 0h1m-38 1h1m-5 1h1m4 0h1m1 1h1m36 0h1m-51 1h1m3 0h1m37 0h1m-44 2h1m5 0h1m39 0h1m-47 1h1m4 1h1m2 1h1m35 0h1m2 0h1m-47 1h1m1 0h1m6 0h1m41 0h1m-102 2h1m53 1h1m1 0h1m-4 1h1m-1 1h1m0 0h1m42 0h1m-43 1h1m44 0h1m-48 2h1m45 0h1m2 0h1m-8 3h1m-1 1h1m4 0h1m-1 1h1m1 0h1m-6 2h1m-46 1h1m43 0h1m-46 1h1m3 0h1m-3 1h1m-2 2h1m0 0h1m-2 1h1m1 0h1m-55 1h1m51 0h1m0 0h1m0 0h1m38 1h1m2 0h1m-46 1h1m5 0h1m1 0h1m-58 1h1m93 0h1m-6 1h1m-43 1h1m9 0h1m31 0h1m0 0h1m-89 1h1m46 0h1m6 0h1m-55 1h1m44 0h1m11 0h1m-15 1h1m5 0h1m1 0h1m2 0h1m34 0h1m3 0h1m-39 1h1m4 0h1m-64 1h1m0 0h1m47 0h1m11 0h1m4 0h1m0 0h1m16 0h1m5 0h1m-39 1h1m10 0h1m9 0h1m6 0h1m1 0h1m-83 1h1m1 0h1m60 0h1m7 0h1m0 0h1m-66 1h1m34 0h1m1 0h1m5 0h1m29 0h1m4 0h1m-84 1h1m3 0h1m55 0h1m-20 1h1m21 0h1m32 0h1m-57 1h1m0 0h1m4 0h1m28 0h1m4 0h1m-8 1h1m8 0h1m0 0h1m3 0h1m-87 1h1m1 0h1m35 0h1m0 0h1m33 0h1m12 0h1m-86 1h1m48 0h1m12 0h1m3 0h1m14 0h1m-78 1h1m48 0h1m32 0h1m-81 1h1m50 0h1m26 0h1m-30 1h1m-20 1h1m0 0h1m28 0h1m-62 1h1m31 0h1m1 0h1m5 0h1m9 0h1m-21 1h1m4 0h1m24 0h1m-31 1h1m0 1h1m5 0h1m22 0h1m-63 1h1m7 0h1m70 0h1m-80 1h1m2 0h1m32 0h1m30 0h1m0 0h1" stroke="#8c98ff" stroke-width="1"/>
<path d="M124 1841.5h1m-1 1h1m3 0h1m1 0h1m0 0h1m0 1h1m8 0h1m-23 1h1m9 0h1m4 0h1m-16 1h1m15 0h1m10 0h1m-22 1h1m0 0h1m19 0h1m-31 1h1m6 0h1m22 0h1m0 0h1m-32 1h1m0 0h1m25 0h1m2 0h1m1 0h1m-34 1h1m1 0h1m0 0h1m27 0h1m-34 1h1m33 0h1m0 0h1m2 0h1m-41 2h1m0 0h1m2 0h1m2 0h1m28 0h1m2 0h1m-34 1h1m30 0h1m3 0h1m-40 1h1m1 0h1m32 0h1m5 0h1m26 0h1m1 0h1m5 0h1m-42 1h1m0 0h1m32 0h1m3 0h1m-73 1h1m34 0h1m34 0h1m-71 1h1m1 0h1m32 0h1m3 0h1m21 0h1m3 0h1m3 0h1m2 0h1m4 0h1m1 0h1m-44 1h1m0 0h1m29 0h1m0 0h1m11 0h1m0 0h1m2 1h1m0 0h1m-86 1h1m38 0h1m19 0h1m21 0h1m1 0h1m-87 1h1m3 0h1m33 0h1m26 0h1m1 0h1m20 0h1m1 0h1m-91 1h1m2 0h1m34 0h1m28 0h1m18 0h1m-87 1h1m1 0h1m1 0h1m33 0h1m2 0h1m19 0h1m4 0h1m20 0h1m-82 1h1m33 0h1m48 0h1m0 0h1m-91 1h1m6 0h1m55 0h1m0 0h1m-64 1h1m1 0h1m1 0h1m0 0h1m29 0h1m28 0h1m25 0h1m0 0h1m-88 1h1m29 0h1m1 0h1m2 0h1m24 0h1m-64 1h1m0 0h1m3 0h1m28 0h1m4 0h1m19 0h1m3 0h1m26 0h1m-91 1h1m7 0h1m29 0h1m20 0h1m1 0h1m25 0h1m-86 1h1m1 0h1m2 0h1m1 0h1m48 0h1m0 0h1m3 0h1m26 0h1m-89 1h1m2 0h1m1 0h1m1 0h1m27 0h1m21 0h1m25 0h1m2 0h1m-85 1h1m4 0h1m20 0h1m0 0h1m0 0h1m0 0h1m2 0h1m26 0h1m23 0h1m-86 1h1m5 0h1m23 0h1m27 0h1m26 0h1m0 0h1m-84 1h1m2 0h1m23 0h1m3 0h1m0 0h1m20 0h1m6 0h1m-58 1h1m28 0h1m23 0h1m0 0h1m20 0h1m4 0h1m-89 1h1m6 0h1m26 0h1m29 0h1m18 0h1m4 0h1m-52 1h1m26 0h1m16 0h1m2 0h1m2 0h1m-87 1h1m32 0h1m1 0h1m0 0h1m27 0h1m13 0h1m0 0h1m3 0h1m-84 1h1m0 0h1m2 0h1m27 0h1m1 0h1m1 0h1m25 0h1m4 0h1m0 0h1m7 0h1m1 0h1m-17 1h1m2 0h1m2 0h1m4 0h1m1 0h1m3 0h1m4 0h1m-88 1h1m2 0h1m2 0h1m35 0h1m21 0h1m11 0h1m2 0h1m1 0h1m0 0h1m4 0h1m-85 1h1m0 0h1m0 0h1m32 0h1m0 0h1m24 0h1m3 0h1m3 0h1m7 0h1m2 0h1m3 0h1m-48 1h1m0 0h1m22 0h1m0 0h1m0 0h1m1 0h1m4 0h1m6 0h1m-79 1h1m36 0h1m30 0h1m-67 1h1m33 0h1m2 0h1m1 0h1m17 0h1m8 0h1m4 0h1m1 0h1m-41 1h1m0 0h1m22 0h1m12 0h1m1 0h1m2 0h1m1 0h1m0 0h1m0 0h1m0 0h1m0 0h1m-86 1h1m36 0h1m0 0h1m20 0h1m5 0h1m2 0h1m0 0h1m2 0h1m7 0h1m-80 1h1m40 0h1m14 0h1m0 0h1m5 0h1m2 0h1m9 0h1m1 0h1m1 0h1m4 0h1m-87 1h1m0 0h1m35 0h1m0 0h1m2 0h1m2 0h1m16 0h1m1 0h1m15 0h1m0 0h1m0 0h1m0 0h1m2 0h1m1 0h1m-89 1h1m1 0h1m0 0h1m36 0h1m17 0h1m5 0h1m15 0h1m-80 1h1m39 0h1m20 0h1m-65 1h1m41 0h1m0 0h1m20 0h1m19 0h1m1 0h1m1 0h1m1 0h1m-91 1h1m3 0h1m36 0h1m1 0h1m2 0h1m12 0h1m24 0h1m0 0h1m-84 1h1m0 0h1m38 0h1m18 0h1m27 0h1m-48 1h1m0 0h1m2 0h1m12 0h1m27 0h1m0 0h1m1 0h1m-91 1h1m2 0h1m45 0h1m10 0h1m1 0h1m-64 1h1m0 0h1m1 0h1m54 0h1m3 0h1m24 0h1m3 0h1m-49 1h1m0 0h1m2 0h1m8 0h1m1 0h1m1 0h1m27 0h1m0 0h1m-91 1h1m3 0h1m0 0h1m38 0h1m3 0h1m1 0h1m5 0h1m3 0h1m-57 1h1m0 0h1m41 0h1m15 0h1m26 0h1m2 0h1m0 0h1m-90 1h1m39 0h1m7 0h1m6 0h1m0 0h1m1 0h1m25 0h1m4 0h1m-94 1h1m42 0h1m7 0h1m1 0h1m1 0h1m3 0h1m0 0h1m1 0h1m28 0h1m0 0h1m-48 1h1m9 0h1m34 0h1m1 0h1m0 0h1m-95 1h1m3 1h1m0 0h1m40 0h1m1 0h1m10 0h1m4 0h1m29 0h1m-90 1h1m0 0h1m36 0h1m2 0h1m13 0h1m3 0h1m27 0h1m1 0h1m-92 1h1m42 0h1m10 0h1m32 0h1m2 0h1m-91 1h1m0 0h1m39 0h1m16 0h1m3 0h1m-24 1h1m19 0h1m2 0h1m21 0h1m1 0h1m-86 1h1m1 0h1m38 0h1m18 0h1m21 0h1m5 0h1m-91 1h1m0 0h1m3 0h1m35 0h1m19 0h1m22 0h1m-84 1h1m1 0h1m38 0h1m18 0h1m3 0h1m0 0h1m16 0h1m2 0h1m-46 1h1m2 0h1m18 0h1m3 0h1m13 0h1m1 0h1m3 0h1m-86 1h1m4 0h1m33 0h1m0 0h1m16 0h1m6 0h1m12 0h1m2 0h1m5 0h1m-85 1h1m33 0h1m5 0h1m17 0h1m1 0h1m2 0h1m12 0h1m5 0h1m-82 1h1m34 0h1m0 0h1m0 0h1m25 0h1m4 0h1m0 0h1m7 0h1m1 0h1m-81 1h1m0 0h1m0 0h1m2 0h1m25 0h1m2 0h1m26 0h1m5 0h1m0 0h1m5 0h1m2 0h1m-17 1h1m-58 1h1m32 0h1m22 0h1m-32 1h1m0 0h1m6 0h1m-36 1h1m28 0h1m1 0h1m1 0h1m36 0h1m-71 1h1m7 0h1m18 0h1m-25 1h1m1 0h1m21 0h1m1 0h1m0 0h1m-30 1h1m0 0h1m3 0h1m20 0h1m0 0h1m0 0h1m3 0h1m-28 1h1m0 0h1m2 0h1m15 0h1m0 0h1m0 0h1m1 0h1m-3 1h1m-19 1h1m22 0h1m-28 1h1m22 0h1m-27 1h1m0 0h1m2 0h1m1 0h1m23 0h1m-28 1h1m1 0h1m21 0h1m-28 1h1m3 0h1m1 0h1m20 0h1m2 0h1m-30 1h1m1 0h1m3 0h1m17 0h1m0 0h1m-22 1h1m1 0h1m15 0h1m-21 1h1m1 0h1m0 0h1m0 0h1m20 0h1m-23 1h1m15 0h1m0 0h1m3 1h1m-25 1h1m0 0h1m2 0h1m0 0h1m1 0h1m11 0h1m-19 1h1m9 0h1m3 0h1m0 0h1m0 0h1m2 0h1m1 0h1m-17 1h1m1 0h1m8 0h1m4 0h1m-17 1h1m2 0h1m1 0h1m6 0h1" stroke="#6472fa" stroke-width="1"/>
<path d="M133 1845.5h1m-4 1h1m0 0h1m0 0h1m2 0h1m-11 1h1m2 0h1m7 0h1m4 0h1m-12 1h1m0 0h1m0 0h1m0 0h1m0 0h1m0 0h1m1 0h1m0 0h1m3 0h1m-16 1h1m1 0h1m7 0h1m1 0h1m0 0h1m-17 1h1m0 0h1m0 0h1m12 0h1m0 0h1m0 0h1m1 0h1m0 0h1m-25 1h1m20 0h1m0 0h1m2 0h1m0 0h1m-5 1h1m0 0h1m0 0h1m0 0h1m-28 1h1m1 0h1m1 0h1m0 0h1m18 0h1m0 0h1m3 0h1m-29 1h1m25 0h1m-3 1h1m-27 1h1m0 0h1m2 1h1m22 0h1m2 0h1m0 0h1m-32 1h1m2 0h1m0 0h1m22 0h1m3 0h1m36 0h1m3 0h1m0 0h1m-72 1h1m24 0h1m38 0h1m4 0h1m1 0h1m1 0h1m-75 1h1m63 0h1m0 0h1m0 0h1m1 0h1m2 0h1m2 0h1m0 0h1m-75 1h1m0 0h1m1 0h1m22 0h1m34 0h1m1 0h1m1 0h1m2 0h1m4 0h1m1 0h1m-73 1h1m23 0h1m33 0h1m1 0h1m1 0h1m6 0h1m0 0h1m0 0h1m2 0h1m-79 1h1m0 0h1m2 0h1m20 0h1m0 0h1m0 0h1m0 0h1m47 0h1m1 0h1m-77 1h1m1 0h1m0 0h1m0 0h1m19 0h1m1 0h1m32 0h1m1 0h1m0 0h1m10 0h1m1 0h1m1 0h1m-76 1h1m16 0h1m1 0h1m36 0h1m2 0h1m13 0h1m0 0h1m-74 1h1m0 0h1m0 0h1m16 0h1m1 0h1m32 0h1m0 0h1m1 0h1m13 0h1m0 0h1m0 0h1m1 0h1m-76 1h1m0 0h1m0 0h1m1 0h1m0 0h1m7 0h1m3 0h1m1 0h1m35 0h1m2 0h1m13 0h1m0 0h1m0 0h1m0 0h1m-77 1h1m7 0h1m0 0h1m2 0h1m1 0h1m0 0h1m2 0h1m0 0h1m0 0h1m38 0h1m13 0h1m0 0h1m-75 1h1m2 0h1m0 0h1m1 0h1m0 0h1m1 0h1m0 0h1m0 0h1m3 0h1m0 0h1m0 0h1m1 0h1m38 0h1m14 0h1m0 0h1m1 0h1m-75 1h1m3 0h1m2 0h1m5 0h1m1 0h1m0 0h1m0 0h1m0 0h1m55 0h1m-76 1h1m0 0h1m0 0h1m2 0h1m3 0h1m0 0h1m0 0h1m0 0h1m0 0h1m0 0h1m1 0h1m1 0h1m35 0h1m0 0h1m0 0h1m2 0h1m10 0h1m0 0h1m0 0h1m-72 1h1m1 0h1m0 0h1m0 0h1m7 0h1m2 0h1m2 0h1m36 0h1m2 0h1m9 0h1m0 0h1m0 0h1m0 0h1m-71 1h1m0 0h1m0 0h1m0 0h1m8 0h1m1 0h1m0 0h1m0 0h1m0 0h1m0 0h1m36 0h1m0 0h1m1 0h1m0 0h1m-46 1h1m0 0h1m1 0h1m37 0h1m0 0h1m0 0h1m2 0h1m0 0h1m0 0h1m1 0h1m1 0h1m3 0h1m0 0h1m-73 1h1m1 0h1m17 0h1m34 0h1m2 0h1m1 0h1m1 0h1m7 0h1m-54 1h1m0 0h1m1 0h1m37 0h1m1 0h1m1 0h1m0 0h1m4 0h1m0 0h1m-73 1h1m2 0h1m16 0h1m2 0h1m36 0h1m0 0h1m0 0h1m2 0h1m4 0h1m0 0h1m0 0h1m-73 1h1m1 0h1m0 0h1m17 0h1m2 0h1m39 0h1m2 0h1m0 0h1m1 0h1m-70 1h1m0 0h1m18 0h1m0 0h1m41 0h1m-66 1h1m22 0h1m-23 1h1m0 0h1m20 0h1m1 0h1m-25 2h1m-5 1h1m0 0h1m25 0h1m2 0h1m-30 1h1m0 0h1m26 0h1m0 0h1m-32 1h1m0 0h1m1 0h1m26 0h1m-32 1h1m0 0h1m0 0h1m0 0h1m0 0h1m24 0h1m2 0h1m-31 1h1m26 0h1m1 0h1m39 0h1m-72 1h1m29 0h1m1 0h1m33 0h1m0 0h1m0 0h1m-69 1h1m30 0h1m31 0h1m0 0h1m1 0h1m3 0h1m0 0h1m1 0h1m0 0h1m-76 1h1m1 0h1m29 0h1m0 0h1m28 0h1m3 0h1m0 0h1m2 0h1m1 0h1m-42 1h1m30 0h1m0 0h1m0 0h1m2 0h1m1 0h1m0 0h1m0 0h1m1 0h1m1 0h1m-75 1h1m0 0h1m29 0h1m26 0h1m1 0h1m0 0h1m0 0h1m0 0h1m0 0h1m1 0h1m3 0h1m0 0h1m0 0h1m0 0h1m0 0h1m0 0h1m-78 1h1m0 0h1m0 0h1m31 0h1m0 0h1m23 0h1m12 0h1m1 0h1m0 0h1m0 0h1m0 0h1m-79 1h1m33 0h1m0 0h1m1 0h1m23 0h1m0 0h1m2 0h1m0 0h1m7 0h1m0 0h1m1 0h1m0 0h1m1 0h1m-79 1h1m0 0h1m33 0h1m23 0h1m2 0h1m12 0h1m3 0h1m-81 1h1m1 0h1m31 0h1m0 0h1m26 0h1m0 0h1m12 0h1m0 0h1m0 0h1m-80 1h1m0 0h1m32 0h1m1 0h1m0 0h1m23 0h1m0 0h1m14 0h1m1 0h1m2 0h1m-81 1h1m31 0h1m1 0h1m0 0h1m20 0h1m1 0h1m0 0h1m-61 1h1m0 0h1m31 0h1m1 0h1m22 0h1m18 0h1m0 0h1m0 0h1m-47 1h1m0 0h1m1 0h1m21 0h1m2 0h1m16 0h1m1 0h1m0 0h1m-49 1h1m0 0h1m0 0h1m0 0h1m24 0h1m0 0h1m-62 1h1m33 0h1m22 0h1m18 0h1m0 0h1m0 0h1m-78 1h1m30 0h1m0 0h1m0 0h1m0 0h1m22 0h1m17 0h1m-77 1h1m0 0h1m30 0h1m26 0h1m0 0h1m-60 1h1m30 0h1m26 0h1m0 0h1m1 0h1m12 0h1m2 0h1m-80 1h1m2 0h1m28 0h1m1 0h1m23 0h1m1 0h1m2 0h1m11 0h1m0 0h1m0 0h1m1 0h1m-78 1h1m29 0h1m0 0h1m26 0h1m0 0h1m2 0h1m0 0h1m9 0h1m1 0h1m0 0h1m0 0h1m-79 1h1m1 0h1m28 0h1m0 0h1m26 0h1m2 0h1m2 0h1m0 0h1m5 0h1m0 0h1m1 0h1m1 0h1m-48 1h1m2 0h1m27 0h1m0 0h1m3 0h1m2 0h1m0 0h1m0 0h1m1 0h1m0 0h1m0 0h1m1 0h1m-78 1h1m0 0h1m1 0h1m25 0h1m1 0h1m28 0h1m5 0h1m1 0h1m0 0h1m3 0h1m2 0h1m-73 1h1m25 0h1m0 0h1m0 0h1m31 0h1m1 0h1m1 0h1m-66 1h1m25 0h1m0 0h1m33 0h1m0 0h1m-64 1h1m2 0h1m22 0h1m2 0h1m32 0h1m0 0h1m0 0h1m1 0h1m2 0h1m-69 1h1m23 0h1m1 0h1m-24 1h1m0 0h1m17 0h1m0 0h1m0 0h1m1 0h1m-21 1h1m0 0h1m12 0h1m0 0h1m0 0h1m0 0h1m1 0h1m-23 1h1m2 0h1m2 0h1m9 0h1m0 0h1m1 0h1m-19 1h1m1 0h1m0 0h1m0 0h1m0 0h1m0 0h1m4 0h1m0 0h1m-13 1h1m3 0h1m0 0h1m1 0h1m1 0h1m1 0h1m0 0h1m1 0h1m0 0h1m0 0h1m-13 1h1m0 0h1m0 0h1m1 0h1m0 0h1m0 0h1m0 0h1m0 0h1m2 0h1m-12 2h1m0 0h1m0 0h1m1 0h1m2 0h1m0 0h1m1 0h1m0 0h1m2 0h1m-12 1h1m1 0h1m3 0h1m0 0h1m1 0h1m-13 1h1m0 0h1m1 0h1m0 0h1m1 0h1m1 0h1m5 0h1m-12 1h1m0 0h1m2 0h1m-6 1h1m0 0h1m0 0h1m1 0h1m2 0h1m0 0h1m-11 1h1m0 0h1m2 0h1m0 0h1m0 0h1m1 0h1m1 0h1m1 0h1m1 0h1m0 0h1m-17 1h1m1 0h1m0 0h1m1 0h1m3 0h1m3 0h1m0 0h1m0 0h1m0 0h1m-11 1h1m0 0h1m1 0h1m-10 1h1m3 0h1m0 0h1m7 0h1m1 0h1m0 0h1m-16 1h1m1 0h1m1 0h1m0 0h1m2 0h1m2 0h1m0 0h1m0 0h1m0 0h1m0 0h1m-15 1h1m2 0h1m0 0h1m0 0h1m0 0h1m2 0h1m1 0h1m0 0h1m0 0h1m-14 1h1m2 0h1m1 0h1m0 0h1m3 0h1m1 0h1m-12 1h1m3 0h1m0 0h1m0 0h1m3 0h1m0 0h1m-3 1h1m0 0h1m-8 1h1m2 0h1" stroke="#4658f0" stroke-width="1"/>
<path d="M130 1849.5h1m0 0h1m2 0h1m0 0h1m-8 1h1m1 0h1m0 0h1m0 0h1m0 0h1m1 0h1m0 0h1m1 0h1m-7 1h1m0 0h1m3 0h1m1 0h1m-15 1h1m4 0h1m2 0h1m1 0h1m2 0h1m0 0h1m-15 1h1m1 0h1m0 0h1m7 0h1m0 0h1m0 0h1m0 0h1m1 0h1m-19 1h1m14 0h1m0 0h1m0 0h1m0 0h1m-19 1h1m2 0h1m12 0h1m0 0h1m1 0h1m-21 1h1m1 0h1m0 0h1m14 0h1m0 0h1m1 0h1m-22 1h1m1 0h1m0 0h1m0 0h1m13 0h1m0 0h1m0 0h1m-21 1h1m1 0h1m0 0h1m0 0h1m-5 1h1m1 0h1m1 0h1m12 0h1m1 0h1m0 0h1m0 0h1m-18 1h1m12 0h1m1 0h1m-19 1h1m1 0h1m1 0h1m10 0h1m0 0h1m1 0h1m0 0h1m-19 1h1m0 0h1m1 0h1m0 0h1m0 0h1m6 0h1m0 0h1m1 0h1m0 0h1m0 0h1m46 0h1m0 0h1m-66 1h1m0 0h1m0 0h1m5 0h1m0 0h1m0 0h1m0 0h1m1 0h1m0 0h1m46 0h1m0 0h1m2 0h1m0 0h1m-64 1h1m0 0h1m0 0h1m0 0h1m1 0h1m3 0h1m0 0h1m1 0h1m44 0h1m3 0h1m-63 1h1m0 0h1m1 0h1m0 0h1m1 0h1m0 0h1m1 0h1m0 0h1m0 0h1m45 0h1m4 0h1m0 0h1m0 0h1m-61 1h1m0 0h1m0 0h1m1 0h1m0 0h1m49 0h1m1 0h1m0 0h1m0 0h1m0 0h1m-9 1h1m0 0h1m0 0h1m1 0h1m0 0h1m1 0h1m1 0h1m1 0h1m-12 1h1m1 0h1m2 0h1m4 0h1m-11 1h1m3 0h1m1 0h1m2 0h1m1 0h1m-12 1h1m0 0h1m0 0h1m0 0h1m1 0h1m0 0h1m2 0h1m1 0h1m-11 1h1m0 0h1m5 0h1m0 0h1m0 0h1m-62 1h1m2 0h1m48 0h1m0 0h1m1 0h1m0 0h1m3 0h1m-62 1h1m5 0h1m48 0h1m4 0h1m-63 1h1m1 0h1m0 0h1m0 0h1m0 0h1m1 0h1m0 0h1m0 0h1m0 0h1m-11 1h1m0 0h1m3 0h1m0 0h1m4 0h1m-14 1h1m0 0h1m1 0h1m5 0h1m0 0h1m0 0h1m1 0h1m-11 1h1m7 0h1m0 0h1m0 0h1m0 0h1m-16 1h1m12 0h1m0 0h1m-16 1h1m0 0h1m0 0h1m12 0h1m0 0h1m0 0h1m-19 1h1m0 0h1m1 0h1m14 0h1m0 0h1m-19 1h1m15 0h1m-19 1h1m1 0h1m16 0h1m0 0h1m-19 1h1m16 0h1m0 0h1m0 0h1m-21 2h1m17 0h1m0 0h1m0 0h1m-23 1h1m19 0h1m0 0h1m0 0h1m-22 1h1m19 0h1m-24 1h1m0 0h1m0 0h1m-2 1h1m21 0h1m0 0h1m-26 1h1m0 0h1m23 0h1m0 0h1m-27 1h1m-2 1h1m24 0h1m0 0h1m-25 1h1m24 0h1m-29 1h1m26 0h1m0 0h1m37 0h1m-66 1h1m0 0h1m25 0h1m0 0h1m35 0h1m1 0h1m0 0h1m0 0h1m-70 1h1m0 0h1m25 0h1m0 0h1m0 0h1m34 0h1m0 0h1m1 0h1m-67 1h1m26 0h1m33 0h1m0 0h1m2 0h1m0 0h1m-68 1h1m0 0h1m58 0h1m2 0h1m1 0h1m0 0h1m0 0h1m4 0h1m-73 1h1m27 0h1m31 0h1m1 0h1m0 0h1m0 0h1m0 0h1m4 0h1m1 0h1m-73 1h1m28 0h1m30 0h1m0 0h1m0 0h1m2 0h1m0 0h1m1 0h1m3 0h1m0 0h1m-75 1h1m0 0h1m0 0h1m26 0h1m0 0h1m31 0h1m1 0h1m2 0h1m1 0h1m0 0h1m1 0h1m1 0h1m-73 1h1m26 0h1m0 0h1m34 0h1m0 0h1m0 0h1m4 0h1m0 0h1m-45 1h1m34 0h1m1 0h1m0 0h1m0 0h1m2 0h1m1 0h1m-73 1h1m0 0h1m25 0h1m0 0h1m31 0h1m4 0h1m1 0h1m2 0h1m1 0h1m-73 1h1m0 0h1m26 0h1m0 0h1m31 0h1m2 0h1m1 0h1m3 0h1m0 0h1m0 0h1m-73 1h1m1 0h1m25 0h1m32 0h1m0 0h1m1 0h1m1 0h1m1 0h1m1 0h1m-45 1h1m1 0h1m33 0h1m1 0h1m0 0h1m1 0h1m0 0h1m2 0h1m-70 1h1m0 0h1m22 0h1m36 0h1m0 0h1m2 0h1m2 0h1m-68 1h1m22 0h1m38 0h1m0 0h1m-65 1h1m24 0h1m-25 1h1m20 0h1m0 0h1m0 0h1m-24 1h1m1 0h1m0 0h1m16 0h1m1 0h1m0 0h1m-22 1h1m16 0h1m2 0h1m-20 1h1m14 0h1m0 0h1m1 0h1m-18 1h1m0 0h1m1 0h1m0 0h1m5 0h1m0 0h1m3 0h1m0 0h1m-17 1h1m0 0h1m12 0h1m-13 1h1m2 0h1m0 0h1m0 0h1m2 0h1m1 0h1m0 0h1m-7 1h1m0 0h1" stroke="#2c6ee2" stroke-width="1"/>
<path d="M132 1853.5h1m2 0h1m-8 1h1m1 0h1m0 0h1m0 0h1m2 0h1m0 0h1m-9 1h1m0 0h1m0 0h1m2 0h1m0 0h1m0 0h1m0 0h1m0 0h1m0 0h1m-11 1h1m0 0h1m1 0h1m2 0h1m0 0h1m2 0h1m-11 1h1m1 0h1m1 0h1m1 0h1m1 0h1m0 0h1m0 0h1m-12 1h1m0 0h1m1 0h1m1 0h1m0 0h1m2 0h1m1 0h1m-12 1h1m0 0h1m4 0h1m0 0h1m0 0h1m0 0h1m0 0h1m0 0h1m-12 1h1m2 0h1m0 0h1m1 0h1m0 0h1m0 0h1m0 0h1m0 0h1m-9 1h1m0 0h1m1 0h1m3 0h1m-5 1h1m0 0h1m0 0h1m-2 14h1m0 0h1m-4 1h1m0 0h1m0 0h1m0 0h1m-6 1h1m0 0h1m1 0h1m0 0h1m-6 1h1m2 0h1m3 0h1m0 0h1m-9 1h1m0 0h1m9 0h1m-14 1h1m0 0h1m10 0h1m0 0h1m-15 1h1m0 0h1m0 0h1m10 0h1m-13 1h1m0 0h1m11 0h1m-16 1h1m14 0h1m0 0h1m-2 1h1m0 1h1m-2 1h1m0 0h1m0 0h1m-20 1h1m0 0h1m15 0h1m0 0h1m-18 1h1m15 0h1m0 0h1m0 0h1m-20 1h1m0 0h1m16 0h1m-21 1h1m1 0h1m-3 1h1m0 0h1m19 1h1m-22 1h1m20 0h1m0 0h1m-23 1h1m-2 1h1m0 0h1m-3 1h1m0 0h1m-2 1h1m0 0h1m-2 1h1m0 0h1m22 0h1m0 0h1m-25 1h1m22 0h1m-1 1h1m0 0h1m-26 1h1m0 0h1m22 0h1m0 0h1m-26 1h1m0 0h1m21 0h1m1 0h1m-26 1h1m0 0h1m0 1h1m21 0h1m-24 1h1m20 0h1m0 0h1m0 0h1m-24 1h1m0 0h1m0 0h1m19 0h1m-21 1h1m17 0h1m0 0h1m-20 1h1m0 0h1m16 0h1m0 0h1m-18 1h1m15 0h1m-16 1h1m11 0h1m0 0h1m0 0h1m-14 1h1m0 0h1m8 0h1m1 0h1m0 0h1m-15 1h1m1 0h1m0 0h1m1 0h1m0 0h1m1 0h1m0 0h1m1 0h1m0 0h1m-11 1h1m0 0h1m0 0h1m0 0h1m0 0h1m1 0h1m0 0h1m-5 1h1m0 0h1" stroke="#20a4c4" stroke-width="1"/>
<path d="M133 1879.5h1m-4 1h1m0 0h1m1 0h1m0 0h1m0 0h1m-6 1h1m0 0h1m0 0h1m3 0h1m0 0h1m-9 1h1m0 0h1m0 0h1m0 0h1m1 0h1m0 0h1m-7 1h1m1 0h1m0 0h1m2 0h1m-8 1h1m3 0h1m0 0h1m0 0h1m2 0h1m-11 1h1m0 0h1m0 0h1m2 0h1m1 0h1m1 0h1m0 0h1m0 0h1m-13 1h1m0 0h1m0 0h1m0 0h1m0 0h1m0 0h1m0 0h1m0 0h1m0 0h1m1 0h1m-12 1h1m1 0h1m0 0h1m0 0h1m1 0h1m1 0h1m0 0h1m1 0h1m0 0h1m0 0h1m-13 1h1m0 0h1m0 0h1m0 0h1m4 0h1m0 0h1m0 0h1m0 0h1m0 0h1m-15 1h1m3 0h1m6 0h1m1 0h1m-13 1h1m1 0h1m7 0h1m0 0h1m0 0h1m0 0h1m-13 1h1m9 0h1m2 0h1m-17 1h1m0 0h1m0 0h1m0 0h1m10 0h1m0 0h1m-17 1h1m0 0h1m0 0h1m0 0h1m11 0h1m0 0h1m0 0h1m-18 1h1m0 0h1m0 0h1m12 0h1m-16 1h1m1 0h1m12 0h1m1 0h1m0 0h1m-20 1h1m0 0h1m0 0h1m14 0h1m-19 1h1m0 0h1m1 0h1m15 0h1m0 0h1m-20 1h1m0 0h1m15 0h1m0 0h1m0 0h1m-21 1h1m0 0h1m17 0h1m0 0h1m-21 1h1m0 0h1m17 0h1m-20 1h1m0 0h1m18 0h1m-19 1h1m15 0h1m0 0h1m0 0h1m-2 1h1m-19 1h1m16 0h1m0 0h1m0 0h1m-20 1h1m1 0h1m13 0h1m0 0h1m0 0h1m0 0h1m-19 1h1m1 0h1m12 0h1m-16 1h1m0 0h1m0 0h1m0 0h1m11 0h1m0 0h1m-17 1h1m0 0h1m13 0h1m0 0h1m-16 1h1m0 0h1m0 0h1m0 0h1m0 0h1m0 0h1m5 0h1m0 0h1m0 0h1m0 0h1m0 0h1m-15 1h1m1 0h1m0 0h1m0 0h1m0 0h1m1 0h1m0 0h1m2 0h1m0 0h1m0 0h1m-13 1h1m3 0h1m0 0h1m3 0h1m-7 1h1m0 0h1m1 0h1m0 0h1m0 0h1m0 0h1" stroke="#34c664" stroke-width="1"/>
<path d="M132 1887.5h1m-2 1h1m0 0h1m-3 1h1m0 0h1m0 0h1m0 0h1m0 0h1m-7 1h1m1 0h1m0 0h1m1 0h1m0 0h1m-7 1h1m0 0h1m0 0h1m0 0h1m0 0h1m0 0h1m0 0h1m-8 1h1m0 0h1m1 0h1m2 0h1m1 0h1m-10 1h1m0 0h1m0 0h1m0 0h1m0 0h1m0 0h1m0 0h1m0 0h1m0 0h1m0 0h1m0 0h1m-11 1h1m1 0h1m0 0h1m0 0h1m0 0h1m0 0h1m0 0h1m0 0h1m1 0h1m-9 1h1m3 0h1m0 0h1m0 0h1m0 0h1m-12 1h1m0 0h1m0 0h1m0 0h1m0 0h1m4 0h1m0 0h1m0 0h1m0 0h1m0 0h1m-13 1h1m0 0h1m0 0h1m6 0h1m0 0h1m0 0h1m0 0h1m-15 1h1m0 1h1m1 0h1m8 0h1m0 0h1m0 0h1m-14 1h1m0 0h1m0 0h1m8 0h1m0 0h1m0 0h1m-15 1h1m0 0h1m0 0h1m0 0h1m8 0h1m0 0h1m0 0h1m0 0h1m-16 1h1m1 0h1m0 0h1m8 0h1m0 0h1m0 0h1m-15 1h1m0 0h1m0 0h1m8 0h1m0 0h1m0 0h1m0 0h1m-13 1h1m0 0h1m0 0h1m6 0h1m0 0h1m0 0h1m0 0h1m-14 1h1m0 0h1m0 0h1m0 0h1m0 0h1m0 0h1m2 0h1m0 0h1m0 0h1m-10 1h1m0 0h1m0 0h1m1 0h1m0 0h1m0 0h1m0 0h1m0 0h1m0 0h1m0 0h1m0 0h1m-11 1h1m0 0h1m1 0h1m0 0h1m0 0h1m0 0h1m0 0h1m0 0h1m0 0h1m-9 1h1m0 0h1m0 0h1m0 0h1m0 0h1m0 0h1m0 0h1m0 0h1m-6 1h1m0 0h1m0 0h1" stroke="#a8e030" stroke-width="1"/>
<path d="M130 1895.5h1m0 0h1m-3 1h1m0 0h1m0 0h1m-4 1h1m1 0h1m0 0h1m0 0h1m0 0h1m-7 1h1m0 0h1m0 0h1m1 0h1m0 0h1m0 0h1m0 0h1m-8 1h1m0 0h1m0 0h1m0 0h1m0 0h1m0 0h1m0 0h1m-5 1h1m1 0h1m0 0h1m0 0h1m-6 1h1m0 0h1m0 0h1m1 0h1m0 0h1m0 0h1m-8 1h1m1 0h1m0 0h1m1 0h1m0 0h1m0 0h1m-7 1h1m0 0h1m0 0h1m0 0h1m1 0h1m-6 1h1m0 0h1m2 0h1m0 0h1m-3 1h1" stroke="#f0c820" stroke-width="1"/>
<path d="M163 1838.8V1942.8M104.3 1884.7H210.3" stroke="#3c3c3c" stroke-width="1.1"/>
<path d="M101.3 1942.8H104.3M104.3 1942.8V1945.8M101.3 1908.13H104.3M139.63 1942.8V1945.8M101.3 1873.47H104.3M174.97 1942.8V1945.8M101.3 1838.8H104.3M210.3 1942.8V1945.8" stroke="#000" stroke-width="0.9"/>
<path d="M104.3 1838.8V1942.8H210.3" stroke="#000" stroke-width="0.9" fill="none"/>
<text x="100.3" y="1944.8" class="s" text-anchor="end">10<tspan dy="-2" font-size="3.5">2</tspan></text>
<text x="106.3" y="1954.8" class="s" text-anchor="middle">10<tspan dy="-2" font-size="3.5">2</tspan></text>
<text x="100.3" y="1910.13" class="s" text-anchor="end">10<tspan dy="-2" font-size="3.5">3</tspan></text>
<text x="141.63" y="1954.8" class="s" text-anchor="middle">10<tspan dy="-2" font-size="3.5">3</tspan></text>
<text x="100.3" y="1875.47" class="s" text-anchor="end">10<tspan dy="-2" font-size="3.5">4</tspan></text>
<text x="176.97" y="1954.8" class="s" text-anchor="middle">10<tspan dy="-2" font-size="3.5">4</tspan></text>
<text x="100.3" y="1840.8" class="s" text-anchor="end">10<tspan dy="-2" font-size="3.5">5</tspan></text>
<text x="212.3" y="1954.8" class="s" text-anchor="middle">10<tspan dy="-2" font-size="3.5">5</tspan></text>
<text x="157.3" y="1963.8" class="s" text-anchor="middle">AnnexinV</text>
<text transform="translate(90.3 1890.8) rotate(-90)" class="s" text-anchor="middle">PI</text>
<text x="106.1" y="1847.8" class="s">Q3</text>
<text x="106.1" y="1855.3" class="s">12.9</text>
<text x="201.3" y="1847.8" class="s" text-anchor="end">Q2</text>
<text x="201.3" y="1855.3" class="s" text-anchor="end">6.29</text>
<text x="106.1" y="1930.3" class="s">Q4</text>
<text x="106.1" y="1937.8" class="s">72.2</text>
<text x="201.3" y="1930.3" class="s" text-anchor="end">Q1</text>
<text x="201.3" y="1937.8" class="s" text-anchor="end">8.57</text>
<text x="332.9" y="1831.8" class="t" font-size="29" text-anchor="middle">SP1 KO+SP1</text>
<rect x="279.2" y="1838.2" width="105.6" height="105.8" fill="#fff" stroke="#b4b4b4" stroke-width="0.8"/>
<ellipse transform="translate(316.16 1869.94) rotate(-45)" rx="17.95" ry="8.09" fill="url(#u1)"/>
<ellipse transform="translate(311.94 1917.55) rotate(0)" rx="13.46" ry="19.78" fill="url(#u2)"/>
<ellipse transform="translate(360.51 1914.38) rotate(-30)" rx="10.77" ry="14.39" fill="url(#u1)"/>
<ellipse transform="translate(310.88 1938.71) rotate(0)" rx="14.36" ry="7.19" fill="url(#u1)"/>
<path d="M335 1840.5h1m2 0h1m27 0h1m-43 1h1m0 0h1m-12 1h1m18 0h1m-13 1h1m15 0h1m0 0h1m0 0h1m2 0h1m0 0h1m-56 1h1m60 0h1m-37 1h1m42 0h1m0 0h1m15 0h1m-86 1h1m24 0h1m8 0h1m4 0h1m-32 1h1m11 0h1m27 0h1m4 0h1m-22 1h1m23 0h1m36 0h1m-89 1h1m8 0h1m21 0h1m1 0h1m10 0h1m4 0h1m24 0h1m-45 1h1m12 0h1m1 0h1m2 0h1m9 0h1m7 0h1m-70 1h1m56 0h1m7 0h1m-70 1h1m0 0h1m53 0h1m2 0h1m10 0h1m21 0h1m-86 1h1m11 0h1m6 0h1m2 0h1m4 0h1m-39 1h1m16 0h1m14 0h1m26 0h1m7 0h1m2 0h1m14 0h1m-54 1h1m26 0h1m7 0h1m1 0h1m5 0h1m-58 1h1m2 0h1m4 0h1m2 0h1m26 0h1m17 0h1m1 0h1m0 0h1m-64 1h1m7 0h1m33 0h1m7 0h1m7 0h1m13 0h1m6 0h1m-88 1h1m15 0h1m32 1h1m12 0h1m4 0h1m3 0h1m3 0h1m-27 1h1m3 0h1m2 0h1m18 0h1m0 0h1m1 0h1m1 0h1m1 0h1m-79 1h1m10 0h1m5 0h1m38 0h1m1 0h1m2 0h1m0 0h1m0 0h1m15 0h1m2 0h1m-83 1h1m43 0h1m8 0h1m3 0h1m3 0h1m19 0h1m6 0h1m-90 1h1m5 0h1m2 0h1m3 0h1m38 0h1m26 1h1m0 1h1m0 0h1m-71 1h1m39 0h1m31 0h1m1 0h1m-87 1h1m11 0h1m31 0h1m37 0h1m3 0h1m-74 1h1m30 0h1m0 0h1m6 0h1m3 0h1m-65 1h1m18 0h1m31 0h1m14 0h1m-48 1h1m72 0h1m-30 1h1m30 0h1m-85 1h1m2 0h1m41 0h1m38 0h1m-87 1h1m43 0h1m3 0h1m-46 1h1m37 0h1m0 0h1m0 0h1m1 0h1m3 0h1m5 0h1m-63 1h1m6 0h1m51 0h1m5 0h1m27 0h1m4 0h1m-89 1h1m37 0h1m5 0h1m4 0h1m30 0h1m-41 1h1m0 0h1m6 0h1m4 0h1m30 0h1m-38 1h1m4 0h1m2 0h1m-23 1h1m1 0h1m17 0h1m-52 1h1m84 0h1m-91 1h1m3 0h1m31 0h1m5 0h1m2 0h1m2 0h1m1 0h1m1 0h1m1 0h1m26 0h1m-80 1h1m52 0h1m31 0h1m-88 1h1m79 0h1m-79 1h1m30 0h1m0 0h1m0 0h1m0 0h1m3 0h1m2 0h1m17 0h1m13 0h1m4 0h1m2 0h1m-84 1h1m3 0h1m29 0h1m2 0h1m23 0h1m0 0h1m10 0h1m6 0h1m2 0h1m2 0h1m-52 1h1m0 0h1m5 0h1m0 0h1m22 0h1m13 0h1m-82 1h1m39 0h1m21 0h1m1 0h1m13 0h1m7 0h1m-51 1h1m1 0h1m3 0h1m0 0h1m20 0h1m20 0h1m8 0h1m-54 1h1m18 0h1m11 0h1m5 0h1m0 0h1m-36 1h1m12 0h1m11 0h1m2 0h1m1 0h1m2 0h1m-76 1h1m49 0h1m1 0h1m23 0h1m-79 1h1m3 0h1m36 0h1m3 0h1m1 0h1m7 0h1m1 0h1m5 0h1m1 0h1m0 0h1m3 0h1m2 0h1m2 0h1m-33 1h1m1 0h1m2 0h1m1 0h1m3 0h1m3 0h1m5 0h1m5 0h1m1 0h1m8 0h1m0 0h1m-31 1h1m24 0h1m1 0h1m-81 1h1m1 0h1m40 0h1m45 0h1m1 0h1m-96 1h1m6 0h1m81 0h1m-36 1h1m26 0h1m13 0h1m-98 1h1m57 0h1m33 0h1m-84 1h1m45 0h1m30 0h1m-83 1h1m4 0h1m42 0h1m1 0h1m6 0h1m36 0h1m-96 1h1m48 0h1m2 0h1m32 0h1m-89 1h1m5 0h1m54 0h1m35 0h1m-94 2h1m0 0h1m1 0h1m47 0h1m2 1h1m37 0h1m-92 1h1m93 0h1m-6 1h1m-95 1h1m4 0h1m49 0h1m38 0h1m1 0h1m-94 1h1m2 0h1m51 0h1m-56 1h1m3 0h1m48 1h1m42 0h1m-99 1h1m54 0h1m38 0h1m-97 1h1m97 0h1m-1 1h1m2 1h1m-44 1h1m1 0h1m-56 1h1m52 0h1m1 0h1m-58 1h1m2 0h1m49 0h1m0 1h1m0 0h1m41 0h1m-41 1h1m40 0h1m-97 1h1m52 0h1m4 0h1m35 0h1m-99 1h1m3 0h1m50 0h1m4 0h1m38 0h1m-44 1h1m36 0h1m-91 2h1m52 0h1m35 0h1m-93 1h1m57 0h1m37 0h1m0 0h1m2 0h1m-98 1h1m0 0h1m53 0h1m8 0h1m28 0h1m-91 1h1m54 0h1m2 0h1m29 0h1m-42 1h1m9 0h1m3 0h1m21 0h1m5 0h1m-89 1h1m45 0h1m8 0h1m3 0h1m20 0h1m2 0h1m-89 1h1m69 0h1m-21 1h1m35 0h1m-90 1h1m4 0h1m48 0h1m21 0h1m16 0h1m-27 1h1m0 0h1m0 0h1m2 0h1m5 0h1m4 0h1m1 0h1m4 0h1m2 0h1m3 0h1m0 0h1m-98 1h1m3 0h1m57 0h1m2 0h1m15 0h1m0 0h1m-25 1h1m5 0h1m-9 1h1m0 0h1m0 0h1m2 0h1m34 0h1m-96 1h1m4 0h1m52 0h1m4 0h1m7 0h1m3 0h1m1 0h1m16 0h1m1 0h1m-44 1h1m0 0h1m-57 1h1m52 0h1m9 0h1m4 0h1m29 0h1m-99 1h1m50 0h1m0 0h1m1 0h1m-1 1h1m1 0h1" stroke="#8c98ff" stroke-width="1"/>
<path d="M326 1850.5h1m4 0h1m1 0h1m-8 1h1m6 0h1m-9 1h1m0 0h1m5 1h1m0 0h1m1 0h1m-16 1h1m11 0h1m3 0h1m-18 1h1m1 0h1m2 0h1m0 0h1m4 0h1m-2 1h1m3 0h1m0 0h1m-20 1h1m0 0h1m1 0h1m0 0h1m12 0h1m0 0h1m-17 1h1m-2 1h1m18 0h1m-22 1h1m17 0h1m28 0h1m-49 1h1m16 0h1m29 0h1m-50 1h1m18 0h1m24 0h1m4 0h1m4 0h1m-36 1h1m3 0h1m20 0h1m2 0h1m0 0h1m1 0h1m4 0h1m-37 1h1m29 0h1m0 0h1m0 0h1m2 0h1m-58 1h1m0 0h1m20 0h1m0 0h1m19 0h1m0 0h1m5 0h1m4 0h1m0 0h1m-37 1h1m0 0h1m26 0h1m1 0h1m2 0h1m0 0h1m1 0h1m0 0h1m-61 1h1m22 0h1m1 0h1m22 0h1m0 0h1m2 0h1m3 0h1m0 0h1m-58 1h1m21 0h1m0 0h1m20 0h1m0 0h1m0 0h1m0 0h1m0 0h1m4 0h1m0 0h1m1 0h1m2 0h1m-61 1h1m0 0h1m21 0h1m2 0h1m0 0h1m16 0h1m0 0h1m0 0h1m4 0h1m7 0h1m6 0h1m-66 1h1m44 0h1m0 0h1m5 0h1m3 0h1m0 0h1m-63 1h1m2 0h1m48 0h1m2 0h1m3 0h1m1 0h1m-61 1h1m23 0h1m1 0h1m1 0h1m21 0h1m0 0h1m6 0h1m0 0h1m2 0h1m1 0h1m1 0h1m-18 1h1m0 0h1m11 0h1m-62 1h1m20 0h1m0 0h1m25 0h1m6 0h1m1 0h1m8 0h1m-68 1h1m20 0h1m3 0h1m22 0h1m0 0h1m3 0h1m0 0h1m1 0h1m0 0h1m3 0h1m1 0h1m5 0h1m0 0h1m-71 1h1m19 0h1m0 0h1m0 0h1m1 0h1m26 0h1m2 0h1m9 0h1m0 0h1m0 0h1m0 0h1m-69 1h1m19 0h1m39 0h1m0 0h1m3 0h1m2 0h1m-72 1h1m21 0h1m4 0h1m31 0h1m5 0h1m2 0h1m4 0h1m-52 1h1m31 0h1m0 0h1m2 0h1m1 0h1m3 0h1m4 0h1m-69 1h1m23 0h1m28 0h1m0 0h1m1 0h1m3 0h1m1 0h1m4 0h1m-69 1h1m21 0h1m36 0h1m5 0h1m2 0h1m0 0h1m0 0h1m-71 1h1m1 0h1m14 0h1m0 0h1m0 0h1m0 0h1m4 0h1m32 0h1m9 0h1m-72 1h1m0 0h1m3 0h1m15 0h1m2 0h1m2 0h1m41 0h1m-64 1h1m0 0h1m10 0h1m1 0h1m5 0h1m0 0h1m-21 1h1m7 0h1m8 0h1m2 0h1m-27 1h1m6 0h1m0 0h1m0 0h1m1 0h1m4 0h1m4 0h1m3 0h1m-26 1h1m2 0h1m2 0h1m10 0h1m2 0h1m2 0h1m-26 1h1m5 0h1m4 0h1m2 0h1m1 0h1m2 0h1m0 0h1m9 0h1m-27 1h1m1 0h1m1 0h1m0 0h1m0 0h1m2 0h1m3 0h1m3 0h1m1 0h1m5 0h1m-26 1h1m8 0h1m0 0h1m0 0h1m0 0h1m2 0h1m12 0h1m-25 1h1m0 0h1m6 0h1m1 0h1m1 0h1m2 0h1m1 0h1m0 0h1m1 0h1m4 0h1m-29 1h1m1 0h1m9 0h1m1 0h1m1 0h1m2 0h1m4 0h1m0 0h1m-31 1h1m0 0h1m9 0h1m1 0h1m3 0h1m0 0h1m0 0h1m4 0h1m2 0h1m1 0h1m0 0h1m-27 1h1m3 0h1m2 0h1m0 0h1m1 0h1m7 0h1m1 0h1m0 0h1m5 0h1m-27 1h1m0 0h1m1 0h1m0 0h1m14 0h1m0 0h1m1 0h1m0 0h1m1 0h1m5 0h1m24 0h1m3 0h1m-64 1h1m1 0h1m0 0h1m0 0h1m0 0h1m2 0h1m16 0h1m9 1h1m0 0h1m19 0h1m0 0h1m1 0h1m8 0h1m-69 1h1m36 0h1m20 0h1m1 0h1m3 0h1m1 0h1m3 0h1m-74 1h1m3 0h1m0 0h1m2 0h1m22 0h1m3 0h1m2 0h1m16 0h1m0 0h1m4 0h1m1 0h1m0 0h1m-65 1h1m5 0h1m32 0h1m15 0h1m2 0h1m3 0h1m1 0h1m7 0h1m0 0h1m-75 1h1m5 0h1m27 0h1m4 0h1m26 0h1m1 0h1m0 0h1m5 0h1m1 0h1m-78 1h1m0 0h1m34 0h1m1 0h1m24 0h1m-60 1h1m30 0h1m0 0h1m2 0h1m0 0h1m18 0h1m14 0h1m3 0h1m-79 1h1m41 0h1m-41 1h1m0 0h1m1 0h1m30 0h1m0 0h1m0 0h1m2 0h1m2 0h1m11 0h1m19 0h1m3 0h1m-79 1h1m34 0h1m0 0h1m3 0h1m0 0h1m7 0h1m0 0h1m0 0h1m1 0h1m1 0h1m21 0h1m0 0h1m1 0h1m-80 1h1m36 0h1m12 0h1m4 0h1m19 0h1m3 0h1m-83 1h1m1 0h1m1 0h1m46 0h1m-48 1h1m36 0h1m1 0h1m11 0h1m23 0h1m-81 1h1m2 0h1m1 0h1m35 0h1m8 0h1m1 0h1m27 0h1m1 0h1m-43 1h1m15 0h1m24 0h1m-79 1h1m40 0h1m-43 1h1m36 0h1m12 0h1m3 0h1m0 0h1m0 0h1m23 0h1m1 0h1m-83 1h1m0 0h1m37 0h1m15 0h1m-55 1h1m36 0h1m3 0h1m37 0h1m1 0h1m-46 1h1m0 0h1m0 0h1m-40 1h1m1 0h1m40 0h1m0 0h1m7 0h1m-52 1h1m0 0h1m35 0h1m1 0h1m38 0h1m0 0h1m1 0h1m0 0h1m-86 1h1m1 0h1m0 0h1m35 0h1m14 0h1m3 0h1m0 0h1m24 0h1m-85 1h1m1 0h1m0 0h1m56 0h1m21 0h1m0 0h1m-42 1h1m17 0h1m21 0h1m0 0h1m0 0h1m-82 1h1m0 0h1m55 0h1m1 0h1m21 0h1m-45 1h1m0 0h1m14 0h1m2 0h1m0 0h1m0 0h1m0 0h1m18 0h1m2 0h1m-84 1h1m1 0h1m34 0h1m1 0h1m21 0h1m0 0h1m-63 1h1m3 0h1m32 0h1m3 0h1m1 0h1m18 0h1m2 0h1m11 0h1m-79 1h1m37 0h1m0 0h1m21 0h1m2 0h1m0 0h1m0 0h1m6 0h1m0 0h1m2 0h1m-76 1h1m1 0h1m33 0h1m1 0h1m22 0h1m3 0h1m6 0h1m2 0h1m-76 1h1m65 0h1m0 0h1m2 0h1m3 0h1m0 0h1m1 0h1m-80 1h1m1 0h1m0 0h1m1 0h1m33 0h1m0 0h1m29 0h1m2 0h1m6 0h1m-80 1h1m3 0h1m0 0h1m35 0h1m23 0h1m-62 1h1m0 0h1m30 0h1m0 0h1m36 0h1m-76 1h1m0 0h1m0 0h1m37 0h1m-36 1h1m32 0h1m-39 1h1m36 0h1m2 0h1m1 0h1m-6 1h1m5 0h1m-43 1h1m1 0h1m0 0h1m33 0h1m-37 1h1m1 0h1m34 0h1m1 0h1m-38 1h1m32 0h1m-34 1h1m34 0h1m2 1h1m-39 1h1m2 0h1m28 0h1m3 0h1m0 0h1m-9 1h1m0 0h1" stroke="#6472fa" stroke-width="1"/>
<path d="M326 1856.5h1m0 0h1m-8 1h1m0 0h1m2 0h1m2 0h1m-7 1h1m1 0h1m1 0h1m-7 1h1m0 0h1m1 0h1m0 0h1m1 0h1m0 0h1m1 0h1m1 0h1m-16 1h1m0 0h1m1 0h1m0 0h1m6 0h1m1 0h1m-15 1h1m11 0h1m0 0h1m1 0h1m-4 1h1m0 0h1m-15 1h1m12 0h1m-16 1h1m0 0h1m0 0h1m-3 1h1m0 0h1m13 0h1m-16 1h1m-4 1h1m0 0h1m0 0h1m-4 1h1m1 0h1m14 0h1m0 0h1m-20 1h1m0 0h1m16 0h1m-19 1h1m16 0h1m-2 1h1m1 0h1m-21 1h1m1 0h1m15 0h1m0 0h1m-19 1h1m0 0h1m15 0h1m0 0h1m-19 1h1m15 0h1m0 0h1m-20 1h1m0 0h1m16 0h1m-5 1h1m0 0h1m1 0h1m-18 1h1m0 1h1m12 0h1m-14 1h1m8 0h1m0 0h1m2 0h1m-16 1h1m2 0h1m5 0h1m0 0h1m0 0h1m-13 1h1m1 0h1m0 0h1m0 0h1m0 0h1m0 0h1m0 0h1m0 0h1m-7 1h1m0 0h1m0 0h1m0 0h1m1 0h1m2 0h1m0 0h1m-3 1h1m-7 1h1m1 0h1m1 0h1m1 0h1m-5 1h1m5 9h1m1 0h1m-7 1h1m1 0h1m1 0h1m2 0h1m-10 1h1m0 0h1m1 0h1m6 0h1m-12 1h1m1 0h1m1 0h1m1 0h1m2 0h1m0 0h1m0 0h1m2 0h1m-17 1h1m2 0h1m0 0h1m0 0h1m0 0h1m2 0h1m4 0h1m0 0h1m1 0h1m-19 1h1m0 0h1m2 0h1m0 0h1m10 0h1m0 0h1m0 0h1m-18 1h1m0 0h1m0 0h1m11 0h1m0 0h1m0 0h1m1 0h1m-21 1h1m1 0h1m15 0h1m0 0h1m2 0h1m-23 1h1m0 0h1m17 0h1m1 0h1m33 0h1m1 0h1m1 0h1m0 0h1m-62 1h1m1 0h1m19 0h1m0 0h1m32 0h1m5 0h1m0 0h1m-65 1h1m22 0h1m0 0h1m28 0h1m0 0h1m0 0h1m1 0h1m0 0h1m3 0h1m0 0h1m0 0h1m-67 1h1m0 0h1m0 0h1m0 0h1m24 0h1m27 0h1m2 0h1m0 0h1m1 0h1m0 0h1m0 0h1m0 0h1m1 0h1m1 0h1m-69 1h1m1 0h1m22 0h1m0 0h1m1 0h1m24 0h1m1 0h1m8 0h1m1 0h1m0 0h1m-68 1h1m0 0h1m24 0h1m0 0h1m24 0h1m0 0h1m1 0h1m10 0h1m-68 1h1m1 0h1m49 0h1m0 0h1m1 0h1m12 0h1m-68 1h1m26 0h1m0 0h1m0 0h1m21 0h1m0 0h1m15 0h1m1 0h1m0 0h1m-72 1h1m68 0h1m-71 1h1m0 0h1m27 0h1m1 0h1m20 0h1m0 0h1m18 0h1m0 0h1m-76 1h1m1 0h1m0 0h1m27 0h1m1 0h1m39 0h1m-72 1h1m28 0h1m22 0h1m0 0h1m0 0h1m-57 1h1m1 0h1m30 0h1m20 0h1m-23 1h1m22 0h1m20 0h1m-76 1h1m29 0h1m0 0h1m22 0h1m0 0h1m0 0h1m15 0h1m0 0h1m-75 1h1m1 0h1m52 0h1m2 0h1m15 0h1m-75 1h1m1 0h1m28 0h1m-32 1h1m1 0h1m29 0h1m23 0h1m15 0h1m-72 1h1m54 0h1m1 0h1m0 0h1m0 0h1m11 0h1m1 0h1m-75 1h1m1 0h1m29 0h1m0 0h1m24 0h1m0 0h1m10 0h1m0 0h1m-70 1h1m27 0h1m1 0h1m25 0h1m1 0h1m0 0h1m0 0h1m0 0h1m6 0h1m0 0h1m1 0h1m-73 1h1m0 0h1m0 0h1m26 0h1m32 0h1m0 0h1m5 0h1m0 0h1m0 0h1m0 0h1m-72 1h1m28 0h1m29 0h1m0 0h1m0 0h1m0 0h1m1 0h1m5 0h1m-41 1h1m29 0h1m2 0h1m2 0h1m-68 1h1m0 0h1m26 0h1m1 0h1m35 0h1m-65 1h1m-2 1h1m0 0h1m25 0h1m0 0h1m0 0h1m-27 1h1m22 0h1m0 0h1m1 0h1m-29 1h1m0 0h1m23 0h1m1 0h1m-27 1h1m23 0h1m0 0h1m0 0h1m0 0h1m-30 1h1m0 0h1m0 0h1m22 0h1m0 0h1m0 0h1m-26 1h1m0 0h1m23 0h1m0 0h1m0 0h1m-31 1h1m0 0h1m0 0h1m1 0h1m22 0h1m0 0h1m-29 1h1m1 0h1m0 0h1m24 0h1m0 0h1m-2 1h1m-26 1h1m23 0h1m0 0h1m1 0h1m-30 1h1m0 0h1m27 0h1m-30 1h1m0 0h1m23 0h1m2 0h1m-25 1h1m20 0h1m0 0h1m1 0h1m-28 1h1m2 0h1m0 0h1m17 0h1m3 0h1m-25 1h1m0 0h1m2 0h1m12 0h1m1 0h1m0 0h1m1 0h1" stroke="#4658f0" stroke-width="1"/>
<path d="M320 1860.5h1m0 0h1m-3 1h1m1 0h1m0 0h1m0 0h1m0 0h1m0 0h1m-9 1h1m0 0h1m1 0h1m0 0h1m1 0h1m0 0h1m-8 1h1m0 0h1m5 0h1m-11 1h1m0 0h1m0 0h1m6 0h1m0 0h1m0 0h1m-12 1h1m0 0h1m7 0h1m0 0h1m0 0h1m-14 1h1m0 0h1m9 0h1m-13 1h1m-1 1h1m11 0h1m-15 1h1m11 0h1m1 0h1m-14 1h1m10 0h1m0 0h1m-3 1h1m-14 1h1m0 0h1m10 0h1m-13 1h1m10 0h1m1 0h1m-13 1h1m8 0h1m1 0h1m-12 1h1m8 0h1m0 0h1m-13 1h1m1 0h1m5 0h1m0 0h1m0 0h1m-11 1h1m0 0h1m0 0h1m0 0h1m1 0h1m2 0h1m0 0h1m-11 1h1m0 0h1m0 0h1m0 0h1m1 0h1m0 0h1m2 0h1m-9 1h1m0 0h1m0 0h1m0 0h1m0 0h1m-5 1h1m0 0h1m0 0h1m0 0h1m0 19h1m3 0h1m-8 1h1m0 0h1m0 0h1m0 0h1m0 0h1m0 0h1m0 0h1m0 0h1m0 0h1m-10 1h1m0 0h1m4 0h1m0 0h1m0 0h1m1 0h1m1 0h1m-15 1h1m2 0h1m1 0h1m4 0h1m0 0h1m1 0h1m-15 1h1m0 0h1m0 0h1m0 0h1m11 0h1m0 0h1m0 0h1m-18 1h1m0 0h1m13 0h1m2 0h1m-21 1h1m0 0h1m0 0h1m0 0h1m15 0h1m1 0h1m-21 1h1m17 0h1m0 0h1m0 0h1m33 0h1m0 0h1m0 0h1m1 0h1m-61 1h1m20 0h1m0 0h1m0 0h1m33 0h1m0 0h1m0 0h1m0 0h1m0 0h1m0 0h1m-61 1h1m18 0h1m0 0h1m0 0h1m30 0h1m0 0h1m0 0h1m0 0h1m0 0h1m1 0h1m1 0h1m1 0h1m-65 1h1m0 0h1m20 0h1m0 0h1m0 0h1m28 0h1m0 0h1m0 0h1m0 0h1m0 0h1m0 0h1m2 0h1m0 0h1m0 0h1m-63 1h1m21 0h1m0 0h1m28 0h1m0 0h1m1 0h1m6 0h1m1 0h1m-66 1h1m22 0h1m0 0h1m28 0h1m0 0h1m-55 1h1m22 0h1m0 0h1m29 0h1m9 0h1m1 0h1m0 0h1m-70 1h1m0 0h1m25 0h1m27 0h1m0 0h1m0 0h1m9 0h1m1 0h1m-70 1h1m24 0h1m29 0h1m0 0h1m11 0h1m-69 1h1m1 0h1m53 0h1m0 0h1m9 0h1m0 0h1m0 0h1m-70 1h1m54 0h1m11 0h1m-68 1h1m0 0h1m55 0h1m0 0h1m7 0h1m0 0h1m1 0h1m-70 1h1m0 0h1m24 0h1m29 0h1m0 0h1m0 0h1m0 0h1m0 0h1m5 0h1m1 0h1m0 0h1m-69 1h1m0 0h1m24 0h1m29 0h1m0 0h1m3 0h1m0 0h1m0 0h1m0 0h1m0 0h1m1 0h1m-68 1h1m0 0h1m22 0h1m32 0h1m0 0h1m0 0h1m2 0h1m1 0h1m-66 1h1m24 0h1m0 0h1m32 0h1m0 0h1m0 0h1m0 0h1m0 0h1m1 0h1m-64 1h1m22 0h1m36 0h1m-61 1h1m22 0h1m-24 1h1m21 0h1m0 0h1m0 0h1m-26 1h1m1 0h1m20 0h1m1 0h1m-24 1h1m0 0h1m18 0h1m1 0h1m-23 1h1m0 0h1m19 0h1m0 0h1m-24 1h1m0 0h1m0 0h1m18 0h1m-21 1h1m1 0h1m17 0h1m-3 1h1m1 0h1m0 0h1m-22 1h1m0 0h1m0 0h1m0 0h1m15 0h1m0 0h1m0 0h1m-22 1h1m0 0h1m1 0h1m14 0h1m0 0h1m-20 1h1m17 0h1m1 0h1m-20 1h1m18 0h1m-21 1h1m0 0h1m0 0h1m15 0h1m0 0h1m0 0h1m-22 1h1m1 0h1m17 0h1m0 0h1m-21 1h1m0 0h1m16 0h1m-20 1h1m0 0h1m1 0h1m16 0h1m-20 1h1m0 0h1m15 0h1m1 0h1m-19 1h1m0 0h1m0 0h1m12 0h1m1 0h1m0 0h1m-18 1h1m1 0h1m0 0h1m0 0h1m0 0h1m4 0h1m2 0h1m0 0h1m0 0h1m0 0h1m-14 1h1m0 0h1m0 0h1m0 0h1m0 0h1m0 0h1m0 0h1m0 0h1m0 0h1m0 0h1m0 0h1" stroke="#2c6ee2" stroke-width="1"/>
<path d="M317 1864.5h1m0 0h1m2 0h1m0 0h1m-7 1h1m0 0h1m0 0h1m0 0h1m0 0h1m1 0h1m-9 1h1m0 0h1m0 0h1m0 0h1m0 0h1m3 0h1m-10 1h1m2 0h1m4 0h1m0 0h1m-10 1h1m0 0h1m4 0h1m0 0h1m-9 1h1m0 0h1m6 0h1m-10 1h1m0 0h1m7 0h1m-11 1h1m1 0h1m4 0h1m0 0h1m0 0h1m-10 1h1m0 0h1m5 0h1m0 0h1m-9 1h1m1 0h1m0 0h1m0 0h1m1 0h1m-7 1h1m1 0h1m0 0h1m0 0h1m0 0h1m-7 1h1m0 0h1m0 0h1m0 0h1m0 0h1m0 0h1m0 0h1m-7 1h1m0 0h1m0 0h1m-2 26h1m0 0h1m0 0h1m0 0h1m-4 1h1m0 0h1m0 0h1m2 0h1m0 0h1m-11 1h1m0 0h1m1 0h1m0 0h1m4 0h1m0 0h1m0 0h1m-12 1h1m8 0h1m1 0h1m-13 1h1m0 0h1m11 0h1m0 0h1m-17 1h1m0 0h1m0 0h1m12 0h1m0 0h1m0 0h1m-17 1h1m14 0h1m0 0h1m-19 1h1m0 0h1m17 0h1m37 0h1m0 0h1m-59 1h1m0 0h1m16 0h1m0 0h1m35 0h1m1 0h1m0 0h1m-60 1h1m0 0h1m19 0h1m34 0h1m0 0h1m0 0h1m0 0h1m0 0h1m0 0h1m0 0h1m-62 1h1m18 0h1m36 0h1m0 0h1m0 0h1m0 0h1m1 0h1m-63 1h1m0 0h1m19 0h1m35 0h1m1 0h1m0 0h1m0 0h1m1 0h1m-64 1h1m19 0h1m0 0h1m33 0h1m0 0h1m0 0h1m1 0h1m1 0h1m1 0h1m-64 1h1m20 0h1m34 0h1m0 0h1m0 0h1m1 0h1m0 0h1m0 0h1m-64 1h1m21 0h1m0 0h1m34 0h1m1 0h1m0 0h1m1 0h1m0 0h1m-65 1h1m0 0h1m21 0h1m33 0h1m0 0h1m0 0h1m0 0h1m1 0h1m0 0h1m-64 1h1m0 0h1m20 0h1m36 0h1m0 0h1m-60 2h1m0 0h1m18 0h1m0 0h1m-22 1h1m19 0h1m0 0h1m-22 1h1m0 0h1m-2 1h1m19 0h1m-1 1h1m-20 1h1m0 0h1m16 0h1m0 0h1m-18 1h1m14 0h1m0 0h1m-18 1h1m0 0h1m0 0h1m14 0h1m-18 1h1m1 0h1m12 0h1m0 0h1m-15 1h1m0 0h1m10 0h1m0 0h1m0 0h1m-15 1h1m0 0h1m9 0h1m-12 1h1m1 0h1m8 0h1m0 0h1m-13 1h1m0 0h1m1 0h1m6 0h1m0 0h1m0 0h1m0 0h1m-13 1h1m0 0h1m8 0h1m-12 1h1m0 0h1m10 0h1m-14 1h1m11 0h1m0 0h1m0 0h1m-16 1h1m1 0h1m0 0h1m9 0h1m1 0h1m-14 1h1m10 0h1m1 0h1m-15 1h1m0 0h1m1 0h1m7 0h1m0 0h1m1 0h1m-12 1h1m0 0h1m4 0h1m0 0h1m0 0h1m0 0h1m0 0h1m-11 1h1m1 0h1m0 0h1m0 0h1m0 0h1m1 0h1m1 0h1m-8 1h1m0 0h1m0 0h1" stroke="#20a4c4" stroke-width="1"/>
<path d="M318 1867.5h1m-4 1h1m0 0h1m1 0h1m-4 1h1m1 0h1m-4 1h1m1 0h1m0 0h1m-5 1h1m0 0h1m1 0h1m-4 1h1m0 0h1m-6 33h1m1 0h1m0 0h1m1 0h1m-8 1h1m0 0h1m0 0h1m0 0h1m0 0h1m0 0h1m1 0h1m0 0h1m0 0h1m-11 1h1m0 0h1m0 0h1m1 0h1m0 0h1m0 0h1m0 0h1m0 0h1m0 0h1m0 0h1m0 0h1m-13 1h1m0 0h1m1 0h1m1 0h1m2 0h1m0 0h1m0 0h1m0 0h1m0 0h1m0 0h1m-15 1h1m0 0h1m0 0h1m0 0h1m7 0h1m0 0h1m0 0h1m1 0h1m-15 1h1m0 0h1m9 0h1m0 0h1m0 0h1m0 0h1m-17 1h1m0 0h1m0 0h1m0 0h1m10 0h1m0 0h1m0 0h1m-17 1h1m0 0h1m13 0h1m0 0h1m0 0h1m-17 1h1m0 0h1m13 0h1m-17 1h1m0 0h1m14 0h1m0 0h1m-19 1h1m0 0h1m0 0h1m15 0h1m0 0h1m-19 1h1m0 0h1m14 0h1m0 0h1m0 0h1m-20 1h1m16 0h1m0 0h1m-18 1h1m15 0h1m0 0h1m0 0h1m-20 1h1m0 0h1m0 0h1m14 0h1m0 0h1m-18 1h1m0 0h1m14 0h1m0 0h1m-18 1h1m0 0h1m13 0h1m0 0h1m-17 1h1m0 0h1m0 0h1m12 0h1m0 0h1m0 0h1m-18 1h1m0 0h1m1 0h1m10 0h1m0 0h1m0 0h1m0 0h1m-17 1h1m0 0h1m0 0h1m10 0h1m0 0h1m0 0h1m-15 1h1m1 0h1m8 0h1m0 0h1m0 0h1m0 0h1m-15 1h1m0 0h1m0 0h1m1 0h1m4 0h1m0 0h1m0 0h1m0 0h1m0 0h1m-13 1h1m0 0h1m0 0h1m0 0h1m1 0h1m0 0h1m2 0h1m1 0h1m-12 1h1m0 0h1m1 0h1m0 0h1m1 0h1m0 0h1m1 0h1m0 0h1m-10 1h1m1 0h1m0 0h1m0 0h1m1 0h1m0 0h1m0 0h1m0 0h1m-9 1h1m0 0h1m0 0h1m1 0h1m1 0h1m0 0h1m-8 1h1m4 0h1m-4 1h1m0 0h1m1 0h1m0 0h1m-7 1h1m0 0h1m1 0h1m1 0h1m-6 1h1m0 0h1m0 0h1m0 0h1m0 0h1m0 0h1m-7 1h1m2 0h1m0 0h1m0 0h1m0 0h1m0 0h1m0 0h1m-9 1h1m0 0h1m0 0h1m1 0h1m0 0h1m1 0h1m-8 1h1m0 0h1m0 0h1m0 0h1m0 0h1m0 0h1m0 0h1m1 0h1m-6 1h1m1 0h1m-3 1h1m0 0h1m0 0h1" stroke="#34c664" stroke-width="1"/>
<path d="M311 1908.5h1m0 0h1m-3 1h1m0 0h1m0 0h1m0 0h1m0 0h1m-8 1h1m0 0h1m0 0h1m0 0h1m0 0h1m0 0h1m0 0h1m0 0h1m0 0h1m-9 1h1m0 0h1m0 0h1m0 0h1m0 0h1m1 0h1m0 0h1m0 0h1m0 0h1m-11 1h1m2 0h1m3 0h1m0 0h1m0 0h1m0 0h1m-11 1h1m0 0h1m0 0h1m5 0h1m0 0h1m0 0h1m0 0h1m-13 1h1m0 0h1m0 0h1m0 0h1m6 0h1m0 0h1m0 0h1m0 0h1m-3 1h1m0 0h1m0 0h1m-14 1h1m0 0h1m0 0h1m9 0h1m0 0h1m-14 1h1m0 0h1m0 0h1m8 0h1m0 0h1m0 0h1m-14 1h1m0 0h1m0 0h1m8 0h1m0 0h1m0 0h1m-14 1h1m1 0h1m8 0h1m0 0h1m-13 1h1m0 0h1m0 0h1m0 0h1m7 0h1m0 0h1m0 0h1m-13 1h1m1 0h1m6 0h1m0 0h1m0 0h1m-12 1h1m1 0h1m0 0h1m3 0h1m0 0h1m0 0h1m0 0h1m-10 1h1m1 0h1m1 0h1m1 0h1m0 0h1m0 0h1m-9 1h1m0 0h1m1 0h1m0 0h1m0 0h1m1 0h1m0 0h1m0 0h1m-9 1h1m0 0h1m0 0h1m0 0h1m0 0h1m1 0h1m0 0h1m-5 1h1m0 0h1m0 0h1" stroke="#a8e030" stroke-width="1"/>
<path d="M311 1912.5h1m0 0h1m-4 1h1m0 0h1m0 0h1m0 0h1m0 0h1m-5 1h1m0 0h1m0 0h1m0 0h1m0 0h1m0 0h1m-7 1h1m0 0h1m0 0h1m0 0h1m0 0h1m1 0h1m-7 1h1m0 0h1m0 0h1m0 0h1m0 0h1m0 0h1m1 0h1m-8 1h1m0 0h1m0 0h1m0 0h1m0 0h1m0 0h1m0 0h1m0 0h1m-8 1h1m0 0h1m0 0h1m0 0h1m0 0h1m0 0h1m0 0h1m-7 1h1m0 0h1m0 0h1m0 0h1m0 0h1m1 0h1m0 0h1m-7 1h1m0 0h1m0 0h1m1 0h1m0 0h1m-6 1h1m0 0h1m0 0h1m0 0h1m0 0h1m-3 1h1" stroke="#f0c820" stroke-width="1"/>
<path d="M337.5 1838.2V1944M279.2 1884.7H384.8" stroke="#3c3c3c" stroke-width="1.1"/>
<path d="M276.2 1944H279.2M279.2 1944V1947M276.2 1908.73H279.2M314.4 1944V1947M276.2 1873.47H279.2M349.6 1944V1947M276.2 1838.2H279.2M384.8 1944V1947" stroke="#000" stroke-width="0.9"/>
<path d="M279.2 1838.2V1944H384.8" stroke="#000" stroke-width="0.9" fill="none"/>
<text x="275.2" y="1946" class="s" text-anchor="end">10<tspan dy="-2" font-size="3.5">2</tspan></text>
<text x="281.2" y="1956" class="s" text-anchor="middle">10<tspan dy="-2" font-size="3.5">2</tspan></text>
<text x="275.2" y="1910.73" class="s" text-anchor="end">10<tspan dy="-2" font-size="3.5">3</tspan></text>
<text x="316.4" y="1956" class="s" text-anchor="middle">10<tspan dy="-2" font-size="3.5">3</tspan></text>
<text x="275.2" y="1875.47" class="s" text-anchor="end">10<tspan dy="-2" font-size="3.5">4</tspan></text>
<text x="351.6" y="1956" class="s" text-anchor="middle">10<tspan dy="-2" font-size="3.5">4</tspan></text>
<text x="275.2" y="1840.2" class="s" text-anchor="end">10<tspan dy="-2" font-size="3.5">5</tspan></text>
<text x="386.8" y="1956" class="s" text-anchor="middle">10<tspan dy="-2" font-size="3.5">5</tspan></text>
<text x="332" y="1965" class="s" text-anchor="middle">AnnexinV</text>
<text transform="translate(265.2 1891.1) rotate(-90)" class="s" text-anchor="middle">PI</text>
<text x="281" y="1847.2" class="s">Q3</text>
<text x="281" y="1854.7" class="s">10.4</text>
<text x="375.8" y="1847.2" class="s" text-anchor="end">Q2</text>
<text x="375.8" y="1854.7" class="s" text-anchor="end">2.91</text>
<text x="281" y="1931.5" class="s">Q4</text>
<text x="281" y="1939" class="s">77.0</text>
<text x="375.8" y="1931.5" class="s" text-anchor="end">Q1</text>
<text x="375.8" y="1939" class="s" text-anchor="end">9.73</text>
</svg></body></html>
